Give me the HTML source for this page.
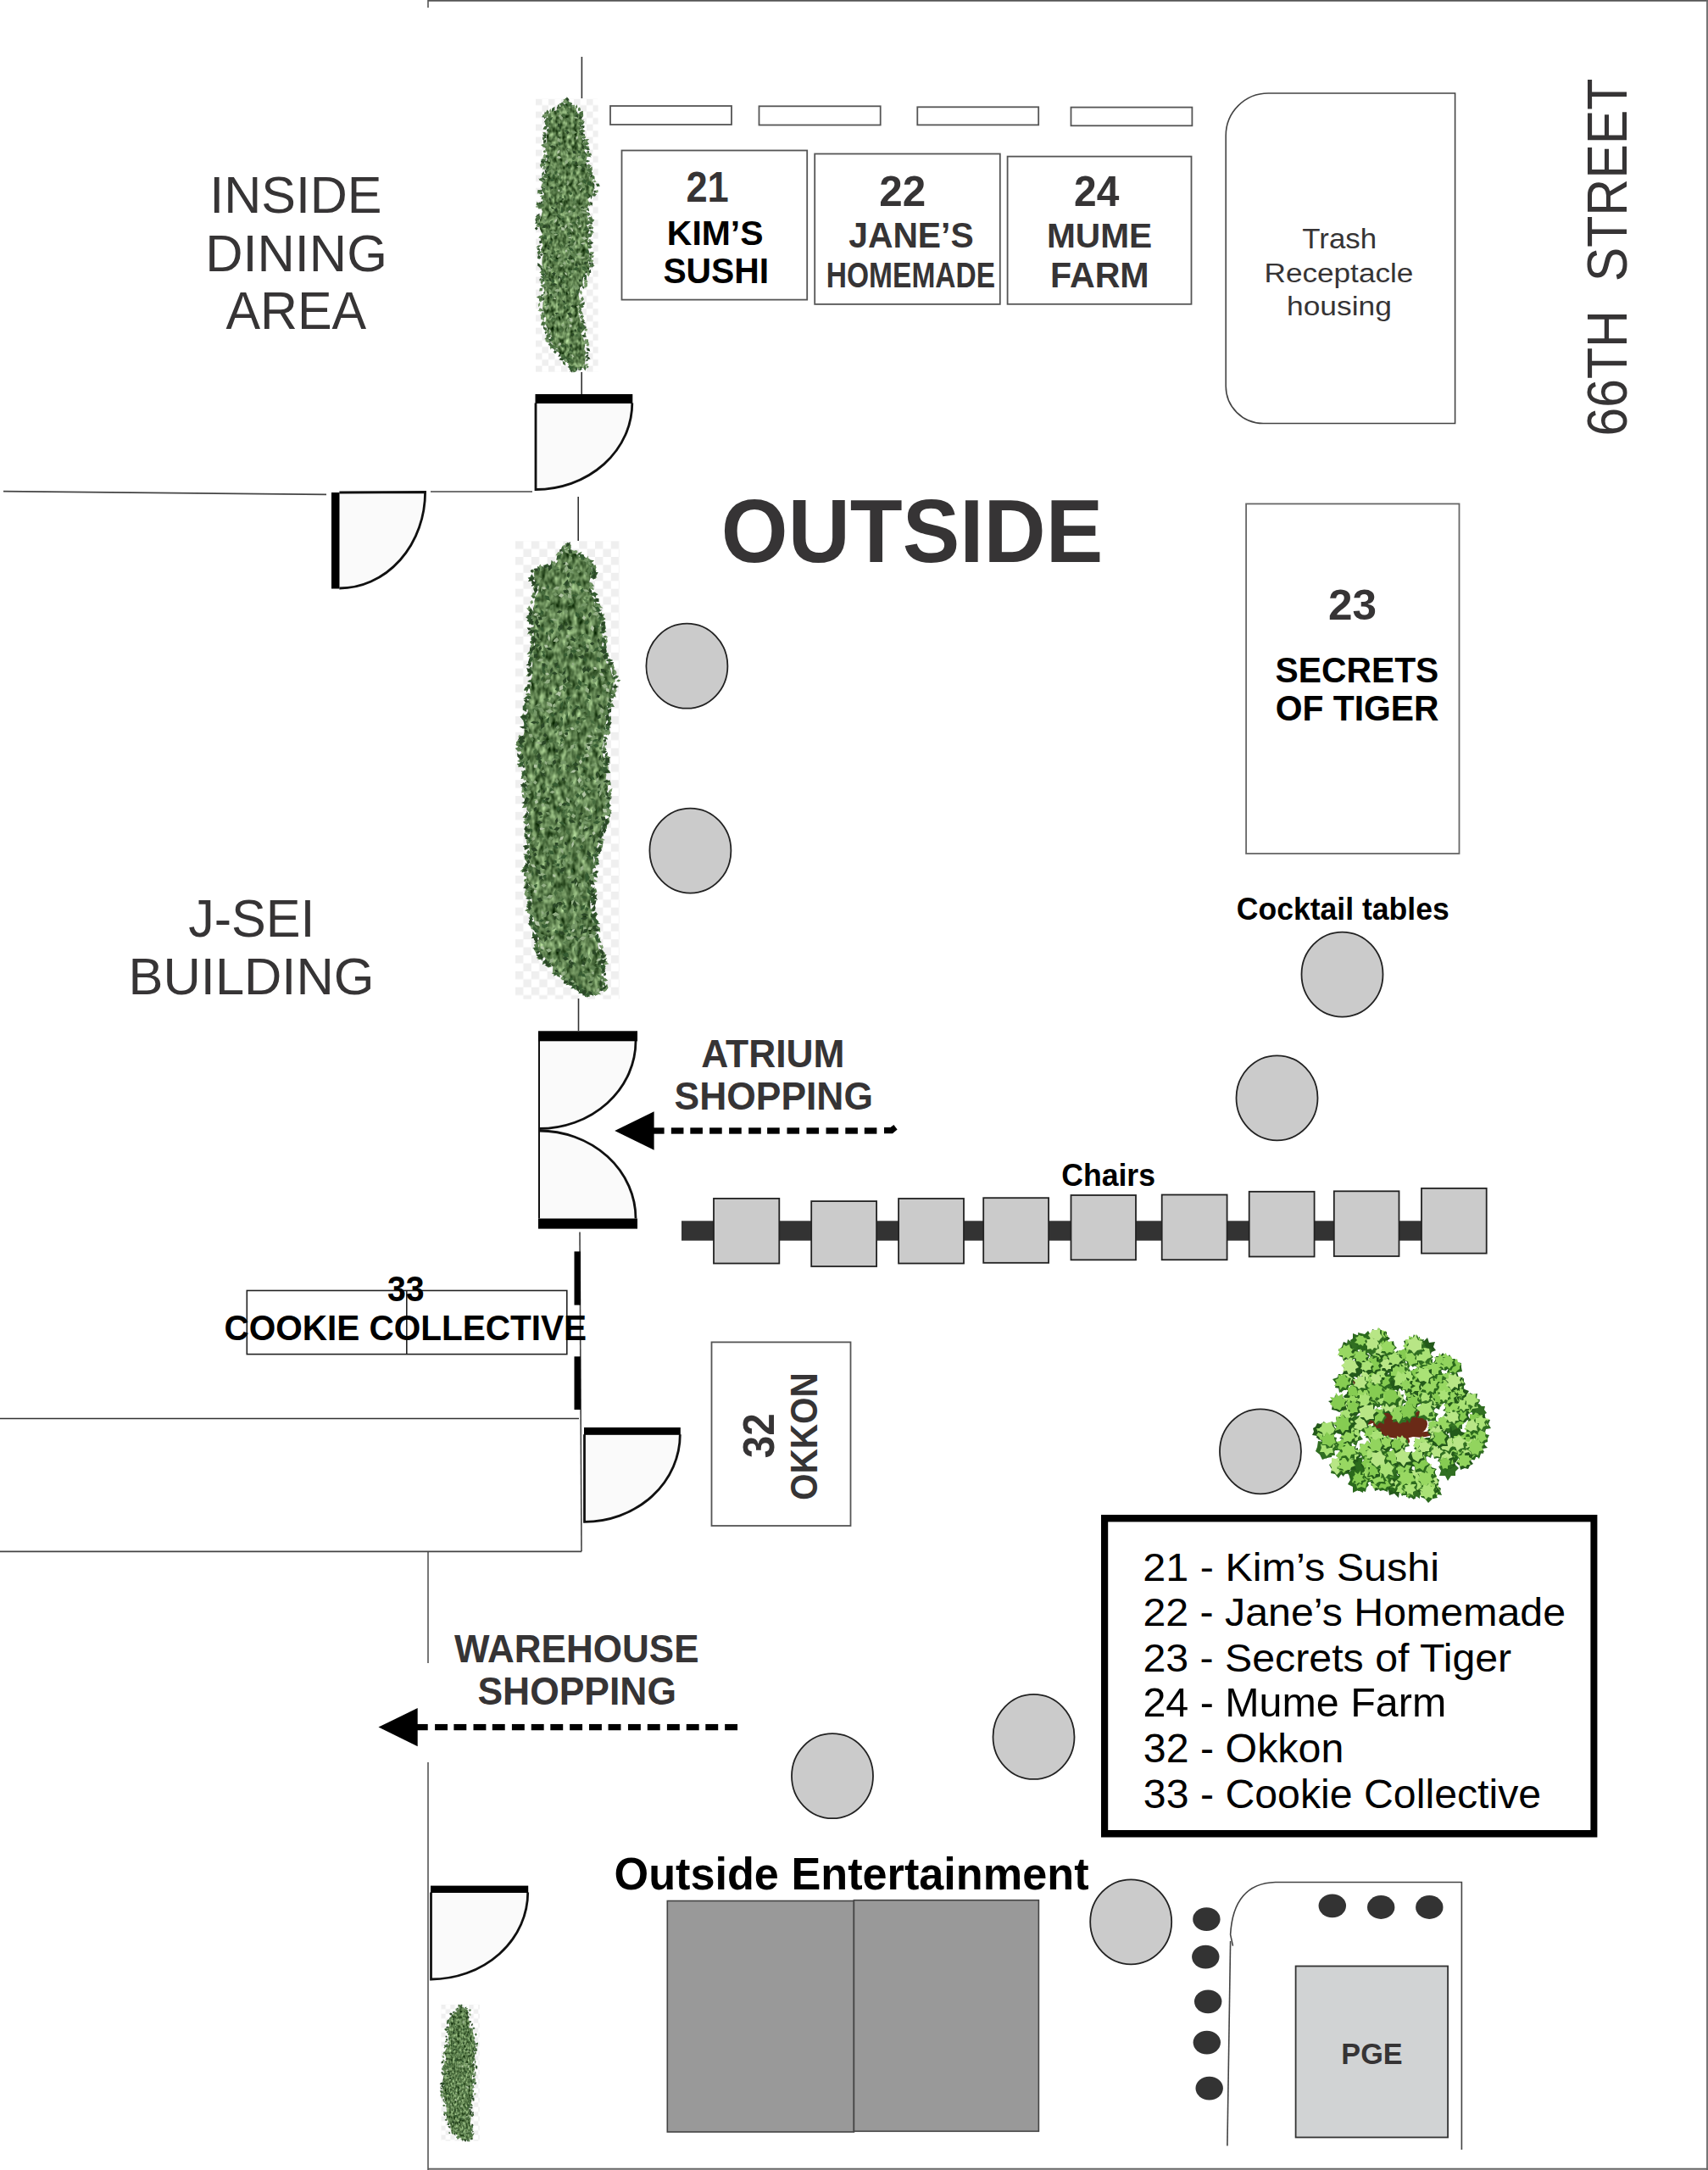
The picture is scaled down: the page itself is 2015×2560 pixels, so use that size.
<!DOCTYPE html>
<html><head><meta charset="utf-8"><title>Floor plan</title>
<style>html,body{margin:0;padding:0;background:#fff;width:2015px;height:2560px;overflow:hidden}svg{display:block;font-family:"Liberation Sans",sans-serif}</style>
</head><body>
<svg width="2015" height="2560" viewBox="0 0 2015 2560">
<rect width="2015" height="2560" fill="#fff"/>
<filter id="bl" x="-5%" y="-5%" width="110%" height="110%"><feGaussianBlur stdDeviation="0.45"/></filter>
<pattern id="cbb1" x="632" y="116.6" width="15.0" height="15.0" patternUnits="userSpaceOnUse"><rect width="15.0" height="15.0" fill="#fff"/><rect width="7.5" height="7.5" fill="#efefef"/><rect x="7.5" y="7.5" width="7.5" height="7.5" fill="#efefef"/></pattern>
<rect x="632" y="116.6" width="73.6" height="322.2" fill="url(#cbb1)"/>
<filter id="txb1" x="0" y="0" width="1" height="1" color-interpolation-filters="sRGB"><feTurbulence type="fractalNoise" baseFrequency="0.22 0.14" numOctaves="2" seed="11"/><feColorMatrix type="matrix" values="0.95 0 0 0 -0.11  1.0 0 0 0 0  0.85 0 0 0 -0.12  0 0 0 0 1"/><feComposite in2="SourceAlpha" operator="in"/></filter>
<path d="M670.6 119.5 L668.6 121.7 L663.3 124.6 L658.4 126.8 L656.2 130.4 L650.6 131.1 L646.8 135.4 L645.2 135.2 L647.4 142.5 L647.4 145.3 L646.8 147.3 L647.5 151.8 L645.6 156.8 L644.4 162.0 L645.2 167.7 L645.3 171.3 L645.0 175.6 L644.6 178.5 L646.4 185.4 L645.6 188.6 L643.5 191.2 L643.2 194.9 L644.8 200.4 L644.8 204.6 L644.8 210.4 L640.9 212.2 L643.8 217.3 L643.6 221.1 L639.9 226.1 L642.0 228.9 L639.1 233.3 L641.8 239.0 L638.3 241.2 L637.8 244.7 L639.9 249.3 L638.6 254.4 L636.8 259.5 L636.2 263.3 L636.4 266.8 L637.0 270.5 L640.1 276.8 L638.0 281.3 L637.9 283.9 L640.5 289.0 L638.1 294.6 L638.8 296.2 L641.1 300.8 L639.7 304.2 L639.3 310.4 L640.2 314.9 L641.0 318.7 L643.4 323.2 L642.4 329.0 L641.3 330.8 L644.3 337.5 L641.5 339.5 L642.9 346.4 L640.6 350.6 L642.7 353.6 L640.7 356.0 L640.0 363.6 L641.5 367.3 L642.2 372.2 L644.1 374.9 L643.3 381.0 L644.1 383.6 L647.0 390.2 L648.4 392.5 L650.7 396.6 L648.6 401.2 L651.3 404.8 L653.3 409.2 L657.8 411.6 L660.0 417.6 L665.2 420.0 L667.2 423.0 L668.2 424.3 L670.8 430.7 L671.7 434.4 L672.8 436.7 L674.4 437.0 L678.5 436.8 L682.3 434.0 L689.4 434.1 L689.8 429.1 L690.5 425.4 L689.3 420.2 L691.7 416.5 L689.3 411.9 L690.3 406.7 L688.8 401.7 L687.9 398.1 L685.5 393.8 L688.1 390.3 L686.5 384.2 L685.8 380.5 L684.5 376.9 L683.0 372.1 L682.6 367.0 L684.0 361.2 L684.5 357.6 L684.0 354.6 L682.4 346.8 L683.6 345.0 L684.3 339.0 L687.9 336.6 L687.3 333.2 L687.9 328.2 L690.1 323.0 L694.9 320.4 L695.3 314.2 L694.4 309.7 L692.9 306.1 L695.5 303.1 L695.2 299.2 L693.8 292.2 L694.5 288.3 L693.4 284.3 L694.6 280.1 L693.3 276.8 L695.4 270.9 L691.9 264.9 L694.5 260.4 L693.7 257.9 L692.6 254.4 L691.9 247.9 L693.8 243.3 L695.5 239.9 L693.4 235.0 L696.7 232.0 L698.2 228.4 L700.4 225.1 L701.5 217.9 L699.0 213.6 L695.6 210.5 L696.4 205.2 L693.0 201.6 L692.8 198.1 L692.2 194.8 L691.1 190.9 L692.7 184.3 L692.5 182.5 L689.3 177.4 L690.8 175.0 L688.1 169.8 L688.2 166.7 L686.6 161.6 L683.8 156.7 L684.4 154.4 L684.5 149.5 L683.3 145.6 L686.4 141.3 L685.1 136.0 L680.9 133.0 L679.3 127.5 L672.4 124.9 L670.0 123.2 L670.8 117.6 Z" fill="#577f4c" filter="url(#txb1)"/>
<g filter="url(#bl)">
<path fill="#2a4726" d="M654.8 369.1L656.5 372.1 659.9 371.7 658.2 368.8zM659.5 335.3L660.9 338.9 664.7 339.1 663.3 335.6zM649.9 244L651.3 246.4 654.1 247 652.6 244.5zM677.7 360.7L675.2 359.6 673.5 361.6 675.9 362.7zM682.6 385.5L685.1 388.4 689 388.1 686.4 385.2zM665.6 234.3L663.4 234 662 235.8 664.3 236.1zM647.1 327.1L647.5 330.8 650.8 332.4 650.4 328.7zM668.9 369.6L671.5 372.5 675.3 371.3 672.6 368.5zM687.6 170.7L685.9 173.9 688.3 176.6 690 173.4zM679.5 189.9L677.8 192.6 680 195 681.7 192.3zM681.4 310.5L683 312.8 685.8 312.8 684.2 310.4zM673.9 284.4L671.1 284.4 669.7 286.8 672.5 286.8zM678.7 310.3L678.4 313.3 681.2 314.6 681.5 311.5zM675.5 177.5L676.4 180.9 679.8 181.7 678.9 178.3zM661.3 265.2L659 263.3 657.1 265.5 659.4 267.4zM692.9 308.9L689.7 308.4 688.8 311.4 691.9 311.9zM647 264.2L646.8 267.4 649 269.7 649.2 266.5zM675.1 406.5L672.4 406.5 671.8 409 674.5 409.1zM656 322.4L653.3 320.9 650.7 322.7 653.4 324.2zM648 195.1L644.5 196.9 644.1 200.9 647.7 199.1zM663.1 354.1L664.9 357.4 668.4 359 666.6 355.6zM645.1 292L645.9 294.6 648.7 294.7 647.8 292.1zM658.8 239L655.8 238.1 654.2 240.8 657.2 241.7zM682.5 329.6L683.3 332.5 686.3 332.5 685.6 329.6zM660.7 231.6L659.7 233.9 661.9 235.3 662.8 232.9zM667.8 155.9L669.4 158.2 671.7 156.8 670.2 154.6zM693.7 214.1L694.9 217.5 698.4 217.2 697.2 213.8zM658.5 252.3L657 254.9 658.4 257.5 659.9 254.9zM654.1 320.4L652 323.5 653 327.1 655.1 324.1zM657.9 144.9L657.8 149 661.2 151.2 661.3 147.1zM656.7 245.2L653.9 246.9 654.6 250.1 657.5 248.4zM647.6 232.1L647.6 235.6 649.8 238.4 649.8 234.9zM645.8 265.6L641.6 265.3 639.1 268.8 643.3 269zM673.2 286.7L670.3 286.9 669.4 289.7 672.3 289.5zM640.1 298.5L642.4 300.6 645.5 300 643.2 297.9zM678.2 387.9L677.4 390.1 679.2 391.7 680 389.4zM657.5 335.3L653.9 334.1 650.5 335.7 654 336.9zM687.8 137.1L684.2 137.3 682.3 140.3 685.9 140.2zM690.4 199.1L687.5 197.8 685.4 200.1 688.3 201.5zM681.2 133.8L678.6 137.2 679.5 141.3 682.1 138zM666.8 424.7L669.4 427.9 673.5 427.2 670.9 423.9zM685.1 244.1L686.1 246.8 688.9 246.2 687.9 243.5zM648.4 221.1L650.6 223.2 653.4 221.9 651.2 219.9zM681.6 254.2L680.5 257.6 683 260 684.1 256.7zM657 342.5L656.5 346.1 658.7 349 659.2 345.4zM658.1 325.2L658.4 329.3 662.1 331.1 661.9 327zM648.2 172.2L651 175 654.8 174.1 652 171.3zM652.1 315.7L649.4 314.5 647.1 316.3 649.8 317.6zM651.1 346.4L648.4 346.9 648.9 349.6 651.6 349.2zM669.3 303.9L671.5 306.3 674.3 304.6 672.1 302.1zM674 393.9L675.2 396.2 677.5 395.1 676.3 392.7zM696.7 305.5L694.6 307.2 695.6 309.7 697.7 308zM640.9 300.4L638.6 299.3 636.6 300.8 638.8 301.9zM640.1 350.4L636.5 351.6 635.8 355.3 639.4 354.1zM686.1 434.1L683.1 433.2 681.7 436 684.7 436.9zM648.7 409.4L650.6 411.1 653 410.3 651.1 408.5zM668.4 422.6L665.1 421 662.1 423 665.3 424.6zM682.9 361L685.4 363 688.4 362.1 685.9 360.1zM685.7 384.9L687.1 386.9 689.5 386.8 688.1 384.9zM668.7 114.3L667.5 118.1 670.3 121 671.4 117.2zM691.8 175.9L693.6 177.4 695.4 175.9 693.6 174.5zM646.6 406.2L649.5 408.2 653 407.5 650.1 405.6zM640.3 320.5L639.6 324.3 642.1 327.4 642.8 323.5zM637.4 313.7L637.7 317.6 640.3 320.5 640 316.6zM633.2 257.9L631.4 259.7 632.3 262.1 634.2 260.3zM634.9 301.1L634.3 303.8 637 304.7 637.6 301.9zM686.8 432.8L683.8 432.4 683 435.3 686 435.7zM635.9 350.5L636.6 353.1 639.3 353.5 638.6 350.8zM683.1 154.8L684.9 157.8 688.5 158.1 686.6 155.1zM638.7 328L636.6 329.1 636.5 331.5 638.6 330.4zM698.4 204.9L696 208.2 697.2 212 699.6 208.7zM694.6 298.6L695.8 301.4 698.8 301.7 697.6 298.9zM642.9 131.4L642.3 134.5 643.9 137.1 644.5 134.1zM690.1 148.5L686.2 148.8 684 152 687.9 151.7zM641.6 189.6L639.6 192.4 639.9 195.8 641.9 193zM697.9 298.8L695.7 300.9 696.6 303.8 698.8 301.7zM666.8 422.6L662.6 421.3 659.3 424.2 663.5 425.4zM646 148L642.3 149.2 640.3 152.5 644 151.3zM644.3 164.2L641.1 165.9 641.2 169.5 644.4 167.9zM638.3 210.6L640.6 212.8 643.8 212.2 641.5 210zM662.2 417.6L659.4 418.3 658.4 420.9 661.1 420.2zM634.3 310.1L634.2 313.5 637 315.6 637.2 312.1zM640.8 223.8L637.1 224.6 634.8 227.6 638.5 226.8zM702.1 224.2L700.1 225.9 701.7 228 703.6 226.2zM695.4 262.2L696.6 264.6 699.2 263.9 698 261.5zM688.1 374.4L685.8 373 684.1 375 686.4 376.4zM636.9 253.7L633.7 253.8 631.5 256.1 634.7 256zM687 147.7L687.2 150 689.3 151 689.1 148.7zM651.2 400.1L647 400 645.1 403.7 649.2 403.7zM638.9 239.9L636.2 238.6 634.2 240.7 636.8 242zM630.8 269.5L632.7 271.5 634.7 269.7 632.8 267.6zM639.8 218.4L638.2 220.4 639.3 222.8 640.9 220.8zM697.8 309.8L695.5 309.5 694.3 311.5 696.6 311.9zM694.7 177.8L692.1 179 692.5 181.8 695.1 180.6zM641.6 188.8L638.7 189.7 639.6 192.5 642.4 191.6zM640.9 384.8L641.2 388 643.6 390.1 643.4 386.9zM640.4 188.7L637.9 189.9 638.7 192.6 641.1 191.4zM672.8 433.5L672.9 437.2 675.2 440.1 675.1 436.4zM698.3 308.4L697.4 312 699.3 315.3 700.1 311.7zM694.3 286.4L697.2 288.5 700.2 286.6 697.3 284.6zM644 156.3L641.4 159.2 642.3 162.9 644.9 160zM644 197L641.6 195.8 640.5 198.4 643 199.5zM639 283.5L636 284.5 636.7 287.5 639.7 286.6zM696.9 318.1L693.9 319.7 694.4 323 697.3 321.4zM676.5 434.4L673.5 435.7 672.2 438.7 675.2 437.4zM660.2 124.6L657.5 125.6 656.7 128.3 659.4 127.4zM698 305L694.2 303.6 690.8 305.7 694.5 307zM695.6 238.1L695.5 241.5 698.8 242.5 698.9 239zM636.5 251.8L632.9 254 632.6 258.2 636.2 256zM683.8 365.3L682.7 368 684.8 370 686 367.3zM641.3 336.9L641.3 339.2 643.5 340 643.5 337.6zM694.4 417.9L691.6 419 690.7 421.9 693.5 420.7zM696.9 200.6L695.1 203.9 696.8 207.4 698.6 204zM666.6 117.1L668.9 119.2 672 118.3 669.6 116.2zM685.3 379.6L687.9 381.5 691.2 381.3 688.5 379.3zM644.4 133.5L641.5 136.4 642.1 140.5 645 137.6zM648.2 392L646.3 390.6 644.5 392.2 646.4 393.6zM683.8 157.8L686.4 160.5 690 159.5 687.4 156.7zM640.6 368.2L638.7 369.6 639.4 371.9 641.4 370.5zM662.3 120.8L663.3 123.7 666.1 125 665 122.1zM639.1 236.9L637.5 238.8 638.7 240.9 640.3 239.1zM694.1 285.5L693.7 288.3 696.3 289.4 696.7 286.6zM642.8 199.2L642.8 203 645.1 205.9 645.2 202.2zM691.6 421.5L693.6 423.9 696.6 423.5 694.7 421.1zM695.7 195L693.5 196.9 693.5 199.8 695.8 197.9zM639.3 371.8L639.9 374.3 642.5 374.6 641.9 372.1zM691.6 410.3L692.8 413.7 696.3 414.4 695.1 411.1zM691.4 385.1L688.9 385.7 689.2 388.1 691.6 387.6zM654 407.5L652.7 410.6 654.3 413.6 655.7 410.4zM643.4 142.4L643.6 145.5 646 147.3 645.9 144.3zM641.2 350.9L640.4 353.1 641.9 354.8 642.7 352.7zM643.2 221.8L640.8 221.5 639.9 223.7 642.3 223.9zM698.2 267.7L695.3 267 694.1 269.6 696.9 270.4zM686.2 395.4L688.6 398.1 692.1 397.3 689.7 394.6zM687.3 376.1L685.6 379.2 688.1 381.6 689.8 378.5zM698.3 227.8L699.4 231.1 702.9 231.3 701.8 227.9z"/>
<path fill="#365b31" d="M651.6 283.6L648.3 284.9 647.5 288.3 650.8 287zM691.3 293.4L690.7 297.5 693.9 300 694.5 296zM640.3 279L641.8 282 645 282.4 643.6 279.4zM698.9 217.2L696.2 215.7 694.5 218.3 697.2 219.9zM647.4 349.5L650.3 352.1 654.1 351.6 651.2 349.1zM665.9 360.1L664.7 363.1 666.5 365.8 667.7 362.8zM682.3 385.4L681.2 388.9 683.2 391.9 684.2 388.4zM681.5 316.9L678.2 316 675.3 318 678.7 318.9zM651.5 347.3L653.8 348.5 656.1 347.5 653.9 346.2zM674.6 262.5L677.2 264.2 680.3 263.5 677.6 261.8zM680 432.2L677.4 435.2 679 438.8 681.5 435.8zM688.7 210.6L687.9 214.8 691 217.7 691.8 213.5zM659.6 167.5L658.1 170.3 660.8 172.2 662.3 169.3zM648.9 183.6L645.9 185.1 645.1 188.2 648 186.7zM648.8 204.8L645.8 205.3 645.2 208.2 648.1 207.7zM694.2 269.4L690.3 269.3 687.4 272 691.3 272zM678.5 434.7L676.4 436.6 678.1 438.9 680.2 437zM680.1 341.3L679.5 345.2 682.2 348 682.8 344.2zM660.9 407.5L663.8 410.1 667.4 408.6 664.5 406.1zM669.9 190.8L669.5 193.3 671.4 195.1 671.7 192.6zM647.5 211.7L650.7 214.3 654.6 213.1 651.5 210.5zM649.9 319.4L647.7 319 646.4 320.8 648.6 321.2zM681.1 177L682.1 180.6 685.7 181.3 684.7 177.7zM686.9 193L684.5 194.8 686.2 197.3 688.6 195.4zM651.2 271.1L649.4 273.5 649.8 276.5 651.6 274.1zM665.9 257.3L663.1 256.8 662.7 259.6 665.5 260.1zM677.8 283.6L675.3 285 676.7 287.5 679.1 286.1zM654.6 275.1L656.2 277.8 659.2 277.6 657.7 275zM643.3 330L645.3 332.2 648.1 331.5 646.2 329.3zM673.5 265.9L673.7 268.3 676.1 268.6 675.8 266.3zM652 328.6L650.2 331.9 652.6 334.7 654.4 331.5zM665.7 248.2L661.9 248.7 659.6 251.8 663.4 251.3zM642 276.2L642.5 280.1 645.2 283 644.7 279.1zM684.3 286.6L685.2 289.2 687.8 290 687 287.4zM665.1 154.4L667.9 155.8 671 154.7 668.1 153.3zM677.4 201.7L676.1 204.3 677.6 206.8 678.9 204.1zM683.2 316.4L679.3 315 676.2 317.8 680.1 319.2zM659.1 357.5L657.7 359.3 659 361.1 660.3 359.4zM673.7 422.7L670.7 421.8 669.1 424.5 672.1 425.4zM698.2 216.4L698.7 220.4 701.5 223.3 701 219.3zM652.7 302L649.7 301.1 648.3 303.9 651.2 304.8zM669.7 244.1L671.7 246.2 674.5 245.7 672.5 243.5zM676.4 303.4L674.5 306.3 676.4 309.1 678.3 306.2zM672.2 411.1L671.1 414.4 673.8 416.7 674.9 413.4zM644.7 303.2L644.4 305.8 646.7 307 647 304.4zM670.2 292.3L672.7 295.7 676.9 295.7 674.4 292.3zM688.8 183.2L687.3 186.1 688.2 189.3 689.7 186.4zM669.9 196.1L670.3 198.7 672.8 199.1 672.5 196.5zM653.2 204.2L651.8 207.8 653 211.4 654.3 207.8zM675.4 228.1L673.1 226.3 671.4 228.7 673.7 230.5zM648.3 399.8L649.7 402.2 652.5 401.9 651.1 399.4zM689.6 221.2L687 222.5 687.4 225.3 689.9 224zM650 397.6L650.9 400.3 653.6 400.9 652.8 398.2zM661.9 154.1L659.7 153.2 658.1 154.8 660.2 155.7zM656.5 130.4L657.4 132.9 660 132.6 659.1 130.1zM652.3 137.9L648.5 139.2 646.9 142.9 650.7 141.6zM692.4 213.2L690.2 212.1 688.8 214.2 691 215.3zM696.5 213.3L692.8 214.8 692.6 218.8 696.3 217.3zM657.5 201L654.2 202.9 654.6 206.7 657.9 204.8zM662.6 243.4L661.7 247.3 663.2 250.9 664.1 247.1zM669.9 305.6L667.8 304.3 665.9 305.8 668 307.1zM679.5 246.8L676.4 247.4 675.3 250.4 678.4 249.8zM666.5 325L662.9 325.3 662.1 328.8 665.7 328.5zM672.2 272.4L669.1 275.1 669.4 279.1 672.4 276.5zM652.4 305.9L655.1 308.6 659 308.3 656.2 305.6zM686.4 314.2L688.2 317.9 692.3 318.3 690.5 314.6zM667.9 115.5L665.8 117.2 666.4 119.8 668.5 118.1zM647.1 141.5L643.5 141.2 641.7 144.3 645.3 144.6zM642 136.4L643.3 138.9 645.6 137.4 644.4 135zM662.5 420L664.6 423.4 668.6 423.3 666.5 419.8zM643.5 212.5L640.8 215.2 640.7 219 643.4 216.3zM695 262.9L692.5 262.6 691.2 264.8 693.8 265.2zM648.7 392.6L647.4 394.4 648.6 396.4 649.9 394.5zM678.6 435.5L676.5 436 676.3 438.2 678.4 437.6zM640.4 328.1L638.6 330.7 640.9 332.9 642.7 330.3zM702.9 216.8L704.3 220 707.8 219.7 706.4 216.5zM692 250.1L693.4 253.1 696.6 254 695.2 251zM675.2 432.7L672.2 431.1 669.5 433 672.4 434.6zM694.7 200.2L696 202.5 698.4 201.3 697 199zM686.1 162.5L688.7 163.8 691.4 162.7 688.8 161.4zM688.8 322.6L688.5 326.8 691.9 329.2 692.2 325.1zM646.7 208.9L643.2 208.1 639.9 209.7 643.4 210.5zM684.4 145.1L684.1 148.9 686 152.2 686.4 148.4zM633 292.9L634.7 295.2 637.5 294.7 635.8 292.3zM641.2 161.4L642.3 163.5 644.6 162.7 643.5 160.5zM689.7 356L686.8 357.5 686.8 360.7 689.6 359.2zM632.7 261.8L634.2 265.8 638.4 266.7 636.9 262.6zM691.6 327.5L688.9 328 689.7 330.7 692.3 330.2zM672.6 122.4L672.7 125.1 674.8 126.8 674.8 124.1zM646.8 151.2L644.8 153.2 645.7 155.8 647.6 153.8zM639.7 187.8L641.1 191.2 644.7 192 643.3 188.6zM638.5 372.6L638.5 375.6 641.5 375.6 641.5 372.6zM696.2 312.3L698.6 314.2 701.7 314 699.3 312.1zM692.7 275.5L694.4 279 698.3 278.9 696.6 275.4zM685.4 132.9L684.6 136.2 687.1 138.3 687.9 135.1zM632.9 265L634.1 267.1 636.5 266.4 635.3 264.3zM699.4 311.6L697.6 313.5 698 316 699.8 314.1zM643 319.1L639.9 317.9 638.2 320.7 641.3 321.9zM671.3 120.4L668.5 120.3 668.2 123.1 671 123.2zM677.4 123.6L675.3 125.6 676.1 128.3 678.2 126.3zM644.3 135.6L640.9 135.5 639.1 138.3 642.5 138.4zM671.6 120.6L669.8 123.2 670.6 126.4 672.4 123.7zM641.7 321.1L639.8 323.1 641.4 325.4 643.3 323.4zM669.5 424.1L666.7 423.9 665.9 426.5 668.6 426.7zM701 297.6L698.1 297.4 696.4 299.8 699.3 299.9zM637 363.2L636.1 365.6 637.8 367.6 638.7 365.2zM696.3 302L694.4 304.8 695.9 307.8 697.8 305.1zM635.7 225.6L636.8 228.9 640.2 228.9 639.1 225.7zM687.4 131L685.1 134.2 685.7 138.1 688 134.9zM691.4 181.6L693.9 184.4 697.6 185.4 695 182.5zM639.8 158.8L641.2 161.1 643.8 161.4 642.5 159.1zM646.1 132.1L642.9 134.4 642.3 138.4 645.6 136.1zM641.5 210.1L638.5 210.4 636.8 213 639.9 212.7zM691.1 243.5L691.8 247.4 695.1 249.6 694.5 245.7zM634 302.6L635.4 304.9 638.1 304.9 636.7 302.7zM690.5 173.5L692.5 176.5 696 176.7 694.1 173.8zM648.6 142.5L645 144.5 644.3 148.6 647.9 146.6zM638.2 303.5L635.6 302.4 633.8 304.7 636.5 305.8zM689.8 157.8L687.8 160.2 688.1 163.3 690.1 160.9zM677 431.7L673.5 432.3 672 435.6 675.5 435zM699.5 227.1L699.1 230.1 701.2 232.4 701.6 229.3zM657 414.8L654.6 413 652.8 415.3 655.2 417.2zM635.5 260.9L632.5 261.2 631 263.8 634 263.5zM685.4 384L688 385.8 691.2 385.1 688.5 383.2zM684.7 384.6L686.7 387.8 690.5 388.2 688.4 385zM641.7 201.9L639.3 204.5 639.4 208.1 641.9 205.5zM675.1 434.9L673 433.3 671.2 435.2 673.3 436.8zM698.2 228L696.5 231.6 697.1 235.6 698.7 231.9zM639.9 207.3L639.3 210 641.2 212.1 641.8 209.3zM647.4 146.8L644.4 146.7 644.3 149.7 647.3 149.8zM673 120.6L671.8 122.9 674 124.3 675.2 122zM694 423.4L691.7 424 691.2 426.3 693.4 425.7zM696.4 190.1L692.9 188.8 689.4 190.2 692.9 191.5zM654.5 125.7L651.1 128.1 650.9 132.3 654.3 129.9zM686.1 165.8L689.6 167.9 693.3 166.3 689.8 164.1zM683.2 434.3L684.2 436.7 686.7 435.9 685.7 433.5zM687.1 336.7L687 339.3 688.9 341 689.1 338.4zM644 390.2L642.5 392.2 643.6 394.4 645 392.4zM684.7 128L682 127.8 681.9 130.5 684.6 130.7zM644.7 188.5L641 187.5 637.4 188.9 641.1 189.9zM639.5 320.7L638 323.5 640.3 325.8 641.8 322.9zM648.7 184.1L644.8 182.5 641.3 184.7 645.1 186.3zM690.7 416.2L692.7 417.8 694.9 416.6 692.9 414.9zM693.2 167.3L690.5 166.8 689.2 169.2 691.9 169.8zM649.6 390L646.5 390.1 644.5 392.5 647.5 392.3z"/>
<path fill="#b2c6a6" d="M648.8 387.8L647.3 390.7 648.4 393.7 649.9 390.9zM673.8 248.9L671.1 247.9 669.2 250 671.9 251zM679.7 361.8L682.6 363.8 685.8 362.2 682.9 360.1zM673.1 276.1L670.6 279.5 671.5 283.6 674 280.2zM661.9 268.1L662.5 271.6 666 272.1 665.4 268.6zM686.8 265.4L683.6 266.1 681.7 268.7 684.9 268.1zM691.3 286.8L687.9 285.9 684.8 287.8 688.3 288.6zM673.5 296.1L670.9 298.6 670.3 302.2 672.9 299.7zM668.4 263.8L666.1 266.8 666.5 270.6 668.8 267.6zM685.5 218.9L683.4 221.9 684.2 225.4 686.3 222.4zM644.2 343.1L642 346.2 643.8 349.6 646 346.4zM681.5 159.8L679.2 161.9 679.8 165 682.1 162.9zM656.6 185.2L659.2 187.5 662.2 185.9 659.7 183.7zM660 222.8L658 224.1 658.8 226.4 660.8 225.1zM657.5 257.2L654.5 259.5 653.7 263.2 656.7 260.9zM671.5 374.6L671.7 378.4 675.3 379.7 675.1 376zM671.8 382.2L671.3 385.4 674.3 386.6 674.8 383.4zM671.8 418.6L674.1 421.3 677.7 421.3 675.4 418.5zM651.7 351.2L653.6 353.1 656.3 353 654.4 351.1zM685.9 280.3L689.1 282.9 692.9 281.8 689.8 279.3zM660.8 176.3L657.7 178.2 657.1 181.8 660.2 179.9zM673 268.2L673.5 271.7 676.3 273.8 675.8 270.3zM668.3 293.9L666.5 295.7 667.5 298 669.3 296.2zM642.3 345.5L643 348.2 645.7 347.9 645 345.2zM665.8 320.9L666.7 323.8 669.3 325.1 668.5 322.3zM662.3 404.4L659.1 404.6 658.2 407.7 661.4 407.5z"/>
<path fill="#5b8050" d="M667.5 278L671.2 280 675.1 278.7 671.4 276.7zM661.8 371.5L660.8 374.7 662 377.9 663.1 374.7zM658.3 248.2L659.4 250.9 662.2 250.4 661.1 247.8zM670.4 359L668.2 360.2 668 362.6 670.2 361.4zM670.4 281.1L671.8 283.3 674.3 283.1 673 280.9zM644.1 168.8L647.6 170.9 651.3 169.2 647.8 167zM682.1 391.1L681.4 394.5 683.9 396.9 684.6 393.5zM678.6 296.2L678.2 300.4 681.2 303.4 681.6 299.2zM642.2 275.2L645.6 277.4 649.6 276.5 646.2 274.4zM650.2 252.2L652.6 254.2 655.7 254 653.3 252zM642.5 355.2L642.8 358.2 645.8 358.4 645.5 355.4zM689.8 237.8L687.6 240 689.6 242.5 691.9 240.2zM683.1 190.6L681.2 192.7 683.6 194.2 685.5 192.1zM688 180.4L688.3 183.5 691.1 184.5 690.9 181.4zM644.3 235.6L640.5 236.4 638.8 239.9 642.6 239.1zM669.4 294.3L670.2 298.4 674.3 299.7 673.4 295.5zM668.6 198.2L669.2 201.4 671.8 203.6 671.2 200.3zM665.3 255.1L662 254.4 659.8 256.8 663 257.5zM642.2 258.4L641.1 260.7 643.4 262 644.5 259.6zM659.9 230.6L661.4 232.9 663.5 231.2 662 228.9zM669.5 128.5L669.4 131.5 672.4 132.1 672.5 129zM677.5 345.9L675 345.6 673.5 347.6 676 347.9zM648.1 195.6L648.7 199 652.1 199.4 651.5 196zM652.9 251.4L655.2 254 658.8 254.1 656.4 251.5zM652.7 338L649 337.2 645.6 339 649.3 339.8zM656.6 239.7L652.8 241.2 651 244.8 654.8 243.4zM663.2 233.6L660.1 233.6 659 236.5 662.1 236.5zM675.8 236L676.9 239.5 680.6 239.8 679.4 236.3zM693.9 316.9L691.6 318.5 693.1 320.9 695.5 319.3zM681.3 259.7L680.7 262.5 682.6 264.7 683.3 261.9zM672.7 300.5L675.6 302.4 678.9 301.2 676 299.3zM663 389.7L660.4 388.2 659.2 390.8 661.8 392.3zM655.8 215.3L656.3 218.8 659.6 219.9 659.1 216.4zM665 262.9L662.2 261.5 660 263.8 662.8 265.2zM647.3 323.8L644.3 324.1 644.1 327.2 647.2 326.8zM660.5 272.5L656.4 272.2 653.5 275.1 657.5 275.3zM668.7 415.3L672.3 417.4 676.1 415.8 672.6 413.6zM650.9 350.4L650.9 353.2 653.6 353.2 653.7 350.5zM667.9 139L669.5 141.8 672.7 142.1 671.1 139.3zM676.4 333.9L674 337 673.8 340.9 676.2 337.8zM650.8 302.3L651 305.8 653.9 307.8 653.7 304.2zM662.4 206.4L659 207.1 658.6 210.5 661.9 209.8zM643.2 219.7L643.6 223.8 647.3 225.2 647 221.2zM652.6 299.3L651.2 301.5 653.1 303.3 654.4 301.1zM671.9 253L668.8 251.9 666.3 253.9 669.4 255zM653.3 385.7L653.2 388.3 655.4 389.6 655.5 387zM661.5 370.7L657.5 370 654.4 372.7 658.4 373.4zM673.5 418.1L672.1 420.8 673.7 423.3 675.1 420.7zM691.8 187.5L688.2 188.3 686.9 191.7 690.4 190.8zM657.2 204.1L655.3 206 657.3 207.8 659.3 205.9zM652.1 339.9L650.4 343.5 651.1 347.5 652.8 343.9zM638.1 223.5L634.8 225.2 633.9 228.7 637.2 227.1zM641.5 371L638 373 638.3 377.1 641.8 375zM641.7 378.2L640.4 382 641.8 385.8 643.1 382zM691.7 166.4L688.9 166.6 689.2 169.4 692 169.2zM645.2 380.2L642.1 379.7 640.5 382.3 643.5 382.9zM698.4 256.7L695.5 255.9 693.2 257.8 696.1 258.6zM687.3 349.7L684.9 352.5 686.6 355.8 689 353zM692.9 430.9L691.5 432.8 693.3 434.5 694.7 432.5zM657.4 409.4L653.8 408.2 651.1 410.8 654.7 412.1zM639.3 191.2L636.8 194.7 638.5 198.6 641 195.1zM646.6 335.1L642.5 334.3 639.3 336.9 643.4 337.7zM683.1 361.4L682.6 364.1 685.3 364.7 685.8 362zM677.7 123.7L675.9 125.7 676.2 128.4 678 126.4zM636.2 321.2L640 323.3 643.8 321.3 640.1 319.3zM682.3 367.1L684.1 370.6 688 370.7 686.2 367.2zM691.2 195.3L694.4 197.5 698 195.9 694.8 193.6zM642.9 172L642.7 174.6 645 175.8 645.2 173.1zM641.5 206.9L640.3 208.9 641.6 210.8 642.7 208.8zM689.3 141.5L686.2 141.6 684.1 143.8 687.2 143.7zM666.5 419.2L663.1 417.8 660.5 420.3 663.9 421.7zM638.4 213.5L640.5 215.6 643.4 215 641.3 212.9zM687.4 169.6L688.4 171.9 690.7 171 689.7 168.7zM689.3 167.9L691.5 170.8 695.1 170.1 692.9 167.1zM699.8 312.9L696.2 312.9 693.5 315.5 697.2 315.5zM699.7 203.7L696.6 202.7 694.4 205.2 697.6 206.2zM638 171L640.7 173.3 644 171.9 641.3 169.7zM689.2 373L686.9 371.9 685.1 373.8 687.4 374.9zM697 182.1L693.3 181.8 690.2 183.9 693.9 184.2zM649.8 143.8L646.3 143 643.9 145.7 647.4 146.5zM684.3 135.3L686 137.5 688.3 136 686.6 133.8zM639.5 243.8L636.3 243.6 634.4 246.2 637.7 246.4zM649.3 395.1L646.6 395.8 647.1 398.5 649.8 397.8zM641.9 132.9L642.1 136.9 644.9 139.8 644.7 135.8zM700.9 301.5L698.2 301.5 697 304 699.7 304zM695.7 252L692.7 251.1 691.7 254 694.7 254.9zM637.4 336.6L640.3 339.2 644 338.4 641.2 335.8zM639.4 279.1L636.8 278.4 635.3 280.6 637.9 281.4zM640.3 339.8L636.8 340.1 636.2 343.5 639.7 343.3zM644.2 174.5L643.2 176.8 644.5 178.9 645.5 176.6zM642.6 135L643.4 137.3 645.8 136.7 645 134.3zM695.2 163.9L691.6 164.1 689.2 166.6 692.7 166.5zM684.1 126.3L681.8 128 682.4 130.8 684.7 129.1zM639.1 329.1L637.5 332.8 639.2 336.3 640.8 332.7zM690.2 391.5L688.8 393.9 689.9 396.5 691.3 394.1zM696.5 181.1L693.5 181.8 692.9 184.9 696 184.2zM632.7 350.5L636.5 352.7 640.3 350.7 636.5 348.5zM649.3 408.2L651.2 411.1 654.5 409.9 652.6 407zM692.7 289.2L693.1 292.5 696.3 293.1 695.9 289.9zM688.1 379L685.6 381.6 686 385.3 688.5 382.6zM693.4 240.5L695.2 242.9 697.9 241.5 696 239.1zM631.9 255.4L634.4 258 637.7 256.6 635.2 254zM654.7 411.2L656.3 414.6 659.8 415.8 658.3 412.3zM650.4 405.8L648.8 409.1 649.6 412.6 651.1 409.4zM637 371L639.2 373.8 642.6 374.5 640.5 371.7zM645.1 219.4L642.1 218.3 639.9 220.6 642.9 221.7zM643.1 177L640.7 178 641.8 180.4 644.2 179.4zM644.1 192.5L640.3 192.6 638.6 196 642.4 195.9zM671.7 119.9L668 118.6 664.6 120.7 668.4 122zM646.2 145L643.3 146 644.2 148.9 647.1 147.9zM685.8 168.3L688.1 171.2 691.7 170.7 689.5 167.8zM647.3 388.6L644.5 389.3 644.7 392.2 647.5 391.5zM636.8 329.8L638.4 331.8 640.5 330.4 638.9 328.4zM680.6 123.3L678.7 125.8 679.5 128.9 681.4 126.3zM635.7 364.3L638 367.3 641.8 367.3 639.5 364.3zM683.5 141.5L685.9 144.2 689.5 144.3 687.1 141.6zM695 257.6L695.4 261.3 698.6 263.2 698.1 259.6zM700.4 268.7L698.3 267.1 696.4 269 698.6 270.6zM688.7 135.8L686.2 135.2 684.6 137.1 687 137.7zM695.2 287.9L695.3 290.8 697.7 292.3 697.6 289.5zM693.9 400L691.2 402.4 691.3 406 694 403.7zM640.4 156L641.6 158.4 644.3 158.5 643.1 156.1zM645.1 215.7L641.5 216.1 640.6 219.6 644.2 219.2zM648.3 398.9L644.9 397.7 642.2 400 645.5 401.2zM687.8 131L684 132.5 682.4 136.3 686.2 134.7zM641.7 277.1L637.8 277.9 635.2 280.8 639 280zM698.6 196.6L695.2 198.8 695.6 202.8 698.9 200.6zM645.8 171.8L642.6 171.2 640.3 173.6 643.5 174.2zM648.8 391.3L646 390.3 643.3 391.7 646.2 392.6z"/>
<path fill="#769868" d="M645.6 255L642.5 254.5 640.3 256.7 643.4 257.2zM646.3 187L646.1 190 649 191.2 649.1 188.2zM684.8 246.3L686.8 248.4 689.6 247.4 687.5 245.3zM673.3 319.1L674 322.1 677.1 321.7 676.4 318.6zM671.3 269.7L672.3 273.1 675.3 275.1 674.2 271.7zM648.1 294.5L646 297.7 647.2 301.4 649.4 298.2zM670.6 286.5L667.2 288.5 666.1 292.3 669.6 290.3zM669.8 342.7L669.3 345.6 671.1 347.8 671.7 345zM648.4 299.5L650.2 302.1 653.3 302.7 651.5 300.1zM681.5 213.2L678.5 213.9 678 217 681.1 216.3zM679.4 336.6L675.9 337 675.4 340.5 678.9 340.1zM683.2 306.4L683.9 309.5 686.6 311.3 685.8 308.2zM669.4 385.3L667.9 388.9 669 392.8 670.5 389.1zM672.1 289.9L672.6 292.3 675.1 292.7 674.6 290.3zM659.7 137L659.7 139.6 661.7 141.3 661.7 138.7zM645.2 300.9L643.5 303.9 644.1 307.2 645.7 304.2zM646.2 188.3L646.4 190.7 648.8 190.7 648.6 188.3zM658 344L654.2 346.1 653.8 350.3 657.5 348.2zM641.9 259.5L640 261.8 642.1 263.8 644 261.5zM650.7 276.6L650.5 280.2 652.8 282.8 653 279.3zM674.8 248.4L671.7 250.9 672.2 254.9 675.3 252.4zM641.2 236.1L642.1 238.3 644.5 239 643.6 236.7zM680.3 291.2L681.7 293.2 684.2 293.1 682.8 291.1zM667.1 247.9L666.1 250.2 668.3 251.5 669.3 249.1zM663.3 384.3L664.2 386.3 666.5 386.2 665.5 384.2zM672.5 375.7L669.3 376.3 668.9 379.5 672.1 378.9zM686 180.8L684.3 183.8 685.1 187.1 686.8 184.1zM647.4 246.4L648.4 249.2 651.4 248.9 650.4 246.1zM687.9 216.7L685.2 214.8 682.7 216.9 685.4 218.8zM646.5 155L645.5 157.1 646.9 159.1 647.9 156.9zM652.6 338.5L653.6 341.2 656.4 342.2 655.3 339.5zM666 224.7L662.6 224.6 660.6 227.4 664.1 227.6zM646.1 378.6L643.5 379.3 643.5 382 646.1 381.3zM667.6 188.3L666.2 190.2 667.8 191.9 669.2 190zM650.8 199.5L650.2 203.3 652.5 206.4 653.1 202.6zM657 378.9L654.4 379.8 655.3 382.3 657.9 381.4zM688.9 250.7L685.2 249.7 681.6 251.1 685.3 252.1zM687.3 255.6L686.9 258.7 689.3 260.6 689.8 257.5zM665.6 189.7L667.3 192.3 670.2 191.2 668.5 188.5zM652.8 391.3L653.5 393.7 655.9 394.7 655.1 392.2zM676.7 288.4L674.3 291.3 676.1 294.6 678.5 291.7zM668 176.8L667.6 179.8 669.5 182.2 669.9 179.2zM671.7 302.2L669.5 302.3 668.7 304.2 670.8 304.2zM684.8 331.7L682.6 333.4 684.3 335.6 686.4 333.9zM662.9 157.9L659.8 157.9 659.1 161 662.2 160.9zM671.9 295.5L670.4 299.1 671.3 302.9 672.8 299.3zM652 168.9L653.3 171.8 656.4 172.9 655 170zM691.5 190.1L688.4 189.8 687.7 192.8 690.8 193.1zM684.5 371.6L680.9 372.5 678.8 375.4 682.4 374.6zM673.8 155.5L677 158 680.8 156.8 677.7 154.2zM669.7 267L670.1 269.8 672.8 270.2 672.5 267.4zM664.7 334.3L662.1 337 663.6 340.4 666.2 337.7zM668.7 176.5L670.4 178.5 672.8 177.2 671 175.2zM651.2 345.5L651.6 349.3 654.9 351.2 654.6 347.4zM662.8 323.9L660.4 325.1 661.4 327.5 663.8 326.4zM688.6 210.9L685.2 209.6 682.4 211.9 685.8 213.2zM663.7 304.3L660.1 305.3 658.8 308.8 662.4 307.8zM690.6 220.3L688 219 685.9 221 688.5 222.3zM681.2 336.6L680.8 339.4 683 341 683.5 338.3zM649 273.5L652.3 275.8 655.9 274.1 652.7 271.8zM647.1 340L647.7 343.8 650.6 346.2 650 342.5zM647.8 201.8L645.1 202.9 645 205.8 647.7 204.7zM673 287.3L670.5 287 668.7 288.8 671.2 289zM681.2 336.7L679.9 339.6 681.9 341.9 683.2 339.1zM632.1 265.1L633.6 268 636.8 268.1 635.3 265.2zM674 124.1L675.8 126.1 678.5 125.7 676.7 123.7zM634.7 226.3L635.8 228.8 638.5 228.4 637.4 225.9zM684.2 374.4L685.5 376.3 687.7 375.5 686.4 373.6zM685.1 160L687.9 162.6 691.6 161.8 688.9 159.2zM639.8 135.1L642 138.2 645.7 139.1 643.5 136zM686 376L686.3 378.5 688.8 378.6 688.6 376.1zM696.1 301.2L696.5 303.9 699.2 303.9 698.9 301.2zM646.2 208.4L642.6 206.7 639.2 208.9 642.8 210.6zM691.6 330.5L688.9 333.4 690.1 337.2 692.8 334.3zM688.7 417.9L688.8 421.8 691.4 424.6 691.3 420.8zM695 403.9L692.5 404.3 691.9 406.9 694.4 406.4zM642.1 184.7L642.2 187.3 644.3 188.7 644.2 186.2zM649.3 128.1L648 130.7 649.4 133.3 650.7 130.7zM695.4 297.5L697.2 299.8 700.1 299.2 698.2 296.9zM640 215.7L638.4 219.2 640.6 222.3 642.2 218.8zM705.4 223.7L702.6 225 703 228 705.7 226.7zM693.1 333.9L689.4 335.8 689.2 340 692.9 338.1zM695.2 276.5L692.7 278 693.9 280.6 696.4 279.2zM692.6 178.6L691.6 181.4 694.1 183.1 695.1 180.2zM691.4 198L693.5 200.4 696.5 199.8 694.5 197.4zM688.4 330.5L690.3 333.4 693.7 332.7 691.8 329.7zM666.2 117L664.2 119.8 666.4 122.5 668.3 119.7zM644.2 390.7L645.3 393.4 648.1 394.4 647 391.6zM647.2 400.2L645.4 402.3 647.1 404.4 648.8 402.3zM651.9 407.1L649.9 408.3 650.4 410.6 652.3 409.3zM692 171.9L693.1 174.1 695.5 174.5 694.4 172.3zM638.4 373.7L639.2 376.9 642.2 378.4 641.4 375.1zM699.4 213.4L701.2 215.3 703.7 214.6 701.9 212.6zM701.5 208.9L698.9 208 696.8 209.9 699.5 210.7zM696.2 303.4L692.7 304.9 691.2 308.3 694.6 306.8zM693.8 302.9L694.1 306.7 696.8 309.3 696.6 305.6zM636.7 231.6L639.6 233.2 642.6 231.6 639.6 230.1zM692.3 400.9L689.1 402.8 689.6 406.5 692.8 404.5zM640.3 295.3L637.5 296.4 637.2 299.3 640 298.3zM700.2 306.9L697.2 306.1 696 308.9 699 309.8zM639.2 368.5L640 371.4 642.9 372 642.1 369zM643.4 400.5L643.8 403.2 646.5 403.5 646.1 400.9zM639.5 215.5L641.2 218.9 644.4 220.8 642.8 217.4zM640.4 370.1L637.8 371.5 638.6 374.4 641.3 373zM686.8 141.1L684.2 143 684.7 146.2 687.3 144.3zM694.5 428.9L690.8 429.5 688.4 432.4 692.1 431.8zM693.5 400.2L690.3 400.2 688.8 403 692.1 403.1zM684.7 341.8L683.9 345.3 686.1 348.1 686.9 344.6zM636.5 243.6L633.9 242.7 631.4 244.1 634.1 244.9zM636.9 356.8L634.8 359.1 635.1 362.3 637.2 360zM642.6 181.2L640.9 183.8 642.7 186.5 644.4 183.8zM685.7 149.2L685.5 151.7 687.5 153.2 687.7 150.7zM649.1 134.2L646.3 132.9 643.7 134.7 646.5 136zM695.3 405.9L692.6 405.6 691.5 408.1 694.2 408.4zM636.1 258.2L633.5 260.7 634.1 264.2 636.7 261.8zM697.9 254.4L695.5 257.7 696.3 261.6 698.7 258.4zM699.1 272.2L696.2 274.8 696.3 278.7 699.3 276.1zM640.1 378.3L638.6 381.8 641 384.7 642.5 381.2zM639.8 365.7L636.9 364.8 634.4 366.5 637.3 367.5zM695.2 306.9L696 309.6 698.8 308.7 697.9 305.9zM641.3 168.9L642.6 172.1 646.1 171.6 644.8 168.4zM673.8 121.1L671 119.8 668.6 121.6 671.3 122.8zM664.5 423.6L666.2 427.2 670.2 427.2 668.5 423.6zM645.5 196.3L641.8 196.6 639.7 199.7 643.4 199.4zM688.5 166.5L690.7 168.5 693.6 167.8 691.4 165.8zM678.3 434.3L675.7 436.5 676.8 439.7 679.4 437.5zM684.5 353.4L683.5 355.7 685.2 357.6 686.2 355.3zM699.1 264.4L695.2 265.2 693 268.5 696.9 267.8zM664.6 116.8L665.3 120.6 669 121.5 668.3 117.8zM644.9 133.4L642 134.1 641.5 137.1 644.4 136.3zM644.1 184.9L641.7 183.7 640.2 185.9 642.6 187.1zM693.2 388.2L690.4 387.6 689.4 390.2 692.2 390.8zM639.5 354.4L637.4 352.6 635.9 354.9 638 356.6zM684.2 432.7L682.2 434.3 682.3 436.8 684.3 435.2zM695.1 228.6L698.4 231 702.3 229.8 699 227.5zM701.4 210.3L697.4 208.9 694.3 211.7 698.3 213.1zM693.8 319.6L692.1 323.2 694.3 326.5 696 322.9zM698.1 200.1L694.1 199.4 691.6 202.5 695.6 203.3zM635.7 241L635.1 243.6 637.6 244.7 638.2 242.1zM693.9 283.4L695.6 285.1 697.5 283.5 695.7 281.8z"/>
<path fill="#95b087" d="M644.3 314.1L647 316.5 650.6 316.8 647.9 314.4zM679.6 283.6L677.2 286.4 677.2 290.2 679.7 287.4zM693.6 245.6L689.9 245 687.6 248 691.3 248.6zM686.9 299L683 298.2 679.7 300.4 683.6 301.2zM645.2 359.6L645.1 362.1 647.6 362.5 647.7 360zM685.5 249.5L688.5 251.7 692.2 251.4 689.2 249.2zM661.7 136.3L660.6 139.5 663 141.9 664.1 138.7zM645.5 361L643.5 363.3 644.8 366 646.7 363.8zM658.3 276.6L655.4 275.5 652.7 277 655.6 278.1zM687.4 215.5L684 215.7 681.5 218.1 685 218zM660.6 327.5L658.6 329.3 659.4 331.9 661.3 330.1zM657.8 162.2L657.5 166 660.6 168.3 660.9 164.5zM660.4 239L661.3 241.7 664.1 242.2 663.2 239.5zM661.6 299.9L658.1 300.6 657 304 660.5 303.3zM679.8 243.8L677.9 242.1 676 244 678 245.8zM680.1 196.4L682.9 197.9 686 196.8 683.1 195.3zM657.6 204.2L657.5 206.7 659.8 207.6 659.9 205.1zM672.8 306.6L674.3 309.8 677.7 309.2 676.3 306zM669.9 188L666.4 190.4 666.5 194.6 670 192.2zM653.1 372.4L649.6 372.8 648.7 376.3 652.3 375.9zM649.9 317.4L647.1 317.9 647.1 320.8 649.9 320.3zM679.9 259.6L679.4 263.3 682.2 265.9 682.7 262.1zM669.5 263L672.4 265.4 676.2 265.3 673.2 263zM665 313.3L662.2 312.5 659.7 313.9 662.5 314.7zM690.3 303.2L686.8 302.5 684.1 304.7 687.5 305.4zM676.9 137.9L679.3 140 682.5 139.8 680.1 137.7zM661.2 342.4L657.3 340.6 653.7 343 657.6 344.7zM688.5 428.7L687.8 431.5 689.9 433.5 690.6 430.7zM658.5 135.7L659.6 138.5 662.5 137.6 661.4 134.8zM665.8 308.5L663.9 310.9 666.3 312.8 668.1 310.4zM665.2 381.5L662.8 382.5 662.9 385.1 665.3 384.1zM685.2 184.6L682.5 184.1 681 186.4 683.7 186.8zM671.8 214.3L668.4 215.2 667.4 218.6 670.9 217.8zM670 212L668.7 215.7 669.6 219.6 671 215.9z"/>
<path fill="#466c3e" d="M668.7 306.5L669.4 310 672.6 311.4 672 307.9zM648.2 358.6L644.7 358.6 641.9 360.7 645.4 360.8zM662.8 329.4L663.7 332.7 666.9 333.8 666 330.6zM686.4 315.3L687.2 318.8 690.6 320.1 689.8 316.6zM672.2 317.5L670.9 319.8 672.5 321.9 673.8 319.6zM685.1 182L686.4 185.6 689.8 187 688.5 183.5zM655.4 159.9L652.9 161 652.1 163.8 654.7 162.6zM650.3 230.2L650 233.2 652.5 235 652.7 232zM668.5 359.6L668.7 363.8 672.2 366.2 671.9 362zM670.6 423.9L670.8 426.7 673.6 426.3 673.4 423.5zM667.7 345.2L665.3 346.1 665.4 348.6 667.8 347.7zM656 222.7L653.7 224.1 653.7 226.7 656 225.4zM658.3 222.7L660.8 224.6 663.5 222.9 661 221zM682.1 394.6L679.2 394.3 678.5 397.1 681.4 397.4zM689.1 228.3L691.1 232 695.3 232 693.3 228.3zM680.2 418.4L682 420.3 684.6 419.5 682.7 417.5zM668.9 357.7L665.9 357.1 663.4 359 666.4 359.6zM674.3 321.2L671.3 323.4 671.1 327.2 674.1 325zM678.9 189.5L675 190.3 673.7 193.9 677.6 193.2zM659.6 211.6L660.9 214.1 663.2 212.5 661.9 209.9zM681.2 131.6L677.8 133.5 677.2 137.4 680.6 135.5zM663.1 386.8L660.5 387.1 659.7 389.7 662.3 389.4zM650 199.7L646.5 199.1 643.6 201.2 647.1 201.8zM668.8 132.1L669.3 134.3 671.5 134.6 671 132.4zM677.4 142.9L676.6 145.2 678.6 146.5 679.4 144.2zM662.8 190.4L659.9 192.2 660.1 195.6 663 193.8zM645.7 314.1L643.9 316.4 644.7 319.2 646.6 316.9zM686.3 218.9L682.4 219.9 681.2 223.7 685.1 222.8zM669.8 269L670.1 273 673.7 274.7 673.4 270.7zM651.9 373.1L650.3 376.5 651.1 380.2 652.8 376.8zM663.5 134.3L663.6 137.7 667 138.5 666.9 135zM642.3 230.8L639.2 232.3 638.3 235.6 641.4 234.1zM665 229.9L665.2 233.5 668.4 235.3 668.1 231.7zM639.8 263.1L636.9 264.1 637.7 267.1 640.7 266.1zM685.8 195L687.8 197 690.3 195.8 688.3 193.9zM666.9 405.3L667.8 408.7 670.8 410.6 670 407.1zM658.5 252L658.2 255.1 660.8 256.9 661.1 253.8zM676.1 423.9L673.9 425.9 674.5 428.8 676.6 426.8zM665.7 122.8L665 126.5 668.1 128.7 668.8 125zM669.9 337.3L667.2 337.2 666.8 339.9 669.6 340.1zM676 280.4L673.7 283.4 674.3 287.2 676.6 284.1zM661.4 344.6L658.3 346.6 659.3 350.1 662.3 348.1zM652.8 259.3L649.1 261 647.9 264.9 651.6 263.1zM653.7 186L651.1 184.6 648.6 186.1 651.2 187.5zM650.7 371.6L648.3 373.5 648.1 376.5 650.5 374.7zM678 232.8L675.7 234.5 676.1 237.3 678.4 235.6zM661.2 287.1L661.9 291 664.9 293.5 664.2 289.6zM661 295.8L657.9 295.1 655.5 297.2 658.6 298zM680.5 262.4L682.4 265.3 685.7 264.2 683.8 261.3zM635.7 240.8L638.6 244 642.8 243.3 639.9 240.2zM671.6 247.5L668.8 246.5 667.2 249.2 670.1 250.2zM682.7 258L681.8 260.9 683.8 263.3 684.6 260.3zM678.9 187L676.6 185 674.5 187.1 676.7 189.1zM651.5 375L653.5 377.7 656.9 377.6 654.9 374.9zM675 422.6L672.7 423 672.2 425.3 674.6 425zM669.5 215.4L666 215.6 664.5 218.7 668 218.5zM653.2 295.1L652.9 297.7 655.2 299.2 655.5 296.6zM681.2 274.8L680.7 278 683.1 280.1 683.6 276.9zM648.9 138.5L644.8 139.1 642.9 142.7 647 142.2zM699 204.2L696.4 202.9 693.9 204.5 696.6 205.8zM634.5 223.8L634.2 226.9 637.3 227.5 637.6 224.4zM690.7 154.6L687.2 152.8 683.7 154.6 687.2 156.4zM697.6 307.1L694.9 306.1 692.5 307.8 695.2 308.8zM645.7 387.8L643.5 386.4 641.9 388.5 644.1 389.9zM646.1 207.4L643.2 206.4 641.1 208.7 644.1 209.8zM669.5 123.6L672.1 125.8 675.4 125 672.8 122.8zM640.6 220.3L639 224.1 641.3 227.5 642.9 223.7zM687.3 130.7L683.7 132.7 683.6 136.8 687.3 134.9zM701.3 311.5L697.7 311.2 694.7 313.3 698.3 313.6zM643.1 380L639.3 380.3 637.9 383.8 641.7 383.5zM640.2 325.5L640.8 328.6 643.4 330.1 642.9 327.1zM636.7 294.6L633.8 297.6 635 301.6 637.9 298.6zM697.3 283.9L694.8 284.9 695.1 287.5 697.6 286.5zM636.7 254L634.4 256.3 634.3 259.6 636.6 257.2zM659.8 122.4L661.5 125 664.4 123.7 662.7 121.2zM704.3 229.2L701 228.3 697.9 229.8 701.2 230.7zM636.5 351.8L636.8 354.6 639.6 354.4 639.3 351.6zM647.4 392.8L644.3 395.7 645.1 399.9 648.3 397zM640.3 161L639.9 164.2 642.1 166.6 642.5 163.3zM697.9 261.9L693.9 260.5 690.7 263.3 694.7 264.6zM637.3 326.3L640.7 328.9 644.8 327.7 641.4 325.2zM689.5 384.6L686.4 387.4 686.6 391.6 689.6 388.7zM698.2 205.8L698.4 209.8 701.6 212 701.4 208.1zM698.4 199.9L694.8 198.4 691.7 200.9 695.4 202.3zM683.8 360.9L686.1 363.3 689.1 361.9 686.8 359.4zM645.6 129.6L644 132.5 646.3 134.9 647.9 131.9zM694.6 169.1L691.7 168.2 689.8 170.6 692.7 171.5zM669.4 119.8L669.8 122 672 122.8 671.5 120.6zM638.7 289.2L635 289.6 632.2 292.1 635.9 291.7zM666.9 418.3L662.9 419.3 661.7 423.3 665.8 422.3zM636.7 312.2L636.5 315.5 639.4 317.2 639.6 313.9zM689.8 430.6L688.3 434.2 690.4 437.5 691.8 433.9zM689.9 170.3L688.6 174.1 691.3 177.1 692.7 173.2zM640.3 210.5L637.3 210.3 636.3 213.1 639.3 213.3zM697.2 180.5L694.4 181 695.2 183.7 698 183.3zM637.7 254.3L634.1 256.5 633.6 260.7 637.2 258.5zM683.7 362.9L683.2 365.5 685.5 366.8 685.9 364.2zM645.1 204.2L641.8 205 641.8 208.4 645.2 207.6zM673.9 435L674.8 438.3 678.1 439 677.3 435.7zM694.9 198.4L693.7 201.5 696 203.9 697.2 200.8zM686 357.1L684.4 359.4 685.7 361.9 687.4 359.6zM699.2 291.1L695.8 290.9 693.1 293.1 696.5 293.2zM664.4 119.5L662.1 122.7 662.4 126.6 664.7 123.4zM642.5 342.9L641 345.2 641.7 347.8 643.2 345.6zM634.8 258.2L632.7 256.8 631.1 258.7 633.2 260zM638.4 349.5L637.9 353 640.8 355 641.2 351.5zM650.5 404.1L647.7 404.5 647.4 407.2 650.2 406.9zM688 371.5L685.1 372 683.9 374.6 686.8 374.1zM694.8 198.8L695.1 202.9 697.8 205.9 697.5 201.8zM682.5 143.7L684.3 147.2 688.2 147.3 686.4 143.9zM644 325.4L641.3 324.9 639.2 326.7 641.9 327.3zM649.5 406L650.5 409.8 653.8 412 652.8 408.2zM633.2 238.3L632.6 241.8 635.6 243.6 636.2 240.1zM686.2 380.6L685.6 384.4 687.9 387.4 688.6 383.6zM642 347L639 347.2 637.3 349.8 640.4 349.5zM659.4 122.4L657.7 124.6 658.4 127.4 660.2 125.2zM639.1 187.3L640.4 189.9 643.3 190 642 187.5zM663.7 425.7L664.1 429.4 667.3 431.3 666.8 427.6zM701.3 259.2L698.1 258.1 696.3 261 699.5 262.1zM638.7 241.1L635.3 241.5 635 244.9 638.4 244.5zM644.1 386L641.8 387.9 643.5 390.3 645.7 388.4zM640.3 316.6L638.2 319.3 640.4 322 642.4 319.3zM688.7 153.5L685.1 154.9 682.9 158.2 686.6 156.7zM689.7 143.1L686.6 144.8 685.2 148 688.3 146.4zM687.5 153L684.8 152.6 684.2 155.2 686.9 155.6zM698.3 276.5L694.7 276.1 693.3 279.5 696.9 279.8zM694.7 271.4L697.3 274.2 701.1 274.6 698.5 271.8zM650.2 407.9L651.7 410.1 654.1 409 652.6 406.9zM644.5 141.7L642.8 145.5 644.9 149.1 646.6 145.3zM635.3 210.4L637 213.2 640.2 214.1 638.5 211.3zM646 150.2L642.6 149.7 640.7 152.6 644.1 153.1zM639.7 371.7L640.6 374.3 643.3 373.8 642.4 371.2zM682.2 358.4L684.1 361.9 688 362.6 686.1 359.1zM694.7 256.7L696.1 259.6 699.3 259.2 697.9 256.3zM681.9 146.2L684.7 148.6 687.8 146.7 685.1 144.3z"/>
</g>
<pattern id="cbb2" x="608" y="638.2" width="18.8" height="18.8" patternUnits="userSpaceOnUse"><rect width="18.8" height="18.8" fill="#fff"/><rect width="9.4" height="9.4" fill="#efefef"/><rect x="9.4" y="9.4" width="9.4" height="9.4" fill="#efefef"/></pattern>
<rect x="608" y="638.2" width="123.0" height="540.5" fill="url(#cbb2)"/>
<filter id="txb2" x="0" y="0" width="1" height="1" color-interpolation-filters="sRGB"><feTurbulence type="fractalNoise" baseFrequency="0.16 0.1" numOctaves="2" seed="22"/><feColorMatrix type="matrix" values="0.95 0 0 0 -0.11  1.0 0 0 0 0  0.85 0 0 0 -0.12  0 0 0 0 1"/><feComposite in2="SourceAlpha" operator="in"/></filter>
<path d="M667.3 642.8 L666.3 649.3 L664.2 649.6 L663.2 653.8 L661.4 656.8 L659.0 660.6 L655.0 666.2 L652.7 669.6 L648.7 667.4 L645.3 670.2 L639.3 669.7 L637.2 672.0 L633.5 673.6 L629.6 673.7 L630.2 678.2 L630.3 683.7 L632.1 687.3 L636.0 691.1 L634.7 696.0 L635.3 698.1 L631.7 703.8 L630.3 709.7 L630.6 712.7 L628.9 717.7 L629.4 720.9 L627.8 725.9 L627.8 730.0 L629.1 733.4 L629.9 737.8 L628.1 743.4 L629.4 745.4 L629.9 751.2 L632.2 753.7 L629.8 756.4 L631.2 760.7 L629.5 765.5 L628.4 769.6 L627.5 772.6 L628.3 779.4 L628.3 781.4 L628.0 784.9 L626.6 791.9 L628.0 794.6 L627.4 798.9 L625.8 803.3 L627.1 808.0 L624.9 811.9 L625.3 814.6 L625.5 820.3 L624.6 824.7 L622.2 827.2 L624.2 830.6 L622.2 835.9 L622.9 838.3 L621.2 844.9 L622.1 845.8 L620.6 850.7 L621.9 854.8 L618.8 858.8 L618.5 863.5 L617.0 869.8 L618.1 874.5 L613.9 877.2 L615.9 880.3 L614.2 886.0 L615.5 890.9 L617.4 893.9 L616.3 897.0 L617.1 900.4 L619.2 904.8 L620.6 910.5 L618.3 914.0 L620.5 916.4 L620.4 920.3 L621.7 924.2 L621.5 931.8 L622.5 933.1 L621.6 936.8 L621.2 943.4 L623.2 944.3 L621.9 950.6 L621.4 955.2 L624.3 958.4 L622.6 963.6 L623.4 965.4 L622.8 969.4 L625.0 974.8 L624.8 980.1 L626.0 981.9 L624.2 988.5 L625.8 990.9 L625.6 994.4 L624.1 998.0 L624.6 1002.8 L624.8 1009.6 L623.2 1012.3 L625.4 1016.6 L623.9 1021.3 L621.8 1026.1 L623.9 1029.8 L624.1 1031.4 L621.0 1035.8 L623.2 1042.7 L625.3 1045.0 L624.8 1050.3 L624.4 1055.3 L627.1 1058.6 L627.6 1063.0 L627.3 1065.4 L626.5 1069.3 L626.3 1075.9 L628.0 1076.8 L628.9 1081.2 L630.2 1086.1 L630.0 1090.8 L631.7 1094.5 L634.0 1098.4 L633.8 1104.6 L636.1 1106.9 L633.7 1113.1 L636.2 1114.5 L635.6 1118.7 L637.1 1122.5 L637.0 1129.7 L643.0 1129.4 L645.0 1134.9 L648.2 1135.2 L650.9 1139.2 L656.1 1142.9 L657.7 1146.0 L659.4 1149.2 L665.4 1152.0 L667.0 1153.6 L668.9 1155.8 L667.9 1159.4 L673.6 1160.9 L675.9 1164.6 L679.9 1164.7 L684.4 1169.0 L685.6 1170.1 L690.5 1174.9 L689.2 1172.9 L694.3 1171.1 L698.0 1172.7 L702.8 1171.3 L706.1 1170.4 L712.2 1167.0 L711.0 1164.6 L710.9 1160.3 L709.5 1156.2 L709.6 1153.0 L709.4 1149.7 L709.9 1143.0 L709.0 1138.6 L709.9 1134.3 L709.1 1131.2 L709.5 1126.6 L708.3 1124.6 L705.9 1118.3 L705.6 1116.1 L704.3 1109.7 L704.2 1108.4 L702.3 1104.8 L702.8 1097.9 L700.5 1094.5 L701.0 1089.7 L698.8 1086.8 L698.6 1082.4 L698.4 1079.2 L698.1 1073.4 L696.6 1071.6 L696.2 1064.8 L696.3 1063.3 L697.9 1059.5 L698.3 1053.3 L697.5 1050.6 L696.8 1046.7 L697.5 1039.9 L697.2 1037.6 L696.5 1034.8 L699.3 1029.3 L699.3 1025.8 L697.9 1019.8 L700.7 1018.4 L700.1 1012.4 L700.0 1009.1 L704.0 1004.1 L703.2 1000.8 L706.2 995.1 L705.6 992.7 L706.0 989.2 L708.2 985.2 L709.9 978.6 L709.6 974.3 L711.7 972.5 L714.9 968.0 L713.4 964.1 L715.3 959.0 L713.3 955.4 L714.1 950.3 L715.1 945.9 L717.3 942.6 L717.6 940.3 L714.7 936.8 L717.2 931.5 L717.0 927.3 L713.5 922.1 L714.1 920.7 L715.5 914.0 L713.3 910.0 L712.4 906.8 L712.7 902.1 L713.1 898.4 L713.5 895.2 L711.4 892.3 L710.6 886.4 L710.2 882.4 L711.1 879.9 L711.9 875.7 L712.0 869.3 L712.5 866.3 L715.1 861.5 L713.0 857.3 L713.6 856.0 L716.4 849.3 L713.7 846.1 L716.0 840.6 L715.8 838.9 L714.7 834.6 L718.5 830.6 L719.1 825.3 L720.6 819.9 L721.9 816.1 L722.6 811.2 L723.3 807.0 L726.0 803.5 L724.5 800.6 L721.7 795.3 L721.3 793.5 L720.1 789.0 L718.0 783.4 L715.4 782.3 L714.0 776.0 L712.5 774.8 L709.8 768.3 L710.9 766.9 L710.2 760.5 L711.3 755.8 L709.3 753.4 L711.0 750.2 L708.8 743.9 L708.6 739.2 L708.0 737.4 L710.2 731.5 L705.5 729.0 L707.2 725.0 L703.7 720.7 L703.5 716.5 L701.0 713.3 L700.6 706.3 L697.8 701.7 L696.1 700.1 L695.1 694.9 L696.5 689.1 L695.3 686.3 L696.2 682.9 L698.2 679.1 L697.2 674.5 L697.6 671.4 L698.1 665.7 L693.0 662.4 L689.8 659.6 L685.9 658.2 L682.3 655.5 L677.2 651.6 L671.4 650.0 L670.3 647.6 L666.6 642.4 Z" fill="#577f4c" filter="url(#txb2)"/>
<g filter="url(#bl)">
<path fill="#466c3e" d="M694.4 789.2L690.6 788.7 688.4 791.8 692.2 792.3zM653.7 873.5L649.7 871.2 646 873.9 649.9 876.2zM713.6 824.9L711 827.2 712 830.6 714.6 828.3zM624.8 1022.9L624.4 1026.5 628 1026.8 628.4 1023.2zM651.7 833.9L654.7 836.9 658.9 836.7 655.9 833.8zM647.3 1105.2L643.9 1105.6 644.3 1108.9 647.7 1108.5zM633.6 868.3L633.4 871.8 636.6 873.2 636.8 869.8zM632.1 908L630.5 912.3 632.4 916.4 634 912.2zM685.7 947.9L681.5 950.1 679.7 954.5 684 952.3zM683.8 721.4L683.4 726.4 687.7 729.2 688.1 724.1zM678.7 701.1L680.3 703.9 683.4 703.2 681.8 700.5zM668.5 1135.6L667.8 1139.2 670.5 1141.7 671.1 1138.1zM653 743.9L649.2 742.3 646.8 745.6 650.6 747.2zM668.4 977.6L667.9 982.5 671.4 986.1 671.9 981.1zM634.7 801.8L632.4 804.6 633.4 808.1 635.7 805.3zM637.8 1021.5L633.3 1021.1 631.4 1025.1 635.8 1025.5zM669 831.1L666.2 831.6 665.9 834.4 668.7 834zM690.1 825.7L692.6 827.5 695.6 826.4 693 824.5zM661.2 875L660.6 879.4 663.4 882.9 663.9 878.5zM660.7 819.7L657.6 818.8 656.6 821.8 659.7 822.7zM632.8 883.3L629.1 885.7 629.7 890.1 633.4 887.7zM706.6 881.7L707.7 884.8 710.8 883.6 709.7 880.4zM671.6 668L672.6 671.4 676.2 671.1 675.1 667.7zM671.8 959.1L674.7 962 678.4 960.4 675.5 957.5zM690 747.5L685.2 748.5 681.8 752.1 686.6 751zM687.4 807.4L690.5 809.4 694.1 808.6 691 806.7zM645.1 751L647.4 753.7 650.5 751.9 648.2 749.3zM690.3 913.3L687.2 911.2 684.7 914 687.8 916.1zM643.3 998.5L643.4 1001.7 646.6 1002.1 646.5 998.9zM670.5 1004.7L670.4 1008.1 673.6 1009 673.8 1005.6zM693 917.5L689.7 919.4 691.4 922.8 694.7 920.9zM697.7 842.4L693.1 841.9 689.4 844.7 694 845.2zM671.2 903.4L669.3 907.4 671.4 911.4 673.3 907.4zM673.7 764.1L676.6 766 680 764.8 677 762.9zM652.1 898.5L650.9 901.6 652.9 904.2 654.1 901.1zM657.4 997.1L661.3 1000.2 666.3 1000.3 662.4 997.2zM715.1 814.3L712 813.3 710 815.9 713.1 817zM673 686.6L668.8 685.5 665.3 688.2 669.5 689.3zM642.8 943.5L639.2 943.5 639.7 947.1 643.3 947zM669.2 1104.8L668.2 1108.8 671.9 1110.5 672.9 1106.6zM690.5 826.5L689 829.8 692.4 831.1 693.9 827.8zM662.8 807.2L662 810.8 664.1 813.8 664.9 810.2zM666.4 1059.6L661.9 1059.4 658.6 1062.5 663.1 1062.7zM672.9 831.8L671.6 834.9 674 837.1 675.4 834.1zM642.5 844L640.4 846.2 642 848.8 644.2 846.6zM667.8 926.1L668.6 929.8 671.8 931.8 671 928.1zM646.2 750.9L644.7 753.6 646.6 756.1 648.1 753.3zM664.7 1049.2L660.6 1047.3 657.3 1050.4 661.4 1052.4zM683.5 981.9L683.8 986.1 686.8 989.1 686.6 984.8zM664.2 962.5L667.6 965.3 671.9 964.1 668.4 961.3zM679.2 950.9L678.7 955.3 682 958.1 682.5 953.7zM667.4 956.9L663.5 959 661.7 963.2 665.7 961zM699.3 666.5L696.4 664.7 694.8 667.7 697.7 669.5zM629.3 768.8L630 772.4 633.6 772.3 632.9 768.7zM644.1 1128.6L646.5 1131.4 649.5 1129.2 647.1 1126.4zM676.2 1134.6L676.1 1138.5 679.4 1140.4 679.5 1136.6zM642 876.2L639.1 877.9 640.9 880.7 643.7 879zM704.5 776.3L707.2 778.9 710.5 777 707.7 774.4zM640.5 962.7L637.5 962.6 636 965.2 639 965.3zM668.1 807.9L671.4 810.1 675.3 808.8 671.9 806.6zM700.7 877.2L696.1 879.2 695.8 884.3 700.4 882.2zM664.7 1073.6L666 1077.2 669.7 1076.3 668.5 1072.7zM677.4 1055.6L673.5 1057.2 672.7 1061.2 676.6 1059.7zM677 1062.3L679 1064.6 681.8 1063.6 679.8 1061.3zM632.7 751.6L634.6 753.6 637.1 752.5 635.2 750.5zM677.5 710.6L672.7 711.8 669.4 715.3 674.1 714.2zM634.8 985.1L637.5 988.8 642 988 639.3 984.3zM636.4 859L636.1 861.8 638.6 863.1 638.9 860.2zM666.6 907.1L668.9 909.5 672.2 909.1 669.9 906.7zM695.5 848.8L697.9 853 702.5 854.5 700.1 850.3zM709.1 1136.5L705.4 1138.1 704.7 1142.1 708.5 1140.5zM667.4 1141.6L663.9 1143.4 663.1 1147.2 666.5 1145.4zM657.4 1131.1L654.9 1135.6 656.4 1140.5 659 1136zM662.5 1043.9L661.8 1048.3 664 1052.2 664.7 1047.8zM704.3 872.7L706.3 875.7 709.9 875.7 707.9 872.7zM681.4 1072.2L677.9 1071 676.6 1074.5 680.1 1075.7zM639.4 694.7L638.3 699.5 641.8 703 642.9 698.2zM709.2 732.3L705.1 733.1 704.3 737.3 708.4 736.4zM692.6 847.8L688.1 846.5 683.9 848.6 688.4 850zM716.5 925.9L712.7 927.3 711.5 931.2 715.3 929.8zM642.6 924.3L639.8 926.6 639.6 930.2 642.3 927.8zM663.4 970.1L664.8 974 668.3 976 666.9 972.2zM664.8 807.3L668.5 810.6 673 808.8 669.4 805.5zM689.7 890.8L686.8 888.9 685 891.9 687.9 893.7zM670.6 1043.7L671.5 1046.9 674.9 1046.8 674 1043.6zM673.6 1078.9L670.8 1082.1 671.1 1086.3 673.9 1083.1zM650.9 790.1L648 794.2 649.3 799.1 652.1 794.9zM686 934.5L683.1 938.7 684.3 943.6 687.2 939.5zM665.3 808.5L663.1 812.7 666 816.4 668.2 812.2zM668 701L671.7 704.2 676.5 704.8 672.9 701.6zM700.3 872.8L695.3 873.2 692.9 877.7 697.9 877.2zM672 940.4L672.9 944.5 677 945.3 676.1 941.3zM664 1063.3L663.8 1066.7 666.4 1068.8 666.6 1065.5zM674.1 853.7L669.8 855.4 667.5 859.4 671.8 857.6zM656.2 910.8L659.5 913.8 663.5 911.9 660.2 908.8zM637 1119.6L638.4 1122.1 641.1 1121.5 639.8 1119.1zM669.8 953.9L665.3 955.2 662.2 958.8 666.8 957.5zM679.3 752.9L676.1 754.1 677.6 757.2 680.8 756zM667.3 787.1L664 788.8 665 792.3 668.2 790.6zM619.7 857.5L620 862.2 624.1 864.6 623.7 859.9zM694.9 1129.5L693 1133.2 695.6 1136.5 697.5 1132.8zM638.2 738.1L637.6 742.3 640.3 745.7 640.9 741.4zM658.9 1022.9L656.7 1025.7 659 1028.4 661.1 1025.6zM695 1146.3L691.1 1143.9 687.3 1146.3 691.2 1148.7zM640.8 824.9L644.3 826.8 648 825.7 644.6 823.8zM657.6 861.2L654.5 862.3 653.6 865.4 656.7 864.4zM677.1 765.4L674.6 768.7 676.9 772.2 679.4 768.9zM660.6 671.2L657.7 670.3 655.5 672.4 658.4 673.3zM644.4 928.8L641.7 931.1 642.1 934.6 644.7 932.3zM666.1 1119.3L669.5 1122 673.7 1121.3 670.4 1118.6zM641.9 702.6L640.7 705.6 643.3 707.5 644.4 704.4zM675.6 954.7L671.1 954.9 669 958.8 673.5 958.7zM673.9 880.6L677.1 883.3 680.6 880.9 677.3 878.1zM705 1157.8L706.7 1159.9 709.4 1159.1 707.7 1156.9zM657.7 818.6L656.2 822.1 659.3 824.3 660.8 820.8zM655.4 1049.5L653.2 1053.7 655.2 1058.1 657.3 1053.8zM668.6 823.9L667.5 827.8 669.2 831.4 670.4 827.6zM631.3 933.4L630.4 937.8 633.6 941 634.5 936.6zM635.4 938.2L630.8 938.5 629.1 942.8 633.7 942.5zM638.6 768.3L640.2 771.5 643.7 770.6 642 767.4zM690.2 756.2L686.6 758.5 687.7 762.6 691.3 760.3zM627.4 837.6L630 840.2 632.8 837.8 630.2 835.2zM722.9 804.7L720.1 807.5 720.9 811.5 723.7 808.6zM655.4 1081L657 1084.8 660.9 1086.2 659.3 1082.4zM649.3 1038.5L650.1 1041.9 653.6 1041.5 652.8 1038.1zM661.4 1121L659.4 1124.1 660.5 1127.5 662.5 1124.5zM642.6 782.7L641.9 786.8 645.6 788.7 646.3 784.5zM675.6 1059.7L673.7 1063.2 676.2 1066.2 678.1 1062.8zM701.6 943.2L698.6 945.7 700 949.4 703 946.8zM695.8 941.9L698.7 944.4 702.6 944.2 699.6 941.7zM711.6 894.1L708.3 894.3 706.3 896.9 709.7 896.8zM704.1 932.1L699.2 931.3 694.8 933.9 699.8 934.7zM659.6 890.4L654.8 890.1 652.7 894.4 657.5 894.8zM703.9 1149.8L706.4 1153 710.5 1153.7 708 1150.5zM692.7 836.8L693.1 841.2 696.8 843.6 696.4 839.2zM655.8 667.8L652 668.7 652.6 672.5 656.4 671.6zM714.1 791.8L716.3 793.8 719.1 792.8 716.9 790.7zM663.6 850.5L660 853.5 660.7 858.2 664.4 855.2zM644 989.9L641.1 990.4 640.3 993.2 643.2 992.8zM672.8 1090.2L669.4 1089.7 668.8 1093.1 672.2 1093.5zM713.3 908.3L715.8 912.3 720.4 911.9 718 907.9zM699.5 1028.8L700.9 1031.3 703.8 1031.5 702.4 1028.9zM623.3 996L619.5 998.6 619.1 1003.2 622.9 1000.7zM711.6 951.6L713 955.3 717 955.6 715.6 951.9zM621.6 989.6L624.3 992.1 627.9 991.9 625.2 989.4zM716.3 860.4L713.9 863.8 716.8 866.8 719.2 863.4zM711.4 894.1L714 896.6 717.7 896.6 715 894.1zM621.7 844.3L617.2 842.7 613.8 846.1 618.3 847.6zM713.3 1124.6L710 1122.2 707.1 1125 710.3 1127.5zM701.5 1006.1L704.8 1008.7 708.6 1006.8 705.3 1004.3zM620.6 1044.9L621 1050.2 625.4 1053 625 1047.8zM704.1 1061.9L699.2 1062.1 695.6 1065.4 700.5 1065.1zM674.8 1157.8L670.1 1158.3 667.4 1162.2 672.1 1161.7zM726.2 819.4L722.1 820.6 719.9 824.3 724 823.1zM705.6 1126.3L710.2 1128.6 715 1126.7 710.4 1124.4zM642.1 668.8L638.2 667.9 635.8 671.1 639.7 672zM717.5 829.3L720 833.7 725 834.1 722.5 829.8zM719.5 839.2L715.7 838.2 713.5 841.6 717.4 842.6zM620.1 1056L622.7 1059.1 626.8 1058.4 624.2 1055.3zM670.9 645.4L671.2 650.2 674.3 653.9 674 649.1zM698.2 1167.9L697.5 1172 699.9 1175.4 700.6 1171.3zM714.9 894.5L715.2 899.1 719.5 900.7 719.1 896.1zM621.3 1053.2L622.6 1056.4 625.9 1057.3 624.6 1054.1zM716.3 921.3L716.6 925.5 720.7 926.6 720.4 922.4zM620.8 908.2L617.5 909 618.8 912.2 622.1 911.4zM702.7 712.7L704.7 716.6 709 715.9 707 712zM701.2 678.1L698.8 680.4 699.6 683.7 702 681.4zM622.6 827.5L618.6 829.8 618.6 834.4 622.6 832.1zM719.8 955.1L716.4 957.5 718.1 961.2 721.4 958.9zM710.3 734.2L711.2 739.1 715 742.2 714.1 737.3zM623.9 1020.2L618.7 1020.9 616.6 1025.7 621.7 1025zM622.4 1028.6L618.4 1029.5 617.8 1033.5 621.7 1032.6zM710 1000.5L706.4 1000 703.8 1002.4 707.3 1003zM623.2 966.6L620.5 969.7 620.8 973.8 623.6 970.7zM650.6 660.8L649.8 665.9 653.3 669.6 654.1 664.5zM636 1098.5L633 1096.4 630.6 1099.2 633.6 1101.2zM700.7 1010.6L702.1 1015.3 706.8 1016.8 705.4 1012.1zM653.9 1144.4L655.6 1148.3 659.9 1148.5 658.2 1144.5zM701.4 1014.8L701.8 1018.3 705.2 1019 704.8 1015.6zM624.5 1023.7L620.4 1022 616.2 1023.8 620.4 1025.5zM687.5 655.4L688 658.6 690.8 660.3 690.3 657.1zM722.3 815.9L723.3 820.2 726.8 823 725.8 818.7zM707.8 1139.7L709.2 1142.9 712.7 1143.7 711.2 1140.5zM664.1 1149.8L662.9 1154.6 666.3 1158.1 667.6 1153.3zM643.2 1138.7L646.9 1141.5 651.4 1140.2 647.6 1137.5zM669.2 639.8L669 645 673.3 648 673.5 642.8zM619 1052.2L622.6 1056 627.8 1055.5 624.2 1051.7zM725.4 816.1L721.5 815.3 719.9 818.8 723.7 819.6zM698.6 707.1L701.8 709.9 706 709.2 702.7 706.5zM646.5 1133.6L643 1132.5 640.3 1135.1 643.8 1136.1zM664.3 643.1L662.1 647 663.5 651.3 665.8 647.4zM697.1 1018.5L698.6 1023.2 703.2 1024.6 701.7 1020zM713.7 959.1L717.5 962 721.6 959.6 717.8 956.7zM720 892.9L715.1 893.2 713.1 897.8 718.1 897.4zM626.6 732.8L626.2 736.4 629.7 737.4 630.1 733.8zM715.2 895.3L715.4 898.5 718.3 899.8 718.1 896.7zM629.1 1103L630.1 1106.5 633.5 1105.5 632.6 1102.1zM702.9 1073.7L699 1072.4 695.4 1074.2 699.2 1075.4zM620.1 921.8L617.5 925 619.8 928.5 622.4 925.2zM689.4 654.3L685.3 655 682.5 658 686.6 657.4zM615.8 888.3L613.1 890 612.6 893.2 615.4 891.5zM627.3 677.3L625.5 681.1 627.9 684.6 629.7 680.8zM700.1 1088.1L703.8 1090.6 708.3 1090 704.6 1087.4zM627.2 750.1L626.3 754.8 629.4 758.5 630.4 753.8zM697.4 1015.7L697.5 1020.2 700.7 1023.4 700.6 1018.9zM623.8 732.8L624.2 736.5 628 736.1 627.5 732.4zM659.5 652.1L658.4 655.8 662.1 657.1 663.1 653.3zM656.9 1141.5L653.8 1144.7 655.4 1148.9 658.5 1145.7zM712.3 972.4L711.7 976.5 715.6 977.9 716.2 973.8zM618.5 826.4L621 830.9 626.1 831 623.6 826.6zM702.5 667.6L698.7 670.3 698.6 675 702.5 672.3zM710.6 736.4L710.4 739.8 713.3 741.6 713.5 738.2zM697.5 1171.7L701.4 1174.1 705.8 1173.1 701.9 1170.7zM627.1 1088.1L624.2 1088.8 624.1 1091.8 627 1091.1zM706.8 726.7L707.1 730.4 710.8 730.1 710.5 726.4zM625.5 1065.5L622.6 1065.3 621.2 1067.9 624.1 1068zM622 923.8L617.1 923.8 614.2 927.8 619.1 927.8zM716 886.3L712.3 884.1 709 886.9 712.7 889.1zM610.3 873.1L614.3 875.2 618.9 874.7 614.8 872.6zM713.3 773.2L713.6 776.4 716.8 776.4 716.4 773.2zM710.7 882.8L712.3 885.9 715.6 885 714.1 881.8zM709.8 1157.3L710.1 1161.7 714.1 1163.6 713.8 1159.2zM623.1 828.9L619.9 831.4 619.4 835.4 622.7 833zM621.8 1075.4L625.1 1078.6 629.3 1076.7 626 1073.5zM627 760.2L625.3 764.9 628.4 768.7 630.1 764zM709.9 742.3L709.3 746 712.8 747.2 713.4 743.6zM624.9 810.3L620.4 810.2 617.7 813.7 622.2 813.8zM622.4 809.8L620.3 813.2 621.2 817.2 623.3 813.7zM617.7 896.7L614.6 896.3 612.5 898.6 615.6 898.9zM611.9 880.8L610.7 884.3 613.1 887.1 614.3 883.6zM619.4 914L615.4 915.2 614.5 919.3 618.5 918.1zM720.8 844.6L716.8 846.9 717.1 851.5 721.1 849.2zM617.1 1007.6L620.7 1010.5 625.3 1010.3 621.7 1007.5zM713.8 853.6L716.2 857.6 720.7 858.8 718.4 854.7zM719.6 848.5L716.8 852.8 718.4 857.7 721.2 853.4zM707.9 1123.1L708 1126.9 711.5 1128.4 711.4 1124.6zM624.9 779.2L627.4 781.4 630.1 779.6 627.7 777.4zM638.5 669.9L635 669.6 632.8 672.5 636.3 672.7zM711.4 868.8L713.5 872.1 717.4 872.5 715.3 869.2zM714.8 832L714.6 836.4 717.2 839.9 717.4 835.6zM629.3 767.7L624.5 768.3 621.3 772 626.1 771.3zM699.8 664.6L696.2 665.4 697.4 668.8 700.9 668zM656.4 1146.9L656.7 1151.3 660.7 1153.2 660.4 1148.7zM714.4 734.1L710.2 733.5 708.7 737.4 712.9 738zM617.1 899.9L613.2 899.6 611.2 903 615.1 903.3zM714.6 729.9L711.1 727.5 707.8 730.2 711.3 732.7zM703.4 1088.7L700.6 1089.3 700.3 1092.1 703 1091.5zM707.7 990L706.9 994.7 711 997 711.8 992.4zM686.7 650.8L682.2 652.4 679.8 656.6 684.3 655zM730.1 797.8L726.8 796.4 724.4 799 727.7 800.4zM623.3 842.4L619.6 844.8 618.9 849.1 622.6 846.7zM626.1 702.8L628.9 706 633.1 705.5 630.3 702.4zM705.4 1105.2L703 1102.7 700.9 1105.4 703.3 1107.9zM713.5 900.8L713.3 905.9 717.3 909.1 717.5 904zM713.9 758.9L712.3 761.7 713.8 764.7 715.4 761.8zM720 829.2L716.9 831.5 717 835.3 720 833zM668.9 640L667.7 643.3 670.5 645.5 671.7 642.1zM624.6 1091.4L628.5 1093.5 632.8 1092.7 628.9 1090.6zM699.3 1090.6L701.9 1093.4 705.8 1093.1 703.2 1090.2zM629.1 1103.5L631 1107 634.9 1107.4 633 1103.9zM627 785.9L624.3 787.9 624.8 791.2 627.5 789.2zM624.8 774.2L625.2 778.1 629.1 778.6 628.8 774.7zM725.8 806.3L723.4 810.5 725.6 814.8 728 810.6zM609.7 900.9L612.8 904.9 617.8 903.9 614.6 900zM696.2 1022.4L698.8 1025.5 702.1 1023.2 699.5 1020.1zM676 1157.9L673.3 1160.3 674.8 1163.6 677.6 1161.2zM708 1130.2L709.1 1134.4 713 1136.4 711.8 1132.2zM677.5 1161.1L675.9 1165.1 679 1168.2 680.6 1164.2zM627.3 754.5L624.9 757.5 627.4 760.4 629.9 757.4zM630.3 1086.6L627.2 1089.2 628.1 1093.1 631.3 1090.6zM613.7 870L613.7 873.8 617.5 874.1 617.5 870.3zM612.4 866.7L612.6 871.2 616.2 873.8 616 869.3zM701.1 661.3L696.5 660.6 692.9 663.5 697.5 664.2zM725.2 789.7L722.7 793.4 723.3 797.9 725.8 794.1zM713.3 968.5L710.1 972.4 710.5 977.5 713.7 973.6zM651.5 1133.3L646.5 1133.9 644.2 1138.3 649.2 1137.8zM717.3 819.1L719.2 823.5 724 824.1 722.1 819.7zM710.6 988.6L707.5 991 706.9 994.7 710 992.4zM699.6 1086.2L701.4 1090.2 705.8 1090.1 704 1086.1zM703.7 701.1L699 699.5 694.3 701.1 699 702.7zM718.4 770.3L714.4 771 712 774.3 716 773.6zM624.4 996.6L621.1 998.2 621.1 1001.9 624.4 1000.3zM630 688L632.6 691 636.7 691.4 634 688.3zM663.9 646.9L662.7 650.4 666.1 651.8 667.3 648.3zM698.7 666.5L698.9 671 701.8 674.4 701.7 669.9zM710.3 974L710.3 977.9 713 980.6 713 976.8zM626.2 781.3L623.2 783.4 623.9 787 626.9 784.9zM703 1109.2L705.7 1112.3 709.8 1111.9 707.1 1108.7zM715.7 957.4L715.6 962.1 720 964 720.1 959.2zM658.9 1144.9L654.5 1147 653 1151.7 657.4 1149.6zM722.3 791L722.2 795 725.8 796.5 725.9 792.6zM686.1 1164.6L681.7 1162.9 677.3 1164.8 681.8 1166.6zM623.3 1002.2L621.2 1005.5 623.4 1008.7 625.6 1005.4zM657.4 656.9L658.5 660.1 661.9 660.1 660.8 656.9zM613.8 873.2L610.9 875.8 613.3 878.9 616.2 876.3zM667 1157.2L668.6 1160 671.5 1158.7 669.9 1156zM705.7 1171.3L703.1 1168.8 700.7 1171.5 703.3 1174z"/>
<path fill="#5b8050" d="M633.9 755.5L636.1 757.3 638.8 756.2 636.6 754.4zM662.9 1068.9L662.5 1072.3 665.4 1074 665.8 1070.7zM669.5 1039.8L672.2 1042.9 676.1 1041.8 673.4 1038.7zM625.3 918.2L623.3 920.7 624.2 923.8 626.2 921.2zM682.4 874.9L679 875 677 877.9 680.5 877.8zM636.3 993.2L631.5 993.9 630.1 998.5 634.9 997.8zM659.1 730.2L660.3 734.2 664.4 734.7 663.3 730.7zM647.1 875.7L644.1 879.7 646.2 884.3 649.2 880.2zM668.1 794.6L663.2 794.1 659.6 797.5 664.5 797.9zM656 984.1L654.1 986.5 655.5 989.1 657.5 986.8zM684.2 715.3L681.4 719.4 683.3 724 686 719.9zM657.8 802.5L659.1 806.1 662.8 806.6 661.5 803.1zM654.6 1125.6L652.3 1128.8 653.9 1132.4 656.2 1129.2zM689.8 716.5L685.2 716.3 683.2 720.5 687.9 720.7zM684.3 833.4L679.4 833.8 675.3 836.6 680.3 836.3zM669.6 922.1L667.2 924 667.4 927 669.8 925.1zM680.7 958.7L677.8 962.5 679.7 966.7 682.6 963zM652.2 765.1L649.7 762.8 647.5 765.4 650 767.7zM631.6 728L630.2 733.1 633.5 737.2 634.9 732.1zM627.4 869.5L626 872.8 628.5 875.4 629.9 872.1zM663.2 947.5L663.3 952.2 667.5 954.2 667.5 949.5zM704.4 1100.2L700.1 1099.1 697.3 1102.6 701.6 1103.7zM645.5 694.5L648.5 697.3 652.6 697.1 649.6 694.4zM644.3 964.6L646.3 967.4 649.4 966 647.4 963.2zM623.3 835.7L624.3 839.2 627.6 840.5 626.6 837zM653.1 875.4L655 880.2 659.5 882.5 657.7 877.8zM639 1030.6L635.1 1034.2 635.9 1039.5 639.9 1035.9zM691.5 1150.4L692.4 1154.9 696.7 1156.2 695.9 1151.8zM682.6 954.8L680.2 956.7 680.7 959.7 683.1 957.8zM689.8 805.4L686.2 804.8 684.7 808.1 688.3 808.8zM681.9 1082.7L686 1085.2 690.7 1084.4 686.6 1082zM693.1 858.9L695.5 863.2 700.5 863.6 698.1 859.3zM697.8 839L696.4 843.2 699.7 846.1 701.1 841.9zM683.7 921.4L681.8 923.9 682.9 926.8 684.9 924.3zM648.5 1095.1L644.7 1095 644 1098.8 647.9 1098.8zM653.3 905.8L649.1 905.3 647.7 909.3 651.9 909.7zM633.2 1101.4L635.4 1104.7 639.1 1103 636.8 1099.7zM671.5 704.1L672.5 708.8 676.7 711.2 675.7 706.5zM632.1 1020.7L634.9 1024 639.2 1023.4 636.3 1020.2zM655 891.7L657.2 894.5 660.8 894.8 658.5 892zM710.4 1127L705.7 1128.2 704.6 1133 709.3 1131.8zM636.3 898.2L634.1 901.9 634.6 906.1 636.8 902.4zM693 749.9L693.3 753.7 697 754.7 696.7 750.9zM676.4 922.1L672.5 923.3 671.2 927.2 675.1 926zM683.7 837L687.1 840.5 691.9 839.3 688.4 835.8zM624.6 929L621.8 930.3 621.7 933.4 624.6 932.2zM642.9 1102.9L637.9 1101.7 634.4 1105.4 639.4 1106.7zM659.8 880.1L659.2 883.7 662.7 885 663.2 881.4zM654.9 1113.7L654.4 1117.6 657.8 1119.4 658.3 1115.5zM650.9 822.8L649.2 826.4 652.4 828.8 654.1 825.2zM632 1057.1L631.8 1061.4 635.7 1063.2 635.9 1058.9zM659.9 669.3L655.2 668.9 651.2 671.6 656 672.1zM672.6 1093.2L668.8 1094.8 667.9 1098.8 671.7 1097.2zM697.2 806.9L699.4 811.1 704.2 810.8 702 806.5zM679.7 1032.9L682.9 1036.4 687.6 1036.4 684.4 1032.9zM695.2 662.6L694.1 666.4 697.6 668.2 698.7 664.4zM649.8 823.2L650 827 653.1 829.3 652.8 825.5zM679.1 1080L679.4 1085.4 684 1088.2 683.6 1082.9zM684.3 762.9L684.8 766.2 688 767.2 687.6 763.9zM676.5 1062.5L678.9 1065.9 683 1064.9 680.5 1061.5zM708.1 965.5L703.9 966.3 701.3 969.6 705.5 968.9zM645.2 807.7L642.2 808.2 642 811.2 645 810.8zM695.6 668.7L692.5 673.1 694.6 678 697.7 673.6zM687.4 757.1L682.5 756.7 678.7 759.7 683.5 760.1zM663.5 1058.4L659.8 1060 658.5 1063.6 662.1 1062.1zM657.1 744.8L655.1 748.6 657.7 752.1 659.6 748.2zM678.2 1121.7L678.6 1125.3 681.6 1127.2 681.2 1123.7zM641.4 901.9L636.8 902.1 635 906.3 639.6 906.1zM683.3 700.1L681 704.5 682.2 709.3 684.5 704.9zM632 831.8L630.8 835.3 632.5 838.5 633.7 835zM695.2 876.8L697 880.2 700.8 879.4 699 875.9zM628.3 945.1L631.8 947.4 635.8 946 632.3 943.8zM709.9 907.5L706.5 910.9 708.2 915.3 711.6 912zM678.7 896.9L675.2 898.9 674.4 902.8 677.9 900.8zM646.1 1006.4L643.7 1008.5 645.9 1010.9 648.3 1008.7zM638.8 1018.8L637.3 1021.6 639 1024.2 640.5 1021.4zM689.3 745.9L688.7 750.8 692.5 753.9 693.1 749zM675 820L670.5 822.8 669.7 828 674.2 825.2zM632.1 1056.7L630.3 1060.8 633.4 1064.1 635.1 1060zM663.4 759L661.1 761 662.4 763.8 664.7 761.7zM690.9 1149.2L689.4 1152.2 691.3 1154.9 692.8 1151.9zM704.2 1141.1L699.1 1139.3 694.8 1142.7 700 1144.5zM655.3 875.3L656.8 878.2 660 878.3 658.5 875.4zM650.8 1020.3L653.7 1022.1 656.9 1020.8 654 1019.1zM628.3 1000L624.9 1003.2 626 1007.6 629.4 1004.5zM649.6 1041.9L650.7 1045.3 654 1044.3 653 1040.9zM686.7 705.7L689.7 709.5 694.5 710.5 691.5 706.7zM624.2 843.7L620.9 844.1 619.6 847 622.9 846.7zM634.3 887.6L632.6 890.7 634.7 893.6 636.4 890.5zM652.1 779.3L654.7 782.4 658.5 781.4 655.9 778.3zM638.4 832.2L633.9 832.6 632.3 836.8 636.8 836.4zM641.1 734.7L642.5 738.3 646.3 737.5 644.9 734zM633.7 1023.2L634.3 1028.2 638.6 1030.7 638 1025.7zM670.4 1076.2L668.8 1079.7 672 1081.8 673.6 1078.3zM689.6 1041.3L690.5 1045.9 694.8 1047.9 693.9 1043.2zM695.4 1099L691.8 1101.7 691.1 1106.2 694.7 1103.5zM638.5 1098.6L634.6 1096.6 631.3 1099.5 635.2 1101.6zM672.3 940.1L670.6 942.5 672.1 945 673.8 942.6zM678.3 1112.7L675.1 1112.7 673.5 1115.4 676.6 1115.4zM628.5 1075.4L628.1 1079.7 632.1 1081.6 632.5 1077.2zM690 661.7L691.8 665.8 696.1 666.7 694.3 662.6zM710.3 896.7L711.3 900.8 715.3 901.7 714.4 897.7zM626 835.8L625.3 840.3 628.6 843.4 629.2 838.9zM677.4 1117.4L677 1122.1 681.1 1124.4 681.6 1119.7zM690.1 705.1L692.2 707.5 694.7 705.6 692.6 703.2zM661.9 1134.7L658.3 1135.2 658.3 1138.8 661.9 1138.3zM682.9 750.9L680.1 751.9 680.6 754.8 683.4 753.8zM671.1 1112L667.2 1109.9 663.4 1112.1 667.3 1114.2zM657.1 786.3L656.6 789.8 659.4 791.9 659.9 788.4zM618.6 894.3L618.5 898.3 622.4 898.7 622.5 894.8zM666 1009.2L660.9 1010 658.1 1014.4 663.2 1013.6zM668.8 838.6L666.2 841.3 667.8 844.7 670.4 842zM709.5 816.3L711.6 820.6 716.2 821.7 714.1 817.5zM696.7 963.8L698.4 968 702.8 968.4 701.2 964.3zM625.6 953.1L622.4 955.2 624.4 958.5 627.6 956.4zM632.8 803.5L630 802.6 628.5 805.2 631.3 806.1zM653.3 712.7L649.1 714.4 648.5 719 652.8 717.3zM617 969.8L619.8 972.5 623.2 970.7 620.4 968zM635.3 1116.4L632.8 1120.1 635.1 1123.9 637.6 1120.2zM614.8 873.6L610.3 874.9 608.2 879.1 612.7 877.8zM714.8 763.7L710.8 767.2 711.8 772.3 715.8 768.9zM620.5 974L619.7 978.2 623.5 980.3 624.3 976.1zM624.1 714.2L622.4 718.4 625.1 722.1 626.7 717.9zM616 890.7L613.8 892.8 614.3 895.8 616.5 893.7zM615.9 878.5L612 876.4 608.6 879.2 612.5 881.3zM701.5 666.5L700.6 669.6 702.7 671.9 703.6 668.9zM624.1 831.1L619.9 833.2 619.7 837.9 623.9 835.8zM704.7 1018.1L701.7 1016.2 700 1019.2 702.9 1021.1zM704.3 1088.2L699.6 1089 698.6 1093.6 703.2 1092.8zM723 831L718 831.8 715.4 836.1 720.4 835.3zM721.5 812.7L721.2 817 724.1 820.1 724.5 815.9zM609.6 878.3L613.5 880.7 618 879.6 614.1 877.1zM713.4 978.2L709.3 980.3 707.3 984.4 711.4 982.3zM700.3 698.7L700.1 702.1 703.1 703.8 703.2 700.4zM618.8 985.1L619.5 988.2 622.7 988.4 622 985.3zM624.8 980.9L621.4 979.5 618.6 981.8 622 983.2zM615.1 888.8L613 893.8 616 898.2 618.2 893.3zM609.2 874.8L611.6 878.2 615.7 877.6 613.3 874.2zM622.3 1036.7L618.9 1036.8 617.8 1040.1 621.2 1040zM705.1 999L704 1003.8 707.5 1007.2 708.6 1002.4zM711.8 921.5L715 923.7 718.4 921.7 715.2 919.4zM621.2 963L618.3 962.1 616.5 964.4 619.3 965.3zM694.8 1047.6L697.2 1050.6 700.4 1048.4 698 1045.4zM714.7 860.4L713.7 864.2 715.7 867.7 716.8 863.8zM721.4 787L722.6 791.6 726.2 794.7 725.1 790zM630 1113.9L631.4 1118.1 635.9 1118.3 634.5 1114.1zM622.9 827.9L620 829.6 621.4 832.7 624.3 831zM718.7 932.5L716.7 936.8 719.5 940.6 721.5 936.3zM713.2 723.7L709.5 725.4 708.2 729.2 711.9 727.5zM627.6 1066.6L623.1 1066.2 620.6 1070.1 625.2 1070.5zM622.8 1052.9L620.5 1056.4 623.4 1059.5 625.8 1055.9zM709.7 1165.5L713.2 1167.5 717.1 1166.5 713.6 1164.4zM718.3 965.1L715.9 969.1 716.7 973.6 719.2 969.7zM627 725L624 727 625.2 730.4 628.3 728.4zM624.4 929.9L619.7 931.2 618 935.9 622.7 934.6zM710.4 1155.1L713.3 1158 717.2 1156.8 714.3 1153.9zM624.9 773.4L624.7 776.9 628.2 776.7 628.4 773.2zM713.1 948.7L716.9 951.4 721.5 950.6 717.7 947.8zM716.2 1160.7L712.8 1164.6 714.2 1169.6 717.5 1165.6zM717 756.7L714.2 755.9 712.2 758 715 758.8zM703 1047.7L699.5 1050.5 700.7 1054.9 704.3 1052.1zM631.1 1116.4L632.2 1120.1 636.1 1120.8 635 1117zM718.9 963.8L714.9 966.6 713.9 971.4 717.9 968.6zM697.7 1052.7L698.3 1057 702.2 1058.7 701.6 1054.4zM622.1 929.6L618.4 928 615 930.1 618.7 931.7zM706.3 1168.3L702.4 1170.5 702 1174.9 705.9 1172.7zM657.5 654.3L659 657.2 662.2 656.5 660.7 653.6zM610.5 875.9L610.9 879.7 614.7 879.6 614.3 875.8zM708.9 738.1L708 741.9 711.1 744.5 712 740.6zM643 1132.4L642.3 1136.3 645.5 1138.6 646.2 1134.7zM717 860.7L713.8 862 715.1 865.2 718.3 863.9zM658.2 1143.3L654.2 1143 653.4 1146.9 657.4 1147.2zM722.3 783.3L718.9 784.7 718.6 788.3 722 787zM609.9 883L610.7 886.7 614.3 885.8 613.5 882.1zM715.9 875.6L712.5 876.5 712.4 880 715.8 879.1zM632.8 698.6L628.7 699.3 627.2 703.3 631.4 702.6zM709.7 728.3L706.3 727.9 705.1 731.1 708.5 731.5zM620.4 978.3L621 981.6 624.4 982.1 623.8 978.7zM703.2 666.5L699.3 667 698.4 670.7 702.2 670.3zM714.6 937.5L717.8 940.6 722.3 940.5 719.1 937.3zM623.3 1043.7L621.9 1046.7 624.4 1048.8 625.9 1045.9zM693.1 688.1L696.1 692.2 701.2 691.7 698.2 687.6zM706.2 1151.5L709.1 1155.6 714.1 1155.4 711.2 1151.3zM610.5 879.7L612 884.4 615.9 887.3 614.5 882.6zM705.8 712.4L702.2 712.3 700.3 715.3 703.8 715.4zM625.1 763.3L625 767.7 628.6 770.5 628.7 766zM627.4 776.9L625.2 778.5 625.6 781.1 627.8 779.6zM708.2 712.1L704.3 713.4 702.6 717.3 706.6 715.9zM673.9 643.3L669.9 642.2 666.5 644.7 670.5 645.8zM612.9 892.7L612.3 897.2 616.4 899.3 616.9 894.8zM626.1 1075.1L624.5 1078.1 627.1 1080.3 628.8 1077.3zM631.1 1103.7L629.7 1106.4 631.8 1108.6 633.1 1105.9zM624.7 732.1L627.5 735.2 631.6 735.9 628.9 732.7zM692.8 658.1L689.4 658 687.1 660.4 690.5 660.6zM609.9 873.9L613.3 877.1 617.8 875.8 614.4 872.6zM621.4 808.2L622.7 812.5 627.2 813 625.9 808.8zM710.8 1144.5L708.3 1146.5 710 1149.1 712.4 1147.2zM698.1 1171.5L702.1 1173.8 706.5 1172.5 702.5 1170.3zM619.7 819L622.9 821.2 626.5 819.6 623.3 817.4zM619.2 827.8L621.7 829.9 624.8 828.8 622.3 826.7zM609.2 874.9L612.2 878.9 617.1 878.1 614.2 874.1zM618.3 870.2L614.2 871.8 614.2 876.2 618.3 874.6zM624.8 975.1L620.7 975.2 618.6 978.6 622.6 978.5zM706.4 1000.7L705.3 1003.9 708.5 1005.1 709.6 1001.9zM719.8 920.3L715.8 920.9 715.5 925 719.5 924.4zM631.7 1111.6L632.4 1114.9 635.7 1115.5 635 1112.2zM624.7 1069.8L622.9 1072.9 626 1074.5 627.8 1071.5zM711.1 750.4L713.9 752.6 717.4 751.9 714.6 749.8zM626.2 1073.3L622.3 1071.9 619 1074.3 622.8 1075.6zM714.5 860.5L714.8 863.7 717.6 865.4 717.2 862.1zM715.5 837.5L713.5 842.3 716.8 846.4 718.8 841.5zM626.9 718.3L624.1 720.3 626.3 722.9 629.1 720.9zM627 791.1L624.1 793.2 626 796.2 628.9 794.1zM666.8 641L667.6 643.8 670.5 644.2 669.7 641.4zM714.2 751.4L709.2 751.8 706.2 755.8 711.1 755.4zM718.9 845.5L716.5 847.1 717.2 849.9 719.5 848.3zM623.8 948.1L618.5 948.6 615.7 953.2 621 952.6zM716.5 919.5L714.2 921.4 715.3 924.2 717.6 922.3zM711.3 997.2L707.1 996.7 705.8 1000.7 710 1001.2zM724.9 813.3L722.2 816.2 722.8 820.2 725.5 817.2zM629.4 1117.5L630.2 1121.3 634.1 1121.8 633.2 1118zM640.3 667L644.3 668.9 648.6 667.9 644.6 666zM696.9 670.4L696.9 674.7 700 677.7 700 673.3zM701.2 669.7L698.9 673.4 701.4 676.9 703.7 673.2zM619.3 1049L623.4 1050.8 627.6 1049.4 623.6 1047.6zM630.7 1087.6L627.4 1087 625.6 1089.9 629 1090.6zM718.6 781L716.3 783.8 718.9 786.3 721.2 783.5zM712.8 878.4L710.9 882.9 711.9 887.6 713.8 883.1zM633.1 1117.2L631 1122.1 633.8 1126.7 635.9 1121.8zM633.2 1093.6L629 1092.1 626.4 1095.8 630.6 1097.2zM629.2 742.9L624.6 744.4 621.8 748.4 626.4 746.9zM626.8 1031.5L622.1 1030.3 618.7 1033.7 623.3 1035zM708 1119.9L706.7 1125 709.8 1129.2 711 1124.1zM612.6 873.2L608.9 875.3 609.5 879.6 613.2 877.4zM732.4 802.6L729.5 801.6 727 803.5 730 804.5zM621.2 990.8L623.2 995.1 627.9 996 625.8 991.7zM703.5 1092L703.7 1097.2 708.1 1099.8 707.9 1094.6zM634.9 1115.3L632.3 1113.1 630 1115.7 632.7 1117.8zM717.6 896.2L714.5 898.2 714.4 901.8 717.5 899.9zM662.4 655.6L658.7 656.8 657.2 660.3 660.9 659.2zM616 897.6L612.9 896.4 610 897.9 613.1 899.1zM711.7 1154.4L710.4 1156.7 711.8 1159 713.1 1156.7zM625.1 740.9L627.4 743.7 630.8 742.3 628.4 739.6zM714.2 943.3L715 947.5 719.1 948.8 718.3 944.6zM667.6 1154.9L665.1 1157.5 666.4 1161 669 1158.3zM680.4 649L676.2 649.9 674.4 653.7 678.5 652.9zM718.7 772.7L713.8 773 711.1 777.1 716 776.8zM621.2 1010.4L618.8 1013.6 621.4 1016.6 623.8 1013.4zM615.7 936.5L616.3 940.6 619.8 942.7 619.2 938.7zM653.1 663.9L650.4 668.3 651.9 673.2 654.6 668.8zM705.6 712.1L703 710.8 700.4 712.3 703 713.6zM674 645.4L670.5 644.9 667.8 647.2 671.3 647.8zM696.9 660.6L693.3 658.1 689.9 660.9 693.5 663.4zM623.2 844.4L619.2 843.4 616.3 846.3 620.3 847.3zM614.8 909.3L616.2 911.9 619.1 912.3 617.8 909.7zM703.6 1012.7L701.9 1017.1 703.9 1021.4 705.7 1017zM654.4 1139.3L652 1143.7 652.6 1148.7 655.1 1144.3zM622.3 988.9L621.1 993.2 622.6 997.5 623.8 993.2zM717.2 780.9L719.8 784.4 724.3 784.6 721.6 781zM719.7 950.4L714.6 950 710.7 953.4 715.8 953.8zM723.3 783.4L721.4 787.6 723 792 724.9 787.7zM607.7 882.7L610.2 885.5 613.7 884 611.2 881.2zM622.8 727.9L623.7 730.7 626.6 730.4 625.7 727.6zM710 744.2L712.5 746.4 715.6 745.2 713.1 743zM630.2 686.2L630.7 689.5 634.1 689.9 633.6 686.5z"/>
<path fill="#769868" d="M697.2 1158.4L694.7 1160.9 697 1163.6 699.5 1161.1zM666.5 699.6L666.1 704.4 669.4 708 669.9 703.1zM680.8 861.4L682.4 864.4 685.5 863 683.8 860zM689.8 985.2L684.4 984.2 680.8 988.3 686.1 989.3zM663.3 896.7L661 899.7 663.4 902.5 665.7 899.5zM652.8 988.2L649.5 986.4 647.1 989.3 650.4 991zM628 921L625 921.6 625.3 924.6 628.3 924zM652.4 701L655.3 703.5 658.4 701.4 655.6 699zM683.6 915.5L684.1 920.3 687.3 924 686.9 919.1zM646.6 718.2L643.3 717.9 643.2 721.2 646.5 721.5zM704.1 929.5L704.9 933.3 708.8 933.8 707.9 930zM714.6 917.3L711.6 919.9 711.3 923.8 714.4 921.3zM688.5 965.1L692.5 968.4 697.6 967.1 693.5 963.8zM648.2 1075.4L643.2 1075.6 640.4 1079.8 645.5 1079.6zM680.6 1089.4L675.8 1090.1 673.1 1094.3 678 1093.6zM697.6 1147.9L692.7 1147.7 689 1150.9 693.9 1151.1zM692.9 1011.2L688.9 1010.3 687.3 1014.1 691.4 1015zM691 1122.9L691.2 1127.7 694.3 1131.3 694.1 1126.5zM698.1 859.8L698 863.7 700.5 866.7 700.6 862.8zM705.5 758L704.5 761.7 706.4 765 707.4 761.3zM703.4 1104.5L698.7 1103.3 694.2 1105.2 698.9 1106.4zM668.7 1144.4L666.2 1147 666.3 1150.6 668.9 1148.1zM668.5 801L665.6 803.6 668 806.6 670.9 804zM686.5 702.2L681.6 702.4 679.1 706.6 684 706.4zM704.7 801.8L700.9 800.6 698.6 803.8 702.4 804.9zM639.5 761.6L636.2 760.9 635.8 764.2 639 764.9zM697.8 954.1L699.4 957.5 703 956.1 701.3 952.6zM682.6 929.7L679.2 927.7 676.3 930.6 679.8 932.6zM679 1115.5L678 1118.9 680 1121.8 681 1118.4zM640.4 942.7L641.1 946 644.4 945.1 643.7 941.7zM644.9 778.5L643.7 782.7 646.9 785.6 648.1 781.4zM658.2 1078.7L656.4 1082.3 659.4 1085 661.2 1081.4zM678.4 1084.6L677.8 1089.3 680.1 1093.4 680.7 1088.7zM641.4 689.7L638.2 693.4 637.9 698.4 641.1 694.6zM685.3 1045.6L684.5 1048.5 686.6 1050.8 687.4 1047.8zM685 1004.7L681.9 1002.7 679 1005 682.1 1007zM707.2 976L705.1 978.5 705.6 981.6 707.7 979.2zM713.7 929.2L709.5 930.5 708 934.5 712.1 933.2zM656.8 917.7L655 921.8 657.2 925.7 659.1 921.6zM640.2 1056.3L641 1060.7 645.4 1061.6 644.6 1057.1zM629.8 901.1L632.5 903.5 635.4 901.1 632.6 898.7zM700 866.4L698.3 870 701.2 872.7 702.9 869.1zM702.4 860.1L705.2 864.4 710.4 863.9 707.5 859.6zM705.5 768L704.9 773 708.3 776.8 708.8 771.8zM688.4 920.5L684.3 923.8 684.2 929 688.3 925.7zM685.8 785.4L686.7 788.5 690 788.2 689.1 785.1zM671.5 655.5L671.2 659.6 674.9 661.4 675.1 657.3zM701.2 1152.8L697.5 1153 696.1 1156.4 699.8 1156.2zM710.8 1133.9L705.8 1133.4 702 1136.8 707 1137.2zM679.2 876.2L677.7 880.9 679 885.6 680.6 881zM696.5 1121.9L695.2 1126.9 697.8 1131.4 699.1 1126.4zM692.4 1032.3L696.8 1034.8 701.7 1033.2 697.2 1030.7zM664.5 918L665.6 920.7 668.5 921.2 667.4 918.5zM692.8 1097L689.7 1095.6 687.4 1098.1 690.5 1099.5zM675.6 882.2L671 882.7 668.6 886.7 673.2 886.2zM644.5 1104L645.9 1108.4 649.8 1110.8 648.4 1106.4zM656.9 1092.3L652.9 1093.8 650.8 1097.5 654.7 1096zM674.1 1091.6L673.8 1096.1 677.5 1098.5 677.9 1094zM705.5 760.8L704.5 764.9 707.6 767.8 708.6 763.7zM693.8 955.3L694.5 958.5 697.6 959.6 696.9 956.4zM697.1 881.3L693.8 884.4 695.6 888.6 698.9 885.5zM696.6 918.9L693.2 917.5 692 920.9 695.3 922.3zM638.8 830.4L634.6 830 631.4 832.7 635.6 833.1zM696.4 764.9L696.6 768.7 700 770.6 699.7 766.8zM683.7 857L679.1 856.8 675.2 859.3 679.8 859.5zM699.3 677.1L695.7 678.4 696.4 682.2 700 680.9zM676.5 1016.8L672.6 1015.6 669.1 1018 673.1 1019.2zM619.3 855.8L619.9 861.1 624.4 863.7 623.8 858.5zM672.9 765.4L669.1 768.2 669.9 772.8 673.8 770zM636.8 1108.7L638.5 1112.8 642.5 1114.7 640.9 1110.5zM709.9 921.1L706.5 924.2 707.8 928.5 711.3 925.5zM713.9 808.4L713.4 812.6 716.7 815.1 717.3 810.9zM705.2 901.9L700.3 901.1 695.7 903.1 700.6 903.9zM625.5 932.1L622 933.7 623.3 937.2 626.8 935.7zM679.1 1033.2L674.3 1032.1 669.9 1034 674.6 1035.1zM696.6 958.4L695.9 961.7 698.4 963.9 699.2 960.6zM671.4 738.9L674.8 741.7 679.3 741.3 675.9 738.5zM634.6 835L637.3 839.5 642.5 839.7 639.8 835.3zM643.9 927L647.8 930.1 652.8 930.4 648.9 927.2zM694.7 969.9L690.7 968.4 687.3 971 691.3 972.6zM671 757.5L667.5 756.8 666.3 760.1 669.8 760.8zM658.4 855.5L655.3 857.6 657.2 860.7 660.2 858.7zM695.5 660.4L691 659.2 687.3 661.9 691.7 663.1zM683 852L683.2 855 685.8 856.7 685.6 853.6zM711.9 843.7L708.4 842.3 705 844 708.5 845.3zM655.4 734.9L653.9 737.7 655.5 740.5 657 737.7zM713.7 855.1L712 859.5 713.2 864.1 714.9 859.7zM659.5 793.9L661.5 797.6 665.5 798.8 663.5 795zM651.5 893.3L650.5 896.3 652.8 898.5 653.9 895.5zM693.8 712.7L688.9 711.3 684.7 714.2 689.6 715.6zM685.2 965.8L683.2 968.1 685.2 970.4 687.1 968.1zM645.8 998.8L643.8 1002.8 645.2 1007.2 647.3 1003.1zM686.5 1041.8L682.4 1042.3 681.7 1046.3 685.8 1045.9zM691.6 946.3L688.5 948.8 688.4 952.8 691.5 950.3zM693 1064L690.3 1064.9 689.9 1067.7 692.6 1066.8zM707.9 896.5L706.6 901.5 710.1 905.3 711.4 900.3zM643.6 958.1L645.7 961 649.3 961 647.2 958.1zM636.5 867.7L632.4 867.5 629.2 870.1 633.3 870.3zM649.7 804.4L645 802.9 640.8 805.7 645.6 807.2zM637.3 938.7L633.6 939.4 633.5 943.1 637.1 942.4zM648.8 850.9L647.5 854.9 649.1 858.9 650.3 854.8zM642.7 1104.5L643.5 1107.2 646.3 1107.4 645.5 1104.7zM646.5 1078L641.3 1077.8 638.2 1081.9 643.3 1082.1zM685.1 674.3L682.6 672.6 680.4 674.6 682.8 676.3zM689.5 674.2L689.5 677.5 692.5 678.9 692.5 675.6zM666.7 718.9L665.4 722.6 668.8 724.4 670.1 720.7zM660.9 871.9L662.7 875 665.4 872.8 663.6 869.7zM689 1039.5L687.7 1043.8 691.4 1046.2 692.8 1041.9zM624.8 896L621.2 898.7 621.8 903.2 625.4 900.5zM664.4 1013.9L663 1018.7 665.9 1022.7 667.3 1018zM630 836.5L629.9 841.3 633.6 844.4 633.8 839.6zM692.2 828L691.8 832.2 694.6 835.3 695 831.1zM645.3 1000.8L641.5 1002.3 640.1 1006.1 643.9 1004.6zM692.2 1125.5L689 1127 690.1 1130.3 693.3 1128.8zM694.5 661.7L694 665 696.3 667.4 696.8 664.1zM664.7 897.7L663.7 901.1 667.2 901.8 668.1 898.4zM640.8 872.8L640.2 877.9 643.2 882 643.8 876.9zM710.3 922.6L705.9 920.5 702 923.5 706.4 925.6zM665.3 879.7L662.1 880.3 661.6 883.6 664.9 882.9zM697.3 933L693.8 931.9 691.8 935 695.3 936zM679.5 943.7L677.6 948.3 680.8 952.1 682.7 947.5zM644.6 898.2L647 902.2 651.6 901.5 649.2 897.5zM666.5 692.9L664.3 697.6 666.5 702.4 668.7 697.7zM685.6 1109.2L682.3 1107.3 679.4 1109.8 682.7 1111.6zM639.1 682.1L636.2 680.9 634.7 683.7 637.6 684.8zM656.3 965.8L657.6 969.6 661.6 969.8 660.3 966.1zM688.3 1089.8L685.6 1091.4 686.1 1094.6 688.9 1092.9zM637.3 1031.6L638.1 1035.9 641.9 1038.1 641.1 1033.8zM642.4 948L644.4 952.7 649.4 954 647.4 949.3zM630.7 838.1L630.3 842.7 632.6 846.8 633 842.1zM669.8 672.4L672.7 676 677.4 676.4 674.5 672.7zM656.9 980.7L659.7 983.3 662.6 980.7 659.7 978zM688.4 1051.4L684.4 1052.7 682.9 1056.7 686.9 1055.3zM660.2 1007.2L660 1011.5 662.4 1015 662.6 1010.7zM667.5 671.9L664.1 672.5 663.4 675.8 666.8 675.3zM681.3 668.3L678.3 668.8 677.7 671.8 680.7 671.3zM676.4 923.9L674.5 925.8 675.4 928.3 677.2 926.4zM712.6 896.8L710.1 899.7 711.3 903.3 713.7 900.4zM641.1 1027.4L637.3 1026.1 634.9 1029.3 638.7 1030.6zM714.1 800.2L710.5 799 708.9 802.5 712.6 803.7zM645.6 727.5L640.7 727.6 637 730.7 641.8 730.6zM675.5 1072.2L672.7 1073.9 673.7 1077 676.5 1075.3zM623.4 1030.6L620.7 1033 622.1 1036.4 624.8 1033.9zM638.5 909.9L640.1 913 643 910.9 641.3 907.8zM646.7 939.9L644.7 943.6 647.6 946.7 649.7 943zM631 746.2L630.8 751.3 634.9 754.1 635.1 749.1zM672 953.9L672.9 957 676.1 956.8 675.2 953.7zM615.3 911.7L615.8 914.8 618.8 915.6 618.3 912.5zM620.1 997L619 1000.5 622.1 1002.6 623.2 999zM663.2 1151.8L661.3 1154.3 663.5 1156.4 665.3 1154zM621 717.2L624 721.3 629 721.9 626 717.8zM690.6 1167.3L687.1 1166.2 685.2 1169.4 688.8 1170.5zM616.8 915.9L618.6 920 622.9 921.3 621.1 917.1zM722.5 929.8L719.1 931.9 718.3 935.7 721.6 933.7zM714.9 1142.2L710.7 1140 706.8 1142.5 710.9 1144.7zM670.4 1153.1L665.9 1155.1 665 1159.9 669.5 1157.9zM669.3 1155.7L669.8 1160.1 673 1163.1 672.5 1158.8zM718.1 863.4L713.7 863.3 711 866.7 715.3 866.8zM621.2 932.1L617.9 934.1 619.5 937.6 622.8 935.6zM714.4 956.4L718.2 959 721.9 956.4 718.2 953.7zM623.1 745.1L625.1 749.6 629.4 751.8 627.4 747.3zM696.9 691.8L697.5 695.3 700.8 696.3 700.2 692.9zM631.5 772.6L626.5 771.5 622.3 774.4 627.3 775.6zM706.5 1114.6L707.9 1117.7 711.2 1118.7 709.8 1115.6zM622.4 854.5L618.4 854.5 617.3 858.3 621.3 858.4zM686.2 653.4L684.1 656.2 686.7 658.5 688.8 655.7zM626.6 1077.2L625 1080.4 627.8 1082.6 629.3 1079.4zM619.1 913.7L617.1 917.4 618.2 921.5 620.1 917.8zM626.4 990L623.5 990.1 621.9 992.5 624.8 992.5zM624.9 1039.5L621.1 1039.3 618.4 1042 622.2 1042.2zM639.4 1127.8L636.3 1128.3 635.8 1131.4 638.9 1131zM710.9 769.3L710.4 772.8 713.3 774.9 713.8 771.4zM623.8 1040.7L619.5 1042.5 617.9 1046.8 622.1 1045zM654 661.8L651 664.4 653.2 667.7 656.3 665.1zM677.4 1158.8L676.8 1163.7 679.9 1167.5 680.4 1162.6zM712.8 1122.5L710.6 1125.1 712 1128.1 714.1 1125.6zM712.8 901.4L713.7 905.9 717.9 907.8 716.9 903.3zM680.3 1159.7L678.7 1164.5 680.3 1169.3 681.9 1164.5zM695.9 686.5L695.6 689.9 698.4 691.9 698.7 688.5zM697.8 678.7L700.4 681.9 704.5 681.4 701.9 678.2zM633.6 692.2L629.9 691.4 628.5 694.9 632.2 695.7zM618 965.5L619.4 968.9 623 969.4 621.6 966zM658.7 1145.8L653.8 1144.8 650.8 1148.8 655.7 1149.7zM700 1069.3L698.3 1072.4 700.5 1075.3 702.2 1072.1zM702.6 670.9L699.9 669.3 698.3 672 701 673.5zM716.7 920.6L714.8 924.2 717.5 927.1 719.4 923.6zM618.6 843.3L618.9 847.4 623 847.6 622.6 843.6zM698.1 679.2L699.5 682.6 703.1 683.1 701.7 679.7zM696.8 1038.1L700.6 1040.7 705.1 1039.9 701.3 1037.2zM698.2 1169.6L695 1170.6 695.7 1173.9 698.9 1172.9zM611 868.8L613.1 871.7 616.6 870.9 614.5 867.9zM620.4 936L618.2 939.1 620.9 941.8 623.1 938.7zM711.4 958.8L715 962.3 719.9 961.3 716.3 957.8zM630.2 1075.3L625.4 1073.7 621.4 1076.8 626.2 1078.4zM681.3 649.4L678.4 650 678.3 653.1 681.3 652.4zM622.2 930.4L617.4 930.9 615.3 935.3 620.1 934.7zM660.7 659.6L658 658.9 656.3 661.1 659 661.8zM674.9 1160.1L676.8 1163.7 680.7 1162.6 678.8 1159.1zM712.5 854.8L714.6 858 718.4 858.3 716.3 855.2zM641.7 1129.1L636.8 1126.9 632.6 1130.1 637.4 1132.2zM626.6 806.1L622.2 807.8 622.1 812.5 626.4 810.8zM627.9 707.7L625.3 709.9 626.6 713.1 629.2 710.9zM620.1 934.3L617.6 936.4 619 939.3 621.5 937.2zM688.4 1171.6L690.9 1176.1 696 1176 693.5 1171.5zM702.3 1059.6L698.3 1058.7 696.9 1062.5 700.8 1063.4zM631.7 673.5L628.4 671.6 625.3 673.8 628.6 675.7zM641.8 1134.2L644.2 1137.5 647.9 1135.8 645.5 1132.5zM617.2 841L615.4 845.6 617.6 850.2 619.5 845.5zM700.5 1169.3L704.1 1172.9 709.2 1173.2 705.6 1169.5zM621.8 1063.2L624.4 1065.3 627.5 1063.9 624.8 1061.7zM697.4 1058.5L696.5 1061.8 699.9 1062.5 700.7 1059.2zM646.3 1132.9L642.8 1133.3 642.4 1136.8 645.9 1136.4zM704.5 989.8L709 992.2 713.9 990.9 709.4 988.5zM708.2 1004.8L705.2 1003.7 703.8 1006.5 706.8 1007.7zM666.6 642.4L663.9 644.6 666.6 646.9 669.2 644.6zM629.3 778.2L625.9 778 624.7 781.2 628.1 781.4zM718.5 892.6L715.5 890.9 712.7 893.1 715.8 894.8zM723.4 826.1L718.9 826.4 715.9 829.7 720.4 829.4zM629.6 1067.3L625 1066.7 622 1070.3 626.6 1070.8zM620.1 1050L618.3 1054.9 621.7 1058.9 623.5 1054zM710.8 1114.5L708.4 1117.1 709.5 1120.4 711.9 1117.9zM714.6 761.5L711.2 762.6 712.8 765.8 716.1 764.7zM699.2 1070.4L696.8 1073.1 699.7 1075.2 702.1 1072.5zM622.5 1025.5L617.4 1024.3 613.6 1027.9 618.7 1029.1zM726.2 810.4L723.3 814.1 724.7 818.7 727.6 814.9zM624.3 972.6L620.9 975.2 621.3 979.5 624.7 976.9zM703.1 1077L700.6 1081.2 700.9 1086.1 703.4 1081.9zM619.9 982.1L623.1 984.8 626.8 982.9 623.6 980.2zM702.8 1083.1L699.5 1085.6 699.2 1089.7 702.5 1087.2zM713.8 1124.8L708.9 1124.8 706.6 1129.2 711.6 1129.2zM696.9 689.4L694.7 693.6 695.4 698.4 697.6 694.1zM620.4 1028.5L620.5 1032.5 624.4 1033.6 624.3 1029.6zM719 860.9L715.7 863.7 717.1 867.7 720.4 865zM714.5 938.3L717.7 940.5 721.5 940.1 718.4 937.8zM640.9 1126.8L636.4 1128.3 634.1 1132.4 638.6 1130.9zM714.6 1162.4L713.2 1164.9 714.7 1167.4 716.1 1164.9zM713.3 959.1L717.2 961.1 721.3 959.3 717.3 957.3zM714.3 954.1L716.2 956.6 719.3 956.1 717.4 953.6zM623.3 1010.8L620.3 1009.3 618.5 1012 621.4 1013.6zM703.1 714L706.8 717.2 711.6 717.5 707.9 714.3zM694 655.6L691.3 659.2 691.5 663.6 694.2 660.1zM700.4 669.2L698.5 673.2 701.1 676.8 703 672.8zM652.2 1139.8L652.1 1144.2 656.3 1145.5 656.4 1141.1zM708.6 732.1L708.7 735.6 712.2 736 712.1 732.5zM628.2 688.8L630.8 692.8 635.4 693.5 632.9 689.6zM629.6 751.1L628 755.2 629.3 759.5 631 755.4zM720.9 942.8L715.8 943 713 947.4 718.1 947.1zM714.7 1126.3L711.7 1126.9 711.7 1130 714.7 1129.4zM709.6 725.2L706.4 723.8 705.2 727.1 708.4 728.5zM713.6 1164.6L710.5 1167 712.6 1170.4 715.6 1167.9zM637.6 665.5L634.7 669.5 636.4 674.2 639.4 670.2zM618.5 1031.4L622.7 1033.6 627.5 1032.8 623.2 1030.5zM697 1031.6L695.8 1036.6 699.8 1039.9 701 1034.9zM672.9 648L674.9 652.1 679.1 653.7 677.2 649.7zM705.8 1029L702.2 1028.7 699.6 1031.4 703.3 1031.7zM714.2 1126.2L709.9 1127.1 709.3 1131.4 713.6 1130.5zM619.9 929L615.9 931 615.1 935.3 619.1 933.4zM704.7 1008.8L702 1009.5 701.4 1012.2 704.1 1011.6zM626.3 794.8L622.5 795 620.3 798 624 797.8zM714.2 1138.2L710.2 1140 710 1144.4 714 1142.6zM627.4 989.9L623.3 988.3 620.6 991.7 624.7 993.3zM716.8 1133.4L712.7 1134.9 710.7 1138.8 714.8 1137.3zM663.3 651.2L658.3 651.3 655.4 655.3 660.4 655.3zM716 752L713.7 756.1 714.4 760.8 716.7 756.7zM617.6 899.8L613 901.1 610.8 905.3 615.4 904.1zM627.2 1089.1L625.2 1092.6 627.4 1095.9 629.4 1092.4zM706.6 721.8L706.3 726.3 709.6 729.2 709.9 724.7zM701.8 1094L704 1098.1 708.5 1099.5 706.3 1095.3zM624.3 828.5L620.8 828.5 621.1 832 624.6 832zM622.5 1049.7L619.4 1050.6 619.4 1053.9 622.6 1053zM726.8 790.7L724.1 793.3 725 796.9 727.6 794.3zM702.6 989.3L706 992.5 710.6 992.9 707.3 989.7zM629.6 758.6L626.2 761.5 626.8 765.9 630.2 763zM709.6 1134.6L713.2 1138.2 718.3 1137.3 714.6 1133.7zM661.4 658.6L658.3 658.2 656 660.3 659.1 660.8zM708.2 1105.3L705.2 1109 705 1113.7 708 1110zM705.4 741.6L709.9 743.3 714.5 742.2 710.1 740.5z"/>
<path fill="#365b31" d="M674.1 1101.7L670.2 1100.6 668.5 1104.3 672.4 1105.5zM675.9 1025L673.6 1027.5 674.5 1030.8 676.7 1028.3zM656 784.2L656.8 787.9 660.5 788.1 659.7 784.5zM699.6 879.3L702.9 882 706.6 880 703.4 877.3zM694.9 1032.3L690.8 1035.6 690.9 1040.9 695 1037.6zM631.6 852.5L634 854.2 636.4 852.6 634 850.9zM668.3 770.1L665 771.6 666.2 775 669.5 773.5zM681.3 1161.6L676.2 1162.3 673.1 1166.4 678.3 1165.7zM685.6 1057.9L689 1060.1 693 1059.3 689.6 1057zM700.5 998L700.5 1001.5 703.5 1003.1 703.5 999.7zM651.1 740.9L649 744.6 651.5 748 653.6 744.4zM653.7 1014.4L653.7 1017.5 656.7 1018.3 656.7 1015.2zM706.4 932.5L704.5 935.1 707.1 937.2 708.9 934.5zM669.6 841.7L667.5 845.5 668 849.9 670.2 846.1zM642.9 783.5L639.5 786.8 639.7 791.6 643.1 788.3zM686.2 904.5L689.3 907.8 693.8 908.1 690.7 904.9zM650.7 925L655.1 927.8 660.2 926.2 655.7 923.3zM638.1 718.9L637.6 723.4 641.1 726.3 641.6 721.8zM680.5 1010.7L678 1012 677.9 1014.8 680.5 1013.5zM680.2 988.7L677.5 986.4 675.1 988.9 677.8 991.2zM698.2 1076.9L696.2 1079.4 698 1082 700.1 1079.6zM639.2 1089.8L639.3 1094.1 643.3 1095.7 643.2 1091.4zM644.6 849L644.3 852.1 647.2 853.2 647.5 850.1zM707.4 738.3L703.9 737.6 701.4 740.2 704.9 740.9zM687.3 1145.4L683.3 1147.6 681.6 1151.9 685.6 1149.7zM695.9 915.5L697.8 919.2 701.8 920.1 700 916.5zM706.3 798.4L704.9 800.8 706.6 803.1 708 800.6zM648.2 729.1L649.1 733.5 653.2 735.5 652.3 731zM666.2 1123.3L667.6 1126.6 671.1 1127.1 669.7 1123.8zM667.8 946.5L668.4 950.5 672.4 951.1 671.8 947zM647.9 1015.9L644.8 1014.6 641.8 1016.3 645 1017.7zM642.4 1085.8L638.6 1084.3 635.3 1086.7 639.1 1088.1zM673.6 702.3L677 703.9 680.7 702.8 677.2 701.1zM657.9 738.6L660.2 741.8 664.1 742.4 661.8 739.2zM669.3 1009L664.1 1008.2 660.9 1012.4 666.1 1013.1zM628.6 1027.5L627 1030.7 628.2 1033.9 629.8 1030.8zM706.7 951L704 954.9 704.1 959.6 706.9 955.7zM692.2 1010.4L695.2 1014.1 699.7 1012.7 696.7 1009zM638.6 900.6L635.5 902.2 635.7 905.7 638.8 904.1zM676.7 766.6L673.8 766.8 672.7 769.5 675.6 769.3zM690.5 1030.7L689.8 1034.7 693 1037.3 693.6 1033.3zM664.2 1097L666.7 1100.3 670.8 1099.7 668.3 1096.4zM663.8 826.9L661.1 830.9 661.8 835.6 664.6 831.6zM705.9 872L701.8 871.9 698.8 874.7 702.9 874.8zM641.4 770.2L639.6 773.4 642 776.1 643.7 773zM617.8 856.1L618.2 859.4 621.4 860.3 621.1 857zM661.8 844.7L661 848.5 663.3 851.6 664.1 847.8zM659.6 737.6L657.8 741.8 659.8 745.9 661.6 741.7zM688.4 1124.8L685.1 1127.7 684.4 1132.1 687.7 1129.2zM621.5 897.3L619.9 899.9 621.5 902.5 623.1 899.9zM625.5 789.8L626.2 793.3 629.3 795 628.6 791.5zM626.6 961.5L621.7 963.5 620.9 968.7 625.8 966.8zM645.1 744.9L643.6 747.3 645.3 749.5 646.8 747.1zM668.2 1068.6L665.3 1067.6 664 1070.3 666.9 1071.3zM680.6 890L679.7 894.3 683.7 896.2 684.6 891.9zM690.3 774.5L687.9 778 690.3 781.4 692.7 778zM708 906.2L708.3 909 710.9 909.8 710.6 907.1zM640.1 788.3L639.3 793.1 642.9 796.2 643.7 791.4zM686.1 996.4L683.7 999.1 686.3 1001.7 688.6 998.9zM633.8 1042.8L630 1044.1 629.4 1048.1 633.3 1046.8zM671.5 1096.6L675.5 1100 680.6 1099 676.6 1095.7zM637.4 930.8L634.5 933.5 634.1 937.5 637 934.7zM634.9 713.5L631.8 714.6 631.1 717.9 634.3 716.8zM649.7 928.5L649.2 932.8 651.6 936.3 652.1 932zM657.9 950.4L656.1 954.6 659.2 958 661.1 953.8zM635.3 900.1L634.7 904.8 637.4 908.6 638 904zM692.7 818.9L692.5 823.6 696.8 825.6 696.9 820.9zM699.9 873.9L697.2 875 696.8 877.9 699.6 876.8zM698.1 722.5L695.4 723.2 694.9 726 697.7 725.3zM631.8 705.7L633.6 708.6 636.9 707.6 635 704.7zM637.2 760.9L633.4 759.5 630.2 761.9 634 763.3zM662.5 904.1L659.3 905.7 658.5 909.3 661.8 907.6zM680.4 767.9L677.5 766 675.4 768.7 678.3 770.6zM673.6 822.3L669.5 821.2 666.9 824.7 671.1 825.8zM703.9 775.1L703.8 779.7 708.1 781.5 708.2 776.8zM691.2 761.1L687.9 763.2 689.8 766.6 693.1 764.5zM648.3 845.2L644.9 848.4 644.4 853 647.8 849.8zM639.1 1123.8L637.1 1126.8 638 1130.3 640 1127.3zM641.3 1031.4L640.2 1034.9 643.7 1036.2 644.8 1032.6zM682.5 800.9L681.9 806.1 685.6 809.9 686.2 804.7zM637.4 738.1L637.9 742.5 641.3 745.3 640.8 740.9zM712.7 856.7L711.6 859.3 713.4 861.6 714.4 859zM706.8 763.2L702.2 764.7 699.8 769 704.5 767.5zM682.7 808.1L679.1 809.8 678.6 813.7 682.2 812.1zM623.9 977.3L624.5 981.1 628.3 981.8 627.7 978zM680.2 1104.9L678.5 1108.3 681.4 1110.7 683.1 1107.3zM697.2 787.1L694.8 788.7 695.3 791.6 697.7 790zM694.7 1071.4L691.4 1070 690.1 1073.4 693.4 1074.7zM659.4 812.5L656.5 810.9 654.8 813.6 657.6 815.2zM641.7 797.5L638.7 799.8 638 803.6 641 801.3zM702.6 798.7L700 796.3 697.8 799 700.3 801.4zM655.2 1097L654.2 1100.4 657.5 1101.6 658.4 1098.3zM663 1125.5L666.4 1129.5 671.5 1128.6 668.2 1124.6zM678.4 851.8L681.2 854.4 684.2 852.1 681.4 849.4zM658.4 1024.8L659.6 1029.8 664.6 1031.1 663.4 1026zM689 1090.7L684.4 1091.9 683 1096.4 687.7 1095.3zM687 1114.8L684.4 1115.9 684.1 1118.7 686.7 1117.6zM627.6 744.3L631.9 746.7 636.4 744.7 632.1 742.3zM720 937.5L715.2 937.1 711.6 940.3 716.4 940.7zM679.9 687.7L682 691.2 686 690.7 683.9 687.3zM689.7 931.9L690.9 935.1 694.1 936.3 692.9 933.1zM670.2 676.5L668.5 679.6 670.9 682 672.5 679zM708.5 969.6L703.9 968.1 699.8 970.7 704.4 972.2zM681.2 807.7L679.7 811.8 683.3 814.3 684.8 810.2zM678.8 721.7L679.1 726.8 683.5 729.3 683.2 724.2zM695.1 880.9L691.4 881.3 690.2 884.9 694 884.5zM690 891.2L686.4 894.4 687.4 899.2 691 896zM681.8 935.4L679 938.2 681.2 941.4 684.1 938.7zM659.3 970.1L662.5 972.7 666.6 971.9 663.4 969.3zM646.3 688.8L644.5 692.5 646.4 696.1 648.2 692.4zM688.3 926.4L690.5 929 693.9 928.8 691.7 926.2zM693.1 1047.6L692.5 1052.7 696.3 1056.1 697 1051zM664.8 838.5L661.2 838.3 659.4 841.3 662.9 841.6zM660.1 1090.2L661 1093.4 664.2 1092.4 663.3 1089.2zM639.4 894.7L635.2 892.6 631.7 895.8 636 897.9zM634.5 722.5L636.1 725.5 639.4 726.2 637.7 723.3zM678.5 831.9L680.2 836.3 684.8 837.1 683.1 832.7zM685.2 1148.5L686.9 1152.2 691 1152.2 689.3 1148.5zM675.7 1153.1L671 1155.1 669.9 1160.2 674.6 1158.1zM691.6 1028.7L691.2 1032.2 693.8 1034.4 694.2 1030.9zM664.1 689.2L668.8 692 673.6 689.5 668.9 686.7zM672.6 964.1L671.2 968.3 673.3 972.2 674.7 968zM652 997.5L654.1 1001.2 658.4 1001 656.3 997.2zM652.6 841.1L649.2 842.5 650.8 845.8 654.3 844.4zM638.1 942.8L641 946 645.2 946.6 642.3 943.4zM647.3 974.5L648.7 978 652.5 978.7 651 975.2zM679 684.9L675.4 684.5 674.1 687.9 677.8 688.4zM642.6 702.2L644 707.3 649.1 708.7 647.7 703.6zM685.5 929.5L686.3 932.8 689.8 932.4 688.9 929zM695.3 733.5L691.5 732.1 689.1 735.5 693 736.9zM672.6 861.4L668.7 860.4 665.4 862.7 669.3 863.6zM687.5 693.6L684.5 696.2 686.2 699.7 689.2 697.1zM645.3 1088.9L642.7 1091.5 643.8 1095 646.3 1092.4zM642.7 786.1L640.1 786.6 639.5 789.2 642.2 788.8zM690.7 1067L685.9 1069.1 684.5 1074.2 689.3 1072zM647.2 1003.3L648.9 1007.8 653.7 1008.1 652 1003.6zM687.5 720.4L689.7 722.2 692 720.5 689.8 718.7zM717.5 803.4L715.7 806.8 718.9 809 720.7 805.6zM706.1 854.6L704.4 858.1 707.4 860.6 709.1 857.1zM660.5 1018.8L656.7 1018.5 656 1022.2 659.8 1022.5zM698.5 960.8L694.2 962.7 693.3 967.3 697.6 965.4zM663.7 824.5L660.3 824.2 657.8 826.5 661.2 826.8zM663.4 870.6L660.8 872.6 662 875.7 664.6 873.6zM704.5 909.8L703 913.3 704.9 916.6 706.4 913.1zM674.9 1158.6L671.7 1157.6 669.2 1160 672.5 1161zM616.8 926.6L618.6 930.8 622.4 933.2 620.7 929zM621.5 956.2L621.1 960.3 623.3 963.7 623.7 959.7zM698.6 668.7L698.9 672.7 702.2 674.7 701.9 670.8zM717 887.2L714 889.6 713.7 893.5 716.6 891zM690.2 656.9L686.4 656.1 685 659.7 688.7 660.5zM619.9 1023.3L616.6 1025.8 615.7 1029.8 619 1027.4zM617.9 852.2L618.7 856.4 622.5 858.3 621.7 854.1zM617.6 871.4L613.8 871.8 612.6 875.3 616.3 875zM630.8 1089.2L626.4 1087.3 622.5 1090.1 627 1092zM723.4 778.9L718.8 777.1 714.4 779.2 719 781zM634 1104.3L631.1 1103.8 629.8 1106.4 632.7 1106.9zM702 1082.1L699.6 1084.5 701.3 1087.4 703.7 1085zM633.5 1102.3L629.1 1103.5 626.7 1107.3 631.1 1106.1zM719 826.9L716 831 717.7 835.8 720.7 831.7zM619.1 908.1L616 911.8 615.9 916.6 619 912.9zM712.6 768.4L714.4 772.7 718.6 774.8 716.8 770.5zM709.4 722L707.8 726.2 709.8 730.3 711.4 726.1zM709.9 904.3L712.8 908.5 717.7 909.5 714.8 905.4zM618.7 897.9L613.6 899.6 611.8 904.5 616.8 902.9zM709.3 1145.8L711.1 1148.8 714 1146.8 712.2 1143.8zM619.1 909.4L616.3 912.2 617.5 916 620.3 913.2zM723.9 782.5L720.6 781.5 717.7 783.4 721 784.4zM708.9 1139.3L711.3 1142.4 714.6 1140.4 712.3 1137.3zM628.7 1098.6L627.9 1103.5 630.4 1107.9 631.2 1102.9zM622.6 681.8L626.2 685.2 630.9 683.3 627.2 679.9zM616.6 847L617.7 851.9 621.7 855 620.7 850zM706.9 762.6L710.3 766.4 715.4 766.4 712 762.6zM705.5 1078.1L701.8 1076.7 699.2 1079.6 702.9 1081zM629.2 1096.1L631.4 1100.1 635.9 1099.8 633.8 1095.8zM628 1118.4L631.9 1120.7 636.5 1120.4 632.6 1118.1zM611.4 879.5L614.7 882.4 618.7 880.7 615.4 877.8zM644.5 1131.6L640.7 1133.9 639.8 1138.3 643.6 1136zM628.4 1059.3L624 1057.8 619.9 1060.1 624.3 1061.6zM689.1 1167.5L687.5 1170.3 689.8 1172.6 691.4 1169.8zM639.8 1129.5L636.8 1127.2 634.1 1129.8 637.1 1132.1zM633.1 1100.2L630.8 1104.7 632.3 1109.5 634.6 1105zM616.7 832.6L616.7 837.6 621.2 840.1 621.1 835zM626.8 1078.6L624.7 1081.4 626.9 1084.2 629.1 1081.3zM617.5 930.6L618.5 933.3 621.4 933.7 620.4 930.9zM701.9 706.2L700 709.2 702.8 711.3 704.7 708.3zM625.4 941.9L620.4 941.9 617.8 946.2 622.8 946.2zM713.6 976L710.1 975.9 710.6 979.4 714.1 979.4zM688.9 1166.7L684 1167.6 682.4 1172.2 687.2 1171.3zM716.2 762.6L713.1 762.2 711.1 764.5 714.2 764.9zM714.7 744.6L710.3 744.1 707 747 711.3 747.5zM707 726.9L706.2 729.8 708.8 731.4 709.6 728.5zM698 678.2L696.9 681.2 699.4 683 700.5 680.1zM620 728L623.5 730.7 627.6 729.3 624.2 726.5zM704.6 1101L702.3 1104.4 703.3 1108.4 705.7 1105zM703.4 1083.9L701.2 1087.7 704.1 1091 706.3 1087.2zM619.7 1017.5L620.3 1022 623.9 1024.9 623.4 1020.3zM701.3 716.4L704.1 719.8 708.4 719.2 705.7 715.8zM621.4 821.2L622.9 825 626.9 824.2 625.4 820.4zM651.9 1148.2L655.1 1150.2 658.6 1148.9 655.4 1146.9zM718.3 844.3L716.4 847.5 717.6 851.1 719.5 847.9zM633.5 1116.8L631.7 1119 633.2 1121.4 634.9 1119.2zM712 982.8L708.3 982.7 708 986.4 711.7 986.5zM623.5 1082.5L625.7 1085.5 629.4 1085.2 627.2 1082.1zM708.6 998.8L706 1000.2 705.7 1003.2 708.4 1001.8zM713 736.8L710.6 741.1 711.7 746 714.2 741.6zM705.8 674.9L700.6 675.1 698.2 679.8 703.4 679.6zM620.6 822.6L619.3 825.9 620.7 829.1 622 825.8zM709 1137.4L708.7 1141.6 711.2 1145.1 711.5 1140.9zM713 752.5L710.5 755.6 712.7 758.9 715.2 755.8zM699 1048L697 1051.2 698.8 1054.6 700.8 1051.3zM709.3 1000.2L705.4 1002 703.6 1006 707.5 1004.1zM629.8 729.8L624.7 729.5 621.1 733.1 626.2 733.3zM629.9 721.3L626.1 721.2 623.9 724.3 627.7 724.5zM696.6 700.2L698.4 702.7 701.3 701.7 699.5 699.1zM621.5 1008.7L618.3 1010.1 619.4 1013.3 622.5 1011.9zM702.4 1107.1L703.9 1111.5 708.6 1111.6 707.1 1107.2zM698 1008.6L702.1 1011.4 706.8 1009.6 702.7 1006.8zM628.2 726.2L624.6 724.8 621.2 726.7 624.8 728.1zM704.6 1054.9L699.8 1056.8 697.9 1061.6 702.7 1059.7zM625.3 989L622.9 991.1 624.7 993.8 627.1 991.7zM684.9 653.8L685.3 658.1 689.4 659.6 689 655.3zM701.5 1046.2L698.4 1049.4 698.1 1053.7 701.1 1050.6zM621.3 980.2L623 982.6 625.7 981.4 624 979.1zM636.5 688.6L632.5 688.9 630 692.1 634.1 691.8zM678.3 1159.2L673.9 1159.1 671.2 1162.6 675.6 1162.7zM715.9 904.6L711.3 906.6 711.2 911.5 715.8 909.6zM634.1 667.7L634.2 671.5 637.1 674 636.9 670.2zM621.5 841.3L619.5 845.5 621.1 850 623.1 845.7zM701.4 1071.1L698.2 1071.9 698.1 1075.2 701.3 1074.4zM702.7 1049.8L697.6 1049.5 694.2 1053.3 699.3 1053.6zM701.1 1056.2L696.8 1059.3 697.3 1064.6 701.6 1061.4zM613.5 845.2L616.7 849.5 622.1 848.9 618.8 844.6zM624.7 809.1L620.1 810.7 618.1 815.2 622.8 813.6zM715 856L714.9 860.2 718.8 862.1 718.9 857.9zM648.4 1131.7L646 1135.8 647.8 1140.2 650.2 1136.1zM700.7 700.1L700.3 703.3 702.7 705.4 703.1 702.2zM628.3 803.2L625 801.9 622.1 804 625.5 805.3zM706 1101.5L702.2 1104.4 702.7 1109.1 706.5 1106.2zM662 654.1L657.2 655.4 656.4 660.3 661.2 659zM694.8 1169.9L691.1 1172.5 692.3 1176.8 696 1174.3zM628.9 1092.8L629 1096.9 632.7 1098.8 632.6 1094.7zM727.7 798.8L724.3 798 722.2 801 725.7 801.8zM685.9 1160.9L681.8 1163.6 682.1 1168.5 686.3 1165.8zM621.5 989.2L624 990.8 626.6 989.3 624.1 987.7zM717.9 946.1L715.1 950.3 717.4 954.7 720.3 950.6zM621.9 1064.3L624.3 1067.2 627.8 1065.8 625.4 1062.9zM717 895.3L714.1 896.4 713.9 899.4 716.7 898.4zM710.8 750.9L710 755.4 712.2 759.4 713 754.9zM627.1 677.7L624.9 682.3 627.7 686.5 629.9 682zM627.1 774.3L623.9 777.6 624.3 782.1 627.5 778.9zM711 900.8L714.7 903.8 719.1 902.1 715.4 899.1zM622.1 944.4L618.3 945.4 618.7 949.3 622.6 948.3zM712.9 774.4L713.7 778.1 717.4 777.4 716.6 773.7zM625.6 821.2L620.8 821.5 617.3 824.9 622.1 824.6zM719.5 895.2L715.6 897.8 714.1 902.2 718 899.6zM618.6 982.5L618.5 986.9 622.4 989.1 622.5 984.6zM627.5 766.6L625 769.3 625.7 772.9 628.2 770.2zM714.2 1140.5L710.7 1142.1 709.6 1145.8 713.1 1144.2zM698.7 1029.6L700.4 1034.3 705.2 1035.6 703.5 1031zM630.3 749.5L626.6 752.2 627.2 756.7 630.9 754zM701.7 1059.4L698.3 1060.4 697.8 1063.9 701.2 1062.8zM624.9 1010.7L621.2 1009.1 618.6 1012.1 622.2 1013.7zM624.3 777.5L625.9 780.7 628.9 778.7 627.3 775.5zM626.4 1067L622.9 1068.2 621.2 1071.5 624.7 1070.3zM620.3 830.1L617.4 832.5 617.1 836.4 620.1 833.9zM719.1 846.5L715.8 847.1 714.4 850.1 717.7 849.5zM688.7 1168.8L685.3 1167.6 683.8 1170.9 687.3 1172.2zM700.3 1078.4L697.5 1082 699.7 1086.1 702.5 1082.4zM705.6 1016.3L702.4 1017.5 703.9 1020.5 707.1 1019.4zM703.1 1075.4L699.9 1077.8 701.6 1081.4 704.8 1079.1zM710.6 719.4L705.8 719 701.6 721.5 706.4 721.9zM698 673.9L697.4 677.6 701 678.3 701.7 674.6zM716.2 1130L712.2 1131.8 710.1 1135.6 714 1133.8zM621.8 730.7L623.6 733.9 627.2 734.1 625.5 730.9zM712.6 908.1L714.2 910.8 716.9 909.3 715.4 906.5zM619.9 1020.6L619.1 1024 622.1 1025.9 622.9 1022.4zM630.4 1102.1L628.9 1105.6 631.5 1108.4 633 1104.9zM683.5 653.8L684.8 658.1 689.3 658.2 688 653.9zM688.8 1169.3L688.6 1173.5 691.1 1176.8 691.3 1172.6zM696.6 700.8L701 703.7 705.7 701.2 701.3 698.3zM642.3 667.2L645.2 670 648.5 667.8 645.7 665zM714.1 756.9L712.1 760.2 713.2 763.9 715.2 760.6z"/>
<path fill="#b2c6a6" d="M700 1102.9L696.6 1102.7 695.4 1105.9 698.8 1106.1zM664.5 663.7L666.9 666.9 670.8 665.9 668.3 662.8zM693.4 877.5L691.8 882 694.8 885.6 696.5 881.1zM625.8 1019.5L628.2 1023.1 632.4 1023.4 630.1 1019.8zM665 986.3L661.2 987.8 660.1 991.8 663.9 990.3zM715 811.7L715.1 815.6 718.9 816.7 718.7 812.8zM688.7 726L686.8 729.1 689.3 731.7 691.2 728.6zM658.7 815.3L657.1 819.2 660.4 821.9 661.9 818zM665.4 702L661.7 700 658.8 703 662.5 705zM691.9 867.9L695.3 870.1 699.4 869.3 695.9 867.1zM633.5 902.3L630.1 902.1 629.7 905.5 633.1 905.7zM689.5 933.3L686.6 936.8 688.6 940.9 691.5 937.4zM647.7 828.3L648.3 832.1 651.4 834.3 650.8 830.6zM701 980.5L698.5 982.5 700.1 985.4 702.6 983.3zM648.3 1086.9L644.8 1086.5 642.8 1089.4 646.3 1089.7zM699.9 786.8L700.9 789.9 704.3 790.1 703.2 786.9zM689 951.8L691.9 955.7 696.6 957.2 693.7 953.3zM709.3 1130.6L705.7 1130.8 703.4 1133.7 707.1 1133.4zM707 793.9L708.9 797.2 712.7 797.5 710.8 794.2zM683.6 916.9L681.2 920.6 683.3 924.4 685.7 920.8zM637.8 1116.1L638.7 1119.5 642.2 1120.2 641.3 1116.7zM710.8 954.1L711.8 958.3 716 958.5 715.1 954.3zM685.1 895.7L682.8 898.6 684.8 901.7 687.1 898.8zM698 737.4L696.6 741.7 699.8 745 701.2 740.6zM676.6 991.8L674.3 995.8 674.6 1000.5 676.9 996.5zM680.4 908.2L675.9 908.4 672.8 911.6 677.2 911.4zM657.1 754L654.1 754.4 652.6 757.1 655.6 756.7zM652.1 1031.2L652.4 1034.2 655.3 1035.1 655.1 1032.1zM633.5 1050.5L630.3 1049.5 629.4 1052.7 632.6 1053.7zM633.9 943.2L630.7 944.9 631.7 948.4 635 946.7zM642.9 977.6L638.9 976.2 634.9 977.9 639 979.3zM647.1 748.2L646.2 752.7 648.1 756.9 649.1 752.4zM689.5 890.2L691.7 893.5 695.6 892.3 693.3 888.9zM635 724.1L631.6 723.1 629.1 725.7 632.5 726.7zM678.3 1095.8L675.1 1096.6 673.9 1099.7 677.1 1098.9zM639 693.4L641.5 695.5 644.5 694.2 642 692.1zM662.6 816.3L658.1 816.4 655.1 819.7 659.6 819.6zM642.1 760.7L643.2 764 646.8 764.1 645.6 760.7zM643.2 794.8L645.5 796.7 648.2 795.4 645.9 793.6zM663.8 807.7L659.7 810.2 660.2 815 664.3 812.5zM672.3 858.6L674.4 861.2 677.7 860.7 675.6 858.1zM630.4 1086.1L631.9 1091.2 637.1 1092.8 635.6 1087.6z"/>
<path fill="#95b087" d="M685.8 974.3L682.9 975.6 683.2 978.8 686.2 977.5zM667.6 1104.7L669.4 1108.5 673.6 1108.4 671.9 1104.5zM671.7 748.7L668.3 749 667.8 752.4 671.2 752zM694 888.3L689.8 890.4 687.8 894.6 692.1 892.5zM707.5 723.1L702.6 721.8 698.8 725.1 703.7 726.4zM678 1063L680.1 1066.7 684.2 1068.3 682 1064.5zM691 1093.3L688 1093.8 688.1 1096.8 691.1 1096.3zM668.2 763.4L671.7 766.3 675.6 764.1 672.1 761.2zM694.5 1102.3L696.8 1105.9 701.1 1105.4 698.8 1101.7zM663.1 862.2L659.2 863.6 659.4 867.8 663.4 866.3zM691.1 1138.1L687.9 1136.8 685.3 1139 688.5 1140.3zM630.2 986.7L627.4 988.7 628.5 992.1 631.4 990zM688.5 1020.8L684.7 1023.3 684.9 1027.8 688.7 1025.4zM653 1130.3L648.6 1131.7 648 1136.2 652.4 1134.9zM658.6 948.4L660.5 951.6 663.7 949.6 661.8 946.4zM643.9 1120.6L647 1123.7 650.9 1121.8 647.9 1118.7zM669 666.6L665.8 670.6 667.3 675.6 670.5 671.5zM718.5 936.7L714.6 937.4 713.2 941.1 717.1 940.5zM631 875.9L635.5 878 640.3 876.9 635.8 874.8zM638 935.3L634 935.3 633.1 939.2 637.1 939.3zM691.2 809.9L690.4 815 694.3 818.3 695.1 813.2zM638.4 1044.6L641.6 1046.9 644.7 1044.6 641.6 1042.3zM655 934.3L651.6 932.6 648.4 934.7 651.8 936.3zM648.8 730.5L653.3 732.5 658.2 731.8 653.7 729.7zM706.5 916.8L703.6 918.9 703.1 922.5 706 920.4zM677.8 877.7L673.5 879.5 672.6 884 676.8 882.2zM643.6 838.8L648.1 841.7 652.8 839.4 648.4 836.6zM693.2 876.2L694.3 879.4 697.6 879.9 696.6 876.7zM709.7 808.5L712.8 812 717.1 810.2 714 806.8zM652.8 1056.2L647.9 1055.6 644.6 1059.3 649.5 1059.9zM660.6 692.2L656 691.7 652.9 695.1 657.5 695.7zM689.4 987L686 989.8 686.8 994 690.1 991.3zM698.3 714.8L699.6 719.2 703.6 721.4 702.2 717zM670.9 696.3L670.9 699.7 674 700.8 674 697.5zM690.5 973.8L688.5 977.4 691.7 979.9 693.7 976.4zM649.8 801.6L645 801.8 642.5 806 647.4 805.7zM645.1 827.7L645.7 832.1 649.9 833.7 649.3 829.3zM677.4 1060.7L673.9 1063.3 674 1067.7 677.4 1065zM654.1 1103.3L650 1104.9 648.9 1109.3 653 1107.6zM698.4 1093.6L694.7 1093.4 693.4 1096.8 697 1097zM665.3 648.2L667.2 651.8 671.1 653.1 669.2 649.5zM679.3 767.1L682.1 768.9 685 767.5 682.3 765.7zM665.2 876.9L662 877.9 660.7 880.9 663.9 879.9zM680.9 1039.7L678.6 1042.4 679.2 1045.8 681.5 1043.1zM654.9 829.6L651.7 831.6 652.6 835.1 655.7 833.2zM657.2 751.8L654 754.4 656.1 757.9 659.3 755.3zM709.5 931.2L706.9 935.3 707 940.2 709.6 936.1zM636.8 725.9L633.2 727 634.1 730.6 637.7 729.5zM672.8 1157.3L675.2 1159.5 678.2 1158.3 675.8 1156zM638.7 1074.8L638.9 1077.7 641.7 1078.8 641.4 1075.9zM705.3 1120.8L701.3 1122.8 699.2 1126.7 703.2 1124.7zM669.9 700.5L670 705 674.3 706.3 674.3 701.8zM626.2 1042.3L627.7 1046.8 631.7 1049.3 630.2 1044.9zM666.4 1145.8L662.3 1147.3 662.5 1151.7 666.5 1150.1zM665.3 865.7L666 868.7 668.9 869.6 668.2 866.6zM675.8 959.6L673.9 963.2 677.2 965.6 679.1 962zM687.2 695.6L691 698.3 695.7 697.9 691.8 695.2zM661.3 999.9L661.4 1004.4 664.5 1007.5 664.5 1003zM643 897.4L642.6 900.6 645.1 902.7 645.6 899.4zM626.5 1030.1L622.8 1032 623 1036.2 626.7 1034.3zM715.5 822.2L716.3 827.2 720.6 829.9 719.8 824.9zM623.8 866.2L625 869.7 628.7 869.2 627.4 865.7zM672.1 686.6L671.6 690.2 674.1 692.8 674.7 689.2zM675.4 1034.8L671.7 1033.4 668.3 1035.2 671.9 1036.6zM707.1 1166.1L703.5 1166.4 703.5 1170 707.1 1169.7zM691.6 1105.7L686.7 1104.4 683.2 1108.1 688.1 1109.4zM668.9 695L672.1 697.3 675.5 695.3 672.3 693zM674.9 781.6L674.7 784.3 676.9 785.8 677.2 783.1zM633.9 922.8L631.1 920.6 628.9 923.3 631.7 925.5zM626 925L622 923.2 618 925 622 926.8zM677.4 1106L674.4 1103.9 671.9 1106.6 674.9 1108.8zM672.8 1130.1L671.6 1134.7 675.2 1137.9 676.3 1133.3zM695.8 878.9L692.4 876.5 689 879 692.4 881.4zM691.6 759.5L691.3 763.3 694.6 765.3 694.9 761.4zM638.3 948.7L639.3 951.7 642.4 951.2 641.5 948.1zM643.7 1031.6L639 1029.8 634.4 1031.7 639.1 1033.5zM698.4 1145.6L698 1148.4 700.5 1149.8 700.9 1147zM641.3 777.4L636.8 777 633.6 780.1 638 780.5zM699.1 873.1L695.7 875.1 695.7 879 699 877zM667.8 940L668.1 945.1 672.3 948 672 942.9zM709.1 834.8L707.5 839 711.1 841.9 712.7 837.6zM651.2 1078.5L655.4 1081.2 659.9 1078.7 655.6 1076z"/>
<path fill="#2a4726" d="M656.7 850.8L653.8 854.5 654.9 859.1 657.8 855.4zM642.1 852.2L637.9 855.1 638.3 860.2 642.4 857.2zM708.6 924.2L705.5 926.4 704.9 930.2 708.1 928zM635.2 842.9L636.1 847.4 639.7 850.3 638.8 845.8zM696.4 721.6L693.9 725 695 729 697.5 725.7zM709.2 867.4L706 870.2 705.7 874.5 708.9 871.7zM708.6 842.8L704.6 844.3 704.6 848.5 708.6 847zM666.8 1023L661.9 1024.3 660.4 1029.2 665.3 1027.8zM698.9 985.5L696.1 985.1 694.2 987.3 697 987.7zM667.3 663.3L664.7 663.7 663.9 666.3 666.5 665.9zM687.6 1133.5L686.3 1137.2 689.6 1139.1 690.8 1135.5zM633.5 744.7L632.8 749.6 635.4 753.8 636 748.9zM667.8 902.3L669.1 905 672.1 904.9 670.8 902.2zM625.9 1000.7L629.3 1004.5 634.4 1003.4 630.9 999.6zM634 958.3L636.3 961.9 640.6 961.1 638.2 957.5zM677.4 1061.9L675.6 1066.8 678.5 1071.1 680.3 1066.2zM708.5 1156.3L706.8 1160.8 708.7 1165.3 710.4 1160.7zM675.9 740L671.3 738.8 668 742.3 672.6 743.4zM671.6 797.3L668.8 799.1 669.6 802.4 672.3 800.5zM684.6 774.1L686.7 776.9 689.7 775.1 687.6 772.3zM695.7 976L691 976.9 688.1 980.7 692.7 979.7zM656.9 1065.2L660.3 1068.2 664.5 1066.4 661.1 1063.4zM664.2 696.6L665.8 700 669.4 699.5 667.9 696.1zM708.7 788.9L709.5 792.9 713.6 793.3 712.7 789.3zM634.6 727.7L635.8 731.5 639.7 731.2 638.5 727.5zM668.6 694.8L668.1 698 670.3 700.3 670.8 697.2zM637.9 761.4L635.3 764.4 636.6 768.1 639.2 765.2zM693.8 1095.4L689 1096.6 687.5 1101.2 692.2 1100zM656.2 1080.2L653.3 1082.1 653.6 1085.6 656.5 1083.7zM699.7 1157.5L696.2 1157.4 693.8 1159.8 697.3 1159.9zM642 930.8L639.9 933.4 641.1 936.6 643.2 933.9zM633.3 729.8L630.7 734.3 633.4 738.7 635.9 734.2zM681.7 774L685.2 776.7 689.7 776.8 686.2 774zM693.6 1082.8L688.9 1081.6 684.6 1084.1 689.4 1085.3zM666.2 992.4L666 996 669.1 997.7 669.4 994.1zM645.3 1103.1L642.3 1106.8 642.4 1111.5 645.5 1107.8zM708.7 963.3L710.4 967.9 715.3 968.2 713.6 963.7zM669.2 667.3L670.8 670.8 674.6 671.7 673 668.1zM669.8 683.4L666.5 687.1 667.5 692 670.7 688.3zM676.6 1104L678 1106.9 681.1 1106.5 679.8 1103.7zM706.2 752.5L704.6 755.6 706 758.8 707.7 755.7zM693.3 786.5L691.4 790.4 694.4 793.6 696.3 789.6zM632 1005.5L629 1007.5 630.5 1010.8 633.5 1008.8zM632.6 951.7L629.5 953.7 630.5 957.3 633.7 955.3zM667.8 790.6L664.3 792.7 663.1 796.6 666.7 794.5zM645.6 1015.6L644.6 1019.5 647.5 1022.3 648.5 1018.4zM662.9 917.5L663.1 920.9 666.5 921.3 666.4 917.9zM651.4 787.1L649.1 790.4 649.6 794.4 651.9 791.1zM649.3 1098.4L646.5 1097 644.3 1099.2 647 1100.6zM659.1 1098.4L661.7 1102.6 666.6 1102.9 664 1098.7zM654.7 993.9L654.7 997.7 658.5 997.7 658.5 993.9zM701.3 759.2L698.6 757.2 695.9 759.3 698.6 761.4zM657.6 781.1L654.5 783.5 654.5 787.5 657.7 785.1zM670.3 649.1L671.4 652.8 675.2 652.6 674.2 648.8zM686.2 971.2L683.4 969.2 681.5 972.1 684.3 974zM657.4 1064.4L655.1 1068 656.5 1071.9 658.7 1068.4zM685 1078.9L689.5 1081.2 694.3 1079.5 689.8 1077.2zM699.6 973.7L695.9 974.9 696.2 978.8 699.8 977.5zM671.6 1136.5L674.7 1138.9 677.7 1136.6 674.7 1134.2zM705.2 829.6L707.4 833.9 711.8 835.7 709.6 831.4zM636.3 974.7L634.2 979.1 635 983.8 637.1 979.5zM671 967.5L674.3 970.8 679.1 970.6 675.7 967.2zM655.2 1065.1L651.7 1067.6 652.9 1071.7 656.4 1069.2zM655.2 883.5L654.3 886.9 657.7 887.8 658.5 884.4zM707.9 820L704.3 819.8 703.2 823.1 706.7 823.3zM672.8 1137.3L671.3 1140.5 674.3 1142.4 675.8 1139.2zM682.6 833.2L678.6 835.3 676.6 839.3 680.7 837.3zM693.1 1003L692.4 1008 696.2 1011.5 696.9 1006.4zM698.7 1120.4L699.1 1125.2 703.5 1127.2 703.1 1122.4zM671.8 674.7L668.9 677.1 668.9 680.8 671.8 678.5zM642.9 864.8L640.7 867.6 643.3 870.1 645.5 867.3zM657.4 964.3L655 968.1 655.9 972.4 658.3 968.6zM639.4 782.2L639.5 786.2 643.4 786.6 643.3 782.6zM685.3 1118.3L682.2 1121.9 681.6 1126.7 684.7 1123.1zM644.8 764L647.1 767.2 651 767.1 648.7 763.9zM624.3 1008.5L622.5 1011.7 625.4 1014 627.2 1010.8zM648.2 816L648 819.2 651.2 819.7 651.4 816.4zM674 1131.9L671.3 1133.4 670.8 1136.5 673.5 1135zM663.5 1130.1L666.7 1133.4 670.9 1131.7 667.7 1128.4zM634.3 852.2L630 850.4 625.7 852.2 630 854.1zM669.2 947.7L665.2 946.5 662.5 949.8 666.5 951zM679.2 753.9L675.6 752.8 672.3 754.7 675.9 755.9zM710.8 1131.6L706.1 1134 704.8 1139 709.5 1136.7zM637.1 736.9L633.6 736.7 633.5 740.3 637 740.5zM620.3 940.2L619.2 943.4 622.6 944.2 623.7 940.9zM632.6 1025.3L633.1 1030 637.7 1031.2 637.2 1026.5zM701.3 986.7L699.3 991.1 700.2 995.8 702.2 991.4zM677.7 1039.4L674.7 1038.9 673.6 1041.7 676.6 1042.2zM706.2 963.3L703.3 963.5 702 966.2 704.9 965.9zM644.8 873L639.8 874.4 638.5 879.5 643.6 878.1zM677.5 904.7L678.4 908.6 682.3 909.3 681.5 905.3zM650.9 793.9L654.1 796.3 657.9 794.9 654.7 792.4zM675.6 901.6L679.4 903.7 683.2 901.8 679.5 899.6zM633.3 1060L636.1 1063.7 640.4 1062.4 637.7 1058.8zM690.4 785.6L686.9 789.4 688.4 794.3 691.9 790.6zM679.2 1035L676.2 1039 678.5 1043.5 681.5 1039.5zM619.7 868.6L616 868.8 615 872.4 618.8 872.2zM704.5 910.1L702.6 914.1 704.7 918 706.5 914zM648.6 940.9L644.5 940.9 642.5 944.6 646.6 944.5zM709 890.1L706.4 893.4 706.5 897.6 709 894.3zM694.6 764.7L690.8 765.8 690.1 769.8 693.9 768.7zM639.4 1032.8L636.1 1034.5 636.5 1038.1 639.8 1036.4zM635.9 887.8L633.1 891.9 635.4 896.3 638.2 892.1zM707.1 1166.8L709.3 1169.2 712.5 1168.1 710.2 1165.7zM656.4 840.3L653.8 841.3 654 844.1 656.6 843.1zM684.4 845.9L681.5 846.2 680.8 849.1 683.7 848.8zM640.5 970.2L636.2 968.1 632 970.4 636.3 972.6zM662.3 735.5L659.3 739.3 661.7 743.6 664.7 739.7zM673.6 769.2L671.7 773.7 674.4 777.8 676.3 773.3zM636.9 1020.3L639.5 1024.8 644.6 1025.8 642 1021.3zM661.7 1120.2L657.9 1118.8 655.7 1122.1 659.5 1123.5zM636.1 895.7L635 899.2 638 901.2 639.2 897.7zM687.7 1096.1L685.2 1099.4 685.2 1103.6 687.7 1100.3zM663.4 721L659.6 719.9 656.6 722.4 660.4 723.4zM655.1 895.8L651.7 898.4 653.1 902.5 656.5 899.9zM618.5 861.2L620 863.9 623 863.7 621.6 861zM667.5 799.2L664 802.8 664.8 807.7 668.3 804.1zM668.3 733.6L666.1 735.9 667.7 738.7 669.9 736.4zM634 771L629.9 772 629.8 776.2 633.9 775.3zM691.8 878.7L694.7 880.2 697.6 879 694.8 877.5zM680.3 1161.4L679.6 1166.6 682.8 1170.6 683.4 1165.5zM636.8 910.6L639.6 914.7 644.2 916.6 641.4 912.5zM674 749.8L674.6 754.5 678.2 757.6 677.6 752.9zM676.8 838.3L674.8 842 675.8 846.1 677.8 842.4zM688.1 958.9L684.7 958.4 682.9 961.3 686.2 961.8zM647.5 1074.2L644.5 1077.1 644.9 1081.2 647.9 1078.3zM666.4 863.9L666.9 867.1 670.1 866.8 669.6 863.6zM661 976.4L656.4 975.5 653.1 978.9 657.7 979.7zM715.4 1133.7L710.5 1132.3 706.7 1135.6 711.6 1137.1zM632.1 1126.6L635.8 1129.6 640.5 1128.5 636.8 1125.5zM707.7 998.3L704.8 1002.5 706.9 1007.1 709.9 1002.9zM622.7 807L622 810.4 624.9 812.1 625.6 808.8zM617.2 1025.8L619 1029.1 622.5 1027.7 620.6 1024.4zM620.4 974.1L618.2 978.1 620.7 981.9 623 977.9zM633 685L628.3 687.1 626.8 692 631.5 690zM625.4 978.1L622.3 977.4 621.1 980.4 624.2 981zM700.1 1049.3L697.2 1050.6 697.3 1053.8 700.2 1052.5zM621 958.4L618.7 962.3 620.3 966.5 622.6 962.6zM710.8 1119.9L709.7 1124.7 711.5 1129.2 712.6 1124.5zM617.6 826L620.6 828.7 624.7 828.4 621.6 825.8zM724.2 781.1L719.5 781.5 716.4 785.1 721.2 784.7zM721.2 835.4L717 837.2 716.9 841.7 721 839.9zM632.3 1104.8L630.2 1107.1 631.9 1109.7 634 1107.4zM715.6 768.1L711.4 765.6 707.3 768.2 711.5 770.7zM630 750.9L628.2 755.2 631.4 758.6 633.1 754.3zM715.7 896.9L714.2 899.7 716.1 902.3 717.6 899.5zM624.8 1046L620.6 1044.7 617.1 1047.5 621.3 1048.8zM626 720.4L623.6 724.1 626.3 727.5 628.7 723.8zM621.6 1039.8L620.3 1044.5 622.1 1049 623.4 1044.3zM718.2 773L714.4 771.9 711.1 774.1 714.9 775.2zM624.1 1013.2L621.2 1016.4 622.6 1020.4 625.5 1017.3zM654.2 1143.8L655.4 1147.1 658.8 1147.6 657.7 1144.3zM704.9 722L707.2 726 711.4 727.7 709.2 723.7zM714.8 941.4L718.3 943.5 721.9 941.7 718.5 939.7zM627.1 671.4L626 674 628 676 629.1 673.4zM622.3 1018.5L619.2 1020.2 620 1023.6 623 1021.9zM712.7 909.8L716.4 911.3 720.2 910.1 716.5 908.5zM631 681L625.9 681.7 622.9 685.9 628 685.2zM703.5 999.3L702.5 1003.1 705 1006.2 706 1002.4zM712.2 1127L708.9 1127.1 709.3 1130.4 712.7 1130.3zM699.1 672L700.3 675.7 703.8 677.1 702.6 673.5zM641.6 667L641.3 670.4 644.8 670.5 645.1 667zM619.9 874.2L615.1 872 610.8 875 615.6 877.1zM643.3 1131L642.4 1135.7 645.7 1139.2 646.7 1134.5zM713.1 974.8L710.8 979.3 713 983.8 715.3 979.4zM673.1 639.6L668.9 641.3 667.4 645.5 671.5 643.8zM715.8 1126L711.8 1127 709.1 1130.3 713.2 1129.3zM617.4 901.9L616.4 904.4 618.2 906.4 619.2 903.9zM627.4 1064.5L623.4 1065.2 623.2 1069.3 627.1 1068.5zM719 822.8L718.1 826.2 720.4 828.9 721.3 825.5zM650.7 665L646.7 668.5 647.2 673.9 651.3 670.3zM627.6 782.2L623.5 782.4 620.4 785.1 624.5 785zM615.1 947.1L619.7 948.8 624.4 947.1 619.8 945.4zM626.1 793.3L622.7 794.7 622.8 798.4 626.2 796.9zM694.2 1169L695.3 1173 699.3 1174.3 698.2 1170.2zM628.5 683.5L627 687.6 628.7 691.6 630.2 687.5zM713.5 771.6L711.4 774.9 713.3 778.3 715.4 775zM617.9 867.5L613.2 869.1 610.8 873.3 615.4 871.8zM717.4 842.4L714 845.6 715.6 850 719 846.8zM714.8 1147.4L712.1 1148.5 712.3 1151.5 715 1150.3zM704.2 1079.7L699.8 1078.1 696.4 1081.4 700.8 1082.9zM635.4 1105.6L631.1 1104.4 627.1 1106.2 631.4 1107.5zM713.7 732.7L709.5 734.5 709.4 739.1 713.6 737.3zM701.7 676.2L698.7 679.5 700.5 683.7 703.5 680.4zM730.1 809.9L725.4 808.4 720.9 810.5 725.6 812zM713.7 739.5L709.6 740.4 709.4 744.5 713.5 743.7zM695.2 693.7L694.8 698.1 697.9 701.3 698.3 696.9zM715.9 886.3L712.6 885.7 710.2 888.2 713.6 888.8zM698.2 1056.1L700.6 1060.2 705.1 1061.7 702.7 1057.6zM637.6 1121.7L634.1 1121.8 632.2 1124.7 635.7 1124.6zM617.2 843.6L618 846.9 621.3 847.3 620.6 844.1zM621.2 788.1L622.8 793.2 628 794.5 626.4 789.4zM625.2 1067.5L622.9 1070.9 624.1 1074.8 626.5 1071.4zM702.5 705.5L702.6 709.6 706.6 710.2 706.5 706.1zM614 871.4L611.8 875.6 614.6 879.5 616.7 875.2zM620.6 986.5L619.5 989.7 622.8 990.6 623.9 987.4zM694.4 1038.1L696.4 1043 701.7 1044 699.7 1039.1zM627.1 1083.1L624 1086.6 624.9 1091.2 628 1087.7zM701.6 1066.9L699.4 1071 700.5 1075.5 702.7 1071.4zM716.5 971L712.2 971.5 710.6 975.5 714.9 975zM720.2 921.4L715.6 920.3 711.2 922.3 715.9 923.4zM617.1 922.9L615.8 926.4 618.5 929.2 619.7 925.6zM621.6 740.6L623.5 743.6 627.1 743.5 625.2 740.4zM694.8 1054L698.3 1057.1 702.9 1056.9 699.4 1053.9zM710.8 986.9L708 984.7 705.7 987.4 708.5 989.6zM621 844.5L617.1 843.4 613.9 845.9 617.8 847.1zM632.8 691.3L629.4 695.4 631.4 700.2 634.7 696.2zM651.3 1138.2L646.7 1136.7 642.4 1138.7 646.9 1140.1zM706.4 1119L707.8 1122.6 711.2 1124.4 709.9 1120.8zM703.4 1062.8L699 1063.6 697.8 1068 702.3 1067.2zM616.8 998L619.9 1001.3 624.2 1000 621.1 996.7zM629.5 670.9L631.6 674.2 635.5 673.6 633.4 670.3zM710.4 992.1L706.6 991.2 703.4 993.3 707.1 994.2zM714.7 893L714.7 897.3 718.6 899 718.6 894.8zM701.8 1053.9L698.7 1053.9 698.4 1056.9 701.5 1056.9zM706.7 1122L709 1124.8 712.1 1122.8 709.7 1119.9zM676 1159.2L672.7 1158 670.8 1160.9 674.1 1162.1zM631.8 744.5L626.8 743 622.7 746.3 627.7 747.8zM632 1104.8L629.6 1108 631.9 1111.3 634.3 1108.1zM718.5 909.3L714.5 909 712 912 715.9 912.3zM706.5 1027.8L703.1 1026.9 700.6 1029.4 704 1030.3zM617 889.2L613.5 892.5 614.1 897.2 617.6 893.9zM670.6 1156.7L666.4 1156.5 664.4 1160.3 668.6 1160.5zM714.8 764.2L711.8 767.7 712.4 772.3 715.5 768.8zM639.1 1125.1L637.6 1129.6 639.4 1133.9 640.9 1129.5zM610.1 888.2L610.5 892.7 613.9 895.7 613.5 891.2zM721.8 852.1L717 852.3 714.5 856.3 719.2 856.2zM612.7 857.3L616.6 859.6 621.2 859 617.2 856.7zM622.4 997.2L618.6 998.6 618.7 1002.6 622.4 1001.2zM635.2 1108.6L631.6 1108.9 630.3 1112.3 633.9 1112zM714.8 966.4L714.4 969.3 717.1 970.5 717.4 967.6zM716.2 1162.6L712 1163.8 710.1 1167.7 714.2 1166.5zM624.4 777.3L622.9 781.6 624.8 785.7 626.4 781.4zM622.1 942.1L618.9 942.6 619 945.9 622.2 945.4zM689.9 1166.9L686.5 1170.3 687.9 1175 691.3 1171.5zM626.3 717.7L624 719.7 625.4 722.4 627.8 720.4zM626.2 729.5L624.6 734.2 628 737.8 629.6 733.1zM708 1096.7L703.4 1095.2 699.4 1097.8 704 1099.3zM716 965.6L713.4 969.6 715.8 973.7 718.4 969.7zM663.2 647.7L660.4 648.3 660 651.1 662.8 650.5zM625.7 764.2L624.7 767.4 627.7 768.9 628.8 765.7zM629.3 755L627.7 757.5 628.9 760.2 630.6 757.7zM710.9 979.2L708.3 983.1 708.2 987.7 710.8 983.9zM619.2 924.1L619.3 927.3 621.9 929.1 621.8 925.9zM711.3 1141.7L711 1144.8 713.5 1146.8 713.8 1143.6zM704 1091.2L699.4 1092.2 698.6 1096.9 703.2 1095.9zM631.9 761L627.4 763.4 626.5 768.4 630.9 766zM714.6 932.2L714.2 937 717.3 940.8 717.7 936zM613.9 925.3L616.2 928.8 620.4 928.6 618.1 925.1zM714.4 871.2L711.9 873.2 712.7 876.3 715.2 874.3z"/>
</g>
<pattern id="cbb3" x="520.3" y="2364.7" width="11.0" height="11.0" patternUnits="userSpaceOnUse"><rect width="11.0" height="11.0" fill="#fff"/><rect width="5.5" height="5.5" fill="#efefef"/><rect x="5.5" y="5.5" width="5.5" height="5.5" fill="#efefef"/></pattern>
<rect x="520.3" y="2364.7" width="45.5" height="161.1" fill="url(#cbb3)"/>
<filter id="txb3" x="0" y="0" width="1" height="1" color-interpolation-filters="sRGB"><feTurbulence type="fractalNoise" baseFrequency="0.4 0.28" numOctaves="2" seed="33"/><feColorMatrix type="matrix" values="0.95 0 0 0 -0.11  1.0 0 0 0 0  0.85 0 0 0 -0.12  0 0 0 0 1"/><feComposite in2="SourceAlpha" operator="in"/></filter>
<path d="M544.5 2367.0 L542.3 2368.5 L538.6 2373.6 L536.5 2373.9 L532.5 2378.3 L530.8 2383.6 L529.8 2385.8 L530.1 2390.6 L528.0 2393.8 L528.9 2397.2 L529.6 2404.1 L529.1 2408.8 L529.8 2411.9 L527.7 2414.4 L524.3 2421.6 L524.9 2423.4 L527.0 2429.9 L524.0 2432.9 L524.3 2437.3 L523.2 2442.8 L523.9 2446.5 L523.1 2449.7 L522.2 2456.6 L524.5 2459.7 L521.8 2462.4 L522.5 2467.6 L523.0 2472.0 L524.2 2476.2 L526.6 2481.7 L526.6 2485.9 L527.1 2491.8 L526.5 2493.6 L527.3 2499.1 L528.6 2502.5 L531.0 2506.3 L531.8 2511.9 L533.0 2517.6 L537.9 2517.3 L540.7 2521.3 L542.5 2521.7 L547.4 2524.9 L552.2 2524.7 L552.3 2524.1 L558.1 2523.1 L556.4 2515.3 L555.9 2513.7 L555.4 2506.9 L554.7 2504.7 L555.6 2498.8 L554.9 2496.1 L555.5 2492.0 L553.0 2487.5 L555.8 2483.4 L556.3 2478.0 L556.5 2474.5 L558.1 2469.7 L556.8 2463.1 L557.1 2460.5 L558.3 2454.7 L557.1 2453.1 L556.8 2448.6 L559.5 2443.0 L560.5 2438.9 L557.1 2435.5 L558.8 2431.0 L560.4 2423.8 L558.2 2419.3 L561.5 2418.0 L560.1 2411.5 L559.2 2409.3 L559.0 2404.9 L558.4 2399.8 L557.0 2393.1 L553.2 2392.0 L554.5 2386.0 L552.2 2381.3 L552.3 2377.3 L552.1 2371.5 L547.3 2369.5 L544.0 2367.1 L543.9 2365.2 Z" fill="#577f4c" filter="url(#txb3)"/>
<g filter="url(#bl)">
<path fill="#466c3e" d="M555.4 2451L554.1 2452.1 554.1 2453.8 555.4 2452.7zM556.3 2394.2L554.4 2394.1 553.7 2395.9 555.6 2396zM549.8 2371.4L550.3 2374 552.5 2375.4 552 2372.8zM526.6 2494.5L526.8 2496.4 528.5 2497.1 528.3 2495.2zM549.1 2392.6L546.7 2393.9 545.8 2396.4 548.2 2395.1zM544.7 2485.9L542.9 2486.8 542.8 2488.7 544.5 2487.9zM546.2 2377.6L545.8 2379.4 547.2 2380.5 547.6 2378.7zM543.2 2375L540.7 2375.3 539.5 2377.6 542.1 2377.3zM539.6 2488.4L539.2 2490.7 540.7 2492.6 541.1 2490.2zM551.9 2510.6L549.6 2509.9 547.6 2511.2 549.9 2511.9zM553.2 2515L553 2517.4 555.1 2518.6 555.3 2516.2zM544.8 2498.4L545 2500.2 546.8 2500.8 546.5 2499zM526.1 2438L527.6 2440.2 530.3 2440.1 528.8 2437.9zM535.8 2389.1L536.8 2391.5 539.1 2392.7 538.1 2390.3zM534.1 2468.1L532.1 2469.3 532.1 2471.6 534.1 2470.4zM559.4 2456.6L556.9 2456.1 555.4 2458.1 557.8 2458.6zM540 2419.5L541.8 2420.8 544 2420.3 542.1 2419zM528.4 2398.5L528.4 2400.5 530.2 2401.4 530.2 2399.4zM552.2 2485L550.2 2486.2 549.4 2488.2 551.3 2487.1zM548.9 2469.4L549.2 2471.8 551.5 2472.1 551.2 2469.7zM554 2409.2L553.3 2411.3 555.2 2412.5 555.9 2410.3zM551.4 2405.3L550.5 2407.4 552.2 2408.9 553.2 2406.8zM543.7 2447.9L540.9 2448.3 539.9 2450.9 542.7 2450.5zM538.7 2482.7L538.4 2484.8 540.4 2485.3 540.8 2483.2zM539.3 2425.2L539.6 2427.3 541.5 2428.3 541.2 2426.2zM523.3 2462.7L522.8 2464.6 524.4 2465.6 524.9 2463.8zM534.3 2381.5L536 2382.7 538 2382.3 536.3 2381.1zM525.7 2484L523.8 2482.8 521.9 2484.1 523.8 2485.2zM526.9 2393L527.6 2394.8 529.4 2394 528.6 2392.3zM528.4 2508.5L529.1 2510.1 530.8 2509.3 530 2507.7zM554.8 2460.1L556.6 2461 558.6 2460.6 556.8 2459.6zM518.6 2466.6L520.6 2467.9 522.9 2467.3 520.9 2466zM559.6 2444.3L560.2 2445.7 561.7 2445.4 561.1 2444zM553.1 2494.6L555.3 2495.6 557.6 2494.7 555.4 2493.8zM555.2 2510.7L555.2 2513.3 557.5 2514.4 557.6 2511.8zM554.5 2507.6L555 2510.2 557.6 2511 557 2508.4zM524 2394L526.1 2395.9 528.9 2395.1 526.7 2393.2zM524.7 2480L525.2 2482.1 527.3 2482.4 526.8 2480.3zM551.4 2377.7L551.2 2379.4 552.6 2380.4 552.8 2378.7zM523.2 2471L522.2 2472.5 523.2 2473.9 524.1 2472.5zM525.4 2491.4L525.5 2494 527.8 2495.2 527.7 2492.6zM559.1 2446.6L557.3 2445.8 556.2 2447.6 558.1 2448.3zM526.2 2413.1L527.6 2415.2 530.1 2415.1 528.7 2413.1zM557.5 2455.5L558.4 2457.5 560.6 2457.4 559.7 2455.5zM532.7 2374.5L531.4 2376 531.9 2377.9 533.1 2376.4zM524.3 2420.1L522.8 2421.7 524 2423.5 525.4 2421.9zM540.8 2520L539.1 2520.6 539.1 2522.5 540.8 2521.9zM523.4 2455.5L521.9 2456.6 522 2458.5 523.5 2457.4zM539.8 2366.2L541.1 2367.8 543.3 2367.7 542 2366.1zM518.9 2466.5L520 2468.9 522.3 2470 521.2 2467.6zM560.9 2434.6L558.5 2434.7 556.9 2436.5 559.3 2436.4zM552 2522.4L551.8 2525 553.2 2527.2 553.4 2524.6zM560.8 2451.8L558.3 2452.1 557.4 2454.5 560 2454.2zM555.9 2370.8L553.8 2370.2 553 2372.2 555.1 2372.8zM538.2 2369L539.4 2370.9 541.6 2370.5 540.4 2368.5zM555.9 2506.7L556 2508.8 558 2509.1 557.9 2507zM526.2 2458.1L524.1 2459.6 523.6 2462.1 525.7 2460.6zM523.6 2435.9L522.1 2438.1 522.6 2440.6 524.1 2438.5zM560.5 2454L558.3 2455.3 557.8 2457.7 559.9 2456.4zM559.7 2516.1L557.4 2517.4 556.4 2519.9 558.7 2518.6zM557 2429L558.7 2430.9 561.1 2430.3 559.5 2428.4zM560.9 2430.8L559.6 2432.3 560.4 2434.2 561.6 2432.7zM558.6 2452.3L557.3 2454.1 558.3 2456.1 559.6 2454.3zM554.8 2516.4L555.7 2518.2 557.7 2519 556.8 2517.1zM564 2411.1L562.3 2409.9 560.8 2411.4 562.5 2412.7zM541.1 2365.8L542.5 2367.4 544.7 2367.2 543.2 2365.6zM553.8 2486.8L553.8 2489 555.2 2490.7 555.2 2488.5zM561 2416.1L560.5 2417.9 562.3 2418.5 562.8 2416.7zM561.2 2398.2L560 2400.2 561.6 2402 562.8 2400zM556.1 2472.1L557.4 2473.5 559.2 2473.3 558 2472zM554.5 2481.6L555.2 2484.2 557.8 2485.1 557.1 2482.4zM551.4 2523.2L552.1 2525.6 554.4 2526.4 553.7 2524.1zM527.3 2382.9L527.9 2384.6 529.6 2385.1 529 2383.4zM523.4 2438.3L523.3 2440 524.9 2440.5 525 2438.9zM527.8 2383L528.9 2385 531 2384.4 529.9 2382.5zM526.6 2385L528.1 2386 529.7 2385 528.1 2384zM519 2467.1L520.9 2469.2 523.7 2468.9 521.8 2466.8z"/>
<path fill="#365b31" d="M536.7 2403.9L535.1 2403.6 534.6 2405.1 536.1 2405.4zM549 2519.1L547.5 2519.1 547 2520.5 548.5 2520.5zM548.7 2393.4L546.6 2392.8 545.4 2394.7 547.5 2395.3zM536.1 2439.1L535.8 2441.4 537.1 2443.4 537.4 2441zM531.6 2404L529.6 2403.5 528.7 2405.4 530.7 2405.9zM541.2 2420.6L541.6 2422 543.1 2422.3 542.7 2420.9zM540.9 2417.6L538.6 2417 536.5 2418.1 538.8 2418.6zM551.1 2442.6L549.2 2444.3 549.1 2446.9 551 2445.2zM544.9 2498.7L543.4 2498.7 542.9 2500.2 544.5 2500.1zM525.7 2469.6L527.7 2471.4 530.2 2470.5 528.2 2468.7zM554.9 2435.1L553.5 2434.2 552.4 2435.4 553.8 2436.4zM555.9 2485.7L553.6 2485 551.4 2485.9 553.7 2486.6zM551.4 2389.7L550.2 2391.7 551.9 2393.3 553.1 2391.3zM537.3 2429.5L536 2430.7 536.4 2432.4 537.8 2431.2zM538.3 2511L539.5 2513.2 542.1 2513.5 540.8 2511.3zM530.1 2465.9L528 2465.8 527.1 2467.7 529.2 2467.8zM553.4 2476.8L553.7 2479 555.7 2480 555.5 2477.8zM553.5 2496.5L551.4 2497.9 550.5 2500.2 552.6 2498.8zM547.1 2459L544.5 2458.7 542.7 2460.4 545.2 2460.8zM557.7 2470.6L556 2470.3 555.1 2471.8 556.8 2472zM535.9 2418.3L534.3 2418.9 533.9 2420.6 535.5 2419.9zM534.3 2411L533.6 2413 534.6 2414.9 535.3 2412.9zM547.1 2420.8L544.9 2421.6 543.9 2423.7 546 2422.8zM540.9 2463.6L540.5 2466.4 542.5 2468.4 542.9 2465.6zM544.6 2431L545.3 2432.9 547.2 2432.7 546.6 2430.9zM540.1 2495L537.3 2495.1 535.6 2497.4 538.4 2497.2zM537.3 2428.1L536.7 2430.7 538.5 2432.8 539.1 2430.2zM530.7 2433.3L529.4 2435.6 530.8 2437.8 532.1 2435.5zM546.1 2514L544.4 2514.9 544.2 2516.8 545.9 2515.9zM530.6 2504.8L528.2 2504.8 527.4 2507 529.8 2507.1zM531.8 2386.2L529.8 2385.4 528.8 2387.3 530.8 2388.1zM530.7 2383.5L528.9 2382.5 528 2384.3 529.8 2385.3zM524.8 2457.8L521.9 2458.1 520.6 2460.5 523.4 2460.2zM537.3 2373.7L535.5 2372.7 533.7 2373.8 535.6 2374.7zM522.2 2446.4L524.3 2448.3 527 2447.6 524.9 2445.7zM557.3 2474.5L555.4 2474 554.4 2475.6 556.3 2476.1zM524.5 2491.9L523.4 2493.8 524.1 2495.9 525.1 2494zM550.5 2367.6L548.6 2368 548 2369.7 549.8 2369.4zM523.7 2412.5L525 2415.1 527.8 2415.5 526.6 2412.9zM536.6 2373L534.6 2373 533.6 2374.7 535.6 2374.7zM561.3 2436.1L560.7 2438.9 562.8 2440.8 563.4 2438zM557.3 2392.6L558.8 2393.9 560.6 2393 559.1 2391.6zM558.9 2460.1L556.8 2461.6 556.9 2464.2 559 2462.7zM528 2500.9L526.2 2499.8 524.5 2500.9 526.3 2502.1zM531.3 2382.6L528.9 2383 527.2 2384.8 529.6 2384.4zM559.4 2410.4L559.4 2412.2 561.1 2412.5 561.2 2410.7zM545.6 2365.1L543.7 2364.5 543.2 2366.4 545 2367zM557.5 2476.7L557.7 2478.4 559.5 2478.5 559.3 2476.7zM529.2 2515.5L529.7 2517.1 531.3 2517.1 530.9 2515.5zM530.5 2380.3L531.4 2382 532.9 2380.9 532 2379.2zM557.9 2446.8L560 2447.8 562.2 2446.9 560.1 2445.9zM555.8 2474.2L557.1 2476.6 559.9 2477.2 558.5 2474.7zM528.7 2384.1L526.9 2385.9 527.3 2388.4 529.1 2386.6zM527.9 2393.6L526.1 2392.7 524.3 2393.7 526.1 2394.6zM555.5 2491.6L554 2492.9 554.9 2494.6 556.4 2493.3zM558.8 2514.1L557.3 2514 556.7 2515.4 558.2 2515.5zM559.8 2417.9L558.3 2418.8 559.1 2420.4 560.6 2419.5zM563.8 2409.5L561.6 2410.3 561.7 2412.6 563.9 2411.8zM529.7 2397.1L528 2395.8 526.5 2397.4 528.2 2398.6zM559.2 2452L558.2 2454.3 560.1 2455.9 561.1 2453.7zM531.9 2376L533 2378 535.3 2378.7 534.1 2376.7zM553 2485.4L555 2487.1 557.6 2487.4 555.6 2485.7zM541.6 2519.6L539.6 2521.2 539.5 2523.7 541.5 2522.2zM528.8 2383.2L528 2384.7 529.4 2385.8 530.3 2384.2zM555.3 2508.6L555.5 2510.5 557.4 2510.2 557.2 2508.3zM562 2456.1L559.5 2457 559.3 2459.6 561.8 2458.7zM527.1 2404.6L525.7 2406.3 527.2 2407.9 528.6 2406.2z"/>
<path fill="#769868" d="M535.6 2408.5L536 2410 537.5 2410.2 537.1 2408.7zM553.7 2445.4L553.8 2447.9 555.4 2449.9 555.3 2447.4zM538.4 2459.2L536.5 2458.2 534.7 2459.3 536.6 2460.4zM542.1 2482.2L543.3 2484.6 545.6 2485.9 544.4 2483.6zM546.1 2504.5L546 2507 547.8 2508.8 547.9 2506.3zM549.7 2428.6L547.4 2429.7 546.8 2432.3 549.1 2431.2zM547.6 2517.7L547.1 2519.4 548.5 2520.4 549 2518.8zM552.3 2458.5L553.8 2460.2 555.9 2459.4 554.4 2457.7zM539.7 2427.9L541.3 2429.4 543.3 2428.7 541.8 2427.2zM538.7 2434.9L539.5 2437.3 541.7 2438.7 540.8 2436.3zM550.6 2515L548.8 2514.3 548.3 2516.2 550.1 2516.9zM554.2 2514.6L551.5 2513.9 549.3 2515.7 552 2516.3zM551.4 2411.4L551.5 2413.2 553.1 2414 553.1 2412.2zM550.9 2439L549.6 2438.1 548.3 2439.1 549.6 2440.1zM542.4 2383.4L542.7 2384.8 544.1 2385.2 543.7 2383.8zM529.5 2493.1L527.2 2493.3 526.2 2495.3 528.4 2495.1zM542.7 2516.9L544.6 2518.1 546.4 2517 544.6 2515.8zM531.2 2386.2L530.4 2388.4 531.7 2390.2 532.5 2388zM525.2 2419.6L525.2 2421.4 526.9 2422.1 526.9 2420.2zM525.5 2447.1L527.3 2449.1 529.9 2448.9 528.2 2446.9zM549 2460.4L549.7 2462.6 551.7 2463.6 551 2461.4zM530.4 2396.8L528.4 2396.4 527.8 2398.4 529.8 2398.8zM540.1 2492L538.6 2493.3 538.8 2495.2 540.3 2494zM551.5 2466.3L549.5 2467.4 549.8 2469.7 551.8 2468.6zM535.7 2485.1L533.7 2486.5 532.9 2488.9 535 2487.5zM526.8 2423.6L528.3 2425.5 530.7 2424.7 529.1 2422.8zM561.6 2469.2L559.5 2469.6 559.2 2471.7 561.2 2471.3zM550.8 2522.2L550.9 2524.7 552.6 2526.7 552.5 2524.1zM521.4 2425.1L521.9 2427.4 524.3 2427.9 523.8 2425.6zM558.7 2453.9L559.3 2455.9 561.2 2455.3 560.7 2453.4zM522.6 2429.1L522.6 2431.5 524.5 2433 524.5 2430.6zM564.3 2412.7L562.2 2412.7 560.7 2414.3 562.9 2414.4zM520.6 2470.1L522.3 2472 524.9 2472.1 523.1 2470.2zM560.8 2419.8L559.8 2421.4 561.1 2422.8 562.1 2421.2zM559.1 2462.7L557.7 2462 556.5 2462.9 557.8 2463.7zM521.3 2473.1L520.5 2474.7 521.9 2475.7 522.6 2474.2zM522.2 2422.4L523.3 2423.9 524.9 2423 523.8 2421.5zM530.2 2401.7L528.7 2403 529 2405 530.5 2403.7zM528.4 2391.7L527.1 2393 527.5 2394.8 528.8 2393.5zM560 2462.2L558.1 2461.5 556.4 2462.6 558.3 2463.4zM560.5 2452.3L558.5 2453.9 559.1 2456.4 561.2 2454.8zM561.7 2448.4L559.8 2447.1 558 2448.5 559.8 2449.8zM536.3 2516.4L534.7 2516.8 534.7 2518.4 536.2 2518zM524.1 2479.9L525.1 2481.7 527.1 2481.5 526.1 2479.7zM525.7 2498.6L527.5 2500.8 530.2 2500.4 528.5 2498.2zM531.6 2384.7L529.2 2384.8 528.1 2386.9 530.5 2386.7zM521.3 2444.2L521 2447 522.8 2449.1 523 2446.3zM544.9 2366.4L542.1 2366.7 540.7 2369.2 543.5 2368.9zM527.3 2408.8L528.8 2411.1 531.4 2411.5 530 2409.3zM556.6 2434.2L556.2 2436 557.6 2437.1 558 2435.3zM558.3 2392.8L556.3 2393.9 556.3 2396.2 558.2 2395.1zM557.3 2460.2L556.7 2462.2 558.4 2463.3 559 2461.4zM527.7 2482L526 2483.9 525.7 2486.3 527.4 2484.4zM555.9 2404.4L558.2 2405.5 560.7 2404.9 558.4 2403.8zM554.5 2523.7L552.7 2523.8 552.7 2525.7 554.5 2525.5zM560.4 2434.6L558.6 2435.6 558.6 2437.6 560.4 2436.6zM520.5 2432.5L521.6 2434.3 523.8 2434.1 522.6 2432.3zM559.1 2417.8L560.8 2419.9 563.4 2419.3 561.7 2417.2zM553.7 2375L553.5 2377.1 555.3 2378.2 555.5 2376.1zM547.6 2523.2L545.1 2522.5 543.2 2524.1 545.6 2524.9zM561.2 2419.9L560.2 2421.2 561 2422.6 562.1 2421.3zM531.8 2383.1L530.1 2382.4 529.4 2384.1 531.2 2384.8zM520.6 2460.9L519.3 2461.7 519.3 2463.2 520.6 2462.5zM542.6 2520.7L540.3 2521.7 539.3 2524.1 541.7 2523.1zM520.3 2445.8L522.1 2447.1 524.4 2446.8 522.5 2445.5zM560.4 2445.9L558 2445.6 557 2447.7 559.3 2448z"/>
<path fill="#95b087" d="M532.8 2481.4L531.1 2482.3 531.7 2484.2 533.4 2483.2zM527.7 2448.2L525.6 2448 523.8 2449.2 526 2449.5zM534.6 2503.7L533.1 2504.8 533 2506.8 534.5 2505.6zM551 2418.9L552.4 2420.6 554.6 2421.1 553.2 2419.3zM545.7 2483.6L543.6 2484.1 542.9 2486.2 545 2485.6zM527.9 2486.3L528.6 2487.8 530.1 2488 529.5 2486.5zM552.7 2496.2L550.1 2496.3 548.3 2498.1 550.9 2498.1zM540.5 2511.5L538.9 2511.4 538.2 2512.8 539.8 2512.9zM547 2383.3L545.5 2385.6 546.6 2388.1 548.2 2385.8zM533.7 2404L533.8 2406.6 535.6 2408.5 535.5 2405.9zM536.6 2468.6L537.5 2470.4 539.4 2470.2 538.6 2468.5zM543.6 2464.7L541.9 2464.6 541.2 2466.2 542.9 2466.2zM526.9 2431.6L527.8 2434 529.9 2435.3 529 2433zM548.2 2434.2L550.3 2435.2 552.6 2434.8 550.5 2433.8zM542.1 2435.9L541.4 2437.6 542.8 2438.7 543.6 2437zM546.6 2436.6L545 2437.4 544.4 2439.1 546.1 2438.3z"/>
<path fill="#2a4726" d="M540.3 2427.6L538.6 2427.9 538.2 2429.5 539.8 2429.2zM534.1 2381.1L534.4 2383.2 536.2 2384.3 535.9 2382.2zM537.1 2409L534.7 2409.9 533.3 2412 535.6 2411.1zM547.3 2409L546 2410.4 547 2412 548.3 2410.6zM535.4 2463.1L535.6 2465 537.3 2465.9 537.1 2464zM528.5 2474.4L528.9 2476.2 530.7 2476.2 530.4 2474.4zM548.6 2417.9L549.9 2419.3 551.8 2418.8 550.5 2417.5zM555.1 2424.1L552.8 2424.6 552.1 2426.9 554.5 2426.4zM555.3 2483.1L552.7 2482.6 550.4 2484 553 2484.5zM548.7 2374.4L551 2375.3 553.3 2374.4 551 2373.6zM560.2 2425L558.4 2424.6 557.5 2426.3 559.4 2426.7zM545 2498.8L542.9 2498.7 541.5 2500.3 543.6 2500.4zM532.7 2450.9L530.5 2450.6 529.7 2452.7 531.9 2453zM557.8 2436.9L555.7 2436.9 554 2438.2 556.2 2438.3zM531 2446.3L529.3 2445 527.9 2446.5 529.5 2447.7zM534.8 2501.5L533.9 2504.1 535.6 2506.2 536.5 2503.6zM537.2 2417.5L535.5 2416.9 534.5 2418.4 536.2 2419.1zM537.7 2487.1L535.9 2489 536.1 2491.6 537.9 2489.7zM551.9 2398.7L550.2 2400.3 550.8 2402.5 552.5 2400.9zM556.1 2491.3L554 2492.8 554.2 2495.3 556.2 2493.8zM528.7 2428.1L526.6 2427.8 525.5 2429.7 527.6 2430zM540.9 2502.1L540.8 2504.4 542.8 2505.7 542.9 2503.3zM538 2393L538.1 2395.3 539.6 2396.9 539.5 2394.7zM534.7 2396.3L533.9 2398.4 535.7 2399.7 536.6 2397.6zM555.4 2488.3L553.5 2489.7 553.6 2492.1 555.5 2490.7zM556.2 2505.6L556.6 2507.5 558.6 2507.8 558.1 2505.9zM554.5 2486.2L556 2487.7 557.9 2486.6 556.3 2485.2zM557.5 2448.9L558.3 2450.8 560.2 2450.3 559.4 2448.5zM523 2457.1L520.3 2456.8 518.6 2459 521.3 2459.3zM558.5 2491.3L557 2492 557.3 2493.6 558.8 2492.9zM557.2 2490.6L554.7 2491 553.7 2493.5 556.3 2493zM522.9 2439.9L523.3 2441.7 524.9 2442.2 524.5 2440.5zM562.1 2437.4L561.3 2439.3 562.1 2441.2 563 2439.3zM558.1 2523.3L556.3 2522.1 554.6 2523.3 556.4 2524.5zM523.1 2493.5L523.7 2495.4 525.4 2496.5 524.8 2494.5zM562.2 2417.2L560.5 2418 560.3 2420 562 2419.2zM522.2 2476.6L522.8 2478.3 524.6 2478.3 524 2476.6zM531.2 2507.8L529.8 2509.2 529.9 2511.1 531.3 2509.8zM558.9 2433.9L556.9 2435.7 557.5 2438.3 559.5 2436.5zM533.9 2375.8L531.7 2374.6 529.8 2376.1 532 2377.3zM528 2493.6L526.7 2494.5 526.7 2496.1 528 2495.2zM558.2 2409.3L559.5 2410.6 561.4 2410.5 560 2409.2zM548.5 2522.6L547.4 2525 549.2 2527.1 550.2 2524.7zM552 2378.1L551 2380.3 552.8 2381.8 553.8 2379.7zM522.6 2444.7L521.9 2446.6 523.1 2448.3 523.8 2446.4zM529.7 2411.7L527.2 2411.4 525.1 2412.8 527.6 2413.1zM525.8 2401.4L525.4 2403.2 527.2 2403.8 527.5 2402zM523.2 2431.1L520.9 2432.1 520.4 2434.5 522.7 2433.5zM554.1 2494.1L555 2496.6 557.5 2497.2 556.6 2494.8zM558.3 2492.7L556.4 2494.8 557.3 2497.3 559.2 2495.3zM535.7 2515.1L535.7 2517.7 537.3 2519.8 537.3 2517.2zM540.9 2364.4L540.6 2366 541.9 2366.8 542.3 2365.3zM557.9 2387L556 2388.1 555.8 2390.3 557.7 2389.2zM530.2 2391L527.7 2390.5 525.5 2392 528.1 2392.5zM555.7 2472.8L556.7 2474.6 558.6 2474.2 557.7 2472.5zM558.5 2407L558.6 2409.1 560.3 2410.4 560.3 2408.3zM519.2 2463.9L520.6 2464.9 522.1 2464.1 520.7 2463.1zM520.3 2460L521 2462.3 523.4 2462.5 522.7 2460.2zM546 2521.7L545.1 2524 545.8 2526.4 546.8 2524.1zM559.6 2474.7L557.6 2474.7 557.1 2476.6 559.1 2476.6zM524.8 2457.1L522.8 2456.8 522.3 2458.8 524.3 2459.1zM556.2 2384.3L554.1 2384.2 553.3 2386.2 555.4 2386.2zM552.2 2521.7L550.8 2524.1 551.4 2526.7 552.8 2524.4zM543.2 2365.9L542.7 2368.1 544.6 2369.4 545.1 2367.2zM560.2 2418L561.2 2419.5 563.1 2419.3 562.1 2417.8zM522.5 2444L520.9 2444.3 520.3 2445.9 521.9 2445.5z"/>
<path fill="#5b8050" d="M532.3 2450.2L532.3 2452.5 534.6 2453 534.5 2450.8zM557.2 2468.8L555.2 2468.6 554.4 2470.5 556.4 2470.6zM543.7 2413.8L545.3 2415.3 547.4 2414.6 545.8 2413.1zM548.7 2467.6L546.3 2468.5 546 2471.1 548.4 2470.2zM527.4 2419.8L527.8 2421.8 529.8 2421.5 529.4 2419.5zM546 2496.1L543.5 2496.9 542.5 2499.4 545 2498.6zM560 2407.7L558.6 2406.7 557.3 2407.8 558.7 2408.8zM542 2422.3L544.3 2423.5 546.8 2422.7 544.5 2421.5zM529.6 2492.1L526.7 2491.9 524.9 2494.2 527.8 2494.4zM546.4 2515.3L546.4 2517.8 548.3 2519.4 548.3 2516.9zM534.4 2422.5L533.6 2424.6 535.1 2426.2 535.9 2424.2zM554.9 2453.1L553.2 2454.2 553.5 2456.3 555.2 2455.2zM538.6 2380.3L537 2381 536.8 2382.7 538.4 2382zM530.9 2500.1L532.2 2501.8 534.3 2501.5 533 2499.8zM526.2 2441.2L523.9 2440 521.9 2441.6 524.1 2442.8zM540.3 2416L538.4 2416.6 539.1 2418.4 540.9 2417.8zM547 2443.3L546.7 2445 548.3 2445.7 548.5 2444zM546.2 2439.3L544.5 2438.8 542.9 2439.7 544.7 2440.2zM526.9 2475.6L527.5 2477.3 529.3 2477.9 528.7 2476.2zM535.3 2395.9L536.5 2398 539 2398 537.8 2395.9zM546.1 2468.9L548.3 2469.8 550.5 2469.1 548.3 2468.2zM527.4 2482.3L528.8 2484.5 531.4 2484.4 530 2482.2zM560.2 2427.2L558.7 2428.7 558.8 2430.8 560.3 2429.3zM523.2 2490.9L524 2493.6 526.6 2494.4 525.8 2491.8zM541.4 2365.5L541.8 2367.1 543.5 2367.1 543.1 2365.4zM557.4 2465.1L557 2467.2 558.8 2468.4 559.2 2466.3zM559.4 2421.8L560.4 2423.4 562.2 2423.2 561.3 2421.6zM557.2 2492.9L555.9 2494.8 556.7 2496.9 558 2495zM527.4 2411.3L526.1 2412.1 526.5 2413.6 527.9 2412.8zM537.9 2521L539.9 2522.5 542.3 2521.8 540.3 2520.3zM554 2508.8L555.7 2510.2 557.9 2509.6 556.1 2508.3zM557.9 2509.4L556.1 2509.9 555.1 2511.6 557 2511zM533.2 2379.9L530.5 2380.6 529 2382.9 531.7 2382.2zM527.7 2407.8L525.7 2407.6 524.7 2409.3 526.7 2409.5zM549.8 2523.2L551.1 2525.1 553.3 2525.8 552 2523.9zM544.4 2367.1L545.5 2369.3 547.8 2370.1 546.7 2368zM557.3 2444.6L555.6 2446.6 556.4 2449.2 558.1 2447.1zM552 2369L549.9 2368.7 548.9 2370.5 551 2370.8zM538.8 2520.2L538.9 2522.5 541.2 2523 541.1 2520.7zM521.2 2439L521 2441.6 523.2 2443.1 523.4 2440.5zM558.1 2452.4L556.3 2453.9 557.2 2456.1 559 2454.6zM538.4 2520.5L538.8 2522.2 540.5 2522.5 540.1 2520.8zM528.2 2503L528.2 2504.9 529.6 2506.3 529.6 2504.3zM537.4 2369.4L537.8 2371.9 540 2373.1 539.6 2370.6zM521.7 2471.4L520.3 2472.7 521.5 2474.2 522.9 2472.9zM556.9 2518L555.6 2519.5 557.2 2520.6 558.4 2519.1zM559.2 2407.8L558.4 2409.7 559.7 2411.3 560.5 2409.5zM541.4 2520.7L539.3 2520.4 537.8 2521.8 539.9 2522.2zM524.8 2414.1L523.5 2415.3 524.2 2416.8 525.5 2415.7zM529.7 2491.2L527 2490.9 525.3 2492.9 527.9 2493.1zM558.9 2402L557.9 2404.4 559.4 2406.5 560.3 2404.1zM525.2 2436.1L523.1 2436.1 522.8 2438.2 524.9 2438.2zM522.3 2478.6L523.7 2480.1 525.8 2479.9 524.3 2478.4zM521 2469L519.4 2471.2 519.9 2473.8 521.5 2471.6z"/>
<path fill="#b2c6a6" d="M529.2 2442.2L527.4 2441 525.7 2442.4 527.5 2443.6zM536.9 2475.3L537.1 2477.9 538.8 2479.8 538.6 2477.2zM553.7 2435.8L552 2437.6 551.7 2440.1 553.4 2438.3zM549.7 2460.9L550.8 2463.4 553.5 2464 552.4 2461.5zM546.1 2436.4L544.5 2437.3 545.1 2439 546.7 2438.1zM553.7 2494.6L553.4 2496.5 555.2 2497.3 555.5 2495.4z"/>
</g>
<g fill="none" stroke="#6b2b17" stroke-linecap="round">
<path d="M1585 1688 Q1610 1678 1630 1672 Q1650 1668 1665 1676" stroke-width="7"/>
<path d="M1640 1672 Q1660 1700 1690 1690 Q1705 1683 1720 1688" stroke-width="6"/>
<path d="M1612 1660 Q1605 1640 1598 1630" stroke-width="4"/>
<path d="M1665 1676 Q1685 1655 1695 1645" stroke-width="5"/>
<path d="M1640 1650 L1660 1700" stroke-width="6"/>
</g><ellipse cx="1652" cy="1680" rx="32" ry="17" fill="#6a2a17"/>
<path fill="#316f22" d="M1624 1596 1620 1597 1617 1599 1614 1596 1610 1598 1610 1594 1605 1592 1609 1589 1607 1585 1611 1584 1613 1580 1617 1583 1620 1583 1621 1586 1624 1589 1622 1592z"/>
<path fill="#23591a" d="M1656 1582 1662 1580 1665 1577 1669 1580 1674 1581 1672 1586 1676 1591 1670 1593 1667 1597 1663 1593 1657 1592 1658 1587z"/>
<path fill="#23591a" d="M1643 1746 1648 1748 1653 1747 1654 1753 1657 1758 1651 1760 1650 1767 1645 1762 1639 1764 1638 1758 1636 1754 1640 1751z"/>
<path fill="#23591a" d="M1702 1674 1707 1674 1710 1669 1714 1673 1719 1673 1719 1678 1721 1682 1718 1685 1717 1691 1712 1689 1707 1692 1706 1686 1701 1684 1703 1679z"/>
<path fill="#2b6a1d" d="M1619 1741 1624 1739 1626 1734 1630 1738 1635 1736 1636 1741 1641 1743 1638 1747 1637 1751 1632 1751 1629 1754 1626 1750 1621 1750 1622 1746z"/>
<path fill="#316f22" d="M1632 1627 1637 1629 1643 1628 1642 1635 1648 1639 1642 1642 1640 1648 1635 1645 1629 1645 1629 1640 1626 1636 1630 1632z"/>
<path fill="#23591a" d="M1601 1593 1597 1597 1596 1603 1590 1600 1584 1604 1583 1597 1579 1593 1583 1589 1585 1583 1590 1585 1596 1583 1598 1588z"/>
<path fill="#2b6a1d" d="M1614 1732 1610 1737 1611 1743 1605 1742 1600 1747 1596 1742 1590 1739 1594 1734 1594 1728 1600 1728 1605 1725 1608 1729z"/>
<path fill="#23591a" d="M1666 1712 1667 1718 1673 1720 1670 1725 1673 1730 1666 1730 1665 1736 1661 1733 1657 1735 1655 1730 1650 1729 1653 1725 1649 1720 1654 1718 1656 1714 1660 1715z"/>
<path fill="#2b6a1d" d="M1628 1617 1623 1614 1617 1616 1617 1609 1612 1606 1616 1602 1617 1598 1622 1597 1626 1593 1629 1598 1635 1599 1632 1605 1634 1609 1630 1612z"/>
<path fill="#316f22" d="M1617 1719 1620 1723 1627 1721 1624 1728 1629 1731 1623 1734 1623 1740 1618 1738 1613 1740 1611 1735 1605 1733 1610 1728 1608 1723 1614 1723z"/>
<path fill="#2b6a1d" d="M1707 1719 1710 1712 1710 1707 1715 1706 1720 1702 1723 1707 1729 1709 1726 1714 1728 1720 1721 1720 1717 1726 1714 1720z"/>
<path fill="#316f22" d="M1754 1667 1750 1669 1750 1672 1746 1673 1743 1675 1741 1672 1736 1672 1737 1667 1734 1664 1738 1662 1738 1657 1742 1658 1745 1656 1748 1659 1752 1659 1751 1663z"/>
<path fill="#316f22" d="M1703 1670 1706 1666 1705 1660 1710 1660 1714 1657 1717 1661 1722 1663 1720 1668 1721 1673 1715 1674 1711 1677 1708 1672z"/>
<path fill="#23591a" d="M1659 1766 1659 1761 1657 1756 1662 1755 1665 1750 1669 1754 1675 1753 1674 1759 1676 1764 1671 1765 1668 1769 1664 1766z"/>
<path fill="#2b6a1d" d="M1653 1728 1647 1725 1642 1729 1640 1724 1636 1721 1639 1717 1637 1712 1643 1712 1645 1707 1649 1711 1655 1710 1654 1715 1657 1719 1653 1722z"/>
<path fill="#316f22" d="M1698 1741 1700 1735 1697 1730 1703 1728 1705 1722 1710 1724 1715 1723 1717 1728 1721 1732 1717 1736 1717 1741 1712 1741 1708 1747 1705 1741z"/>
<path fill="#2b6a1d" d="M1592 1590 1594 1585 1593 1581 1596 1579 1596 1573 1601 1575 1605 1574 1607 1578 1613 1578 1610 1583 1613 1587 1608 1588 1608 1594 1603 1592 1600 1594 1597 1591z"/>
<path fill="#316f22" d="M1591 1643 1597 1644 1603 1640 1604 1647 1610 1649 1607 1654 1609 1660 1604 1662 1600 1667 1596 1662 1588 1664 1589 1657 1584 1652 1591 1650z"/>
<path fill="#23591a" d="M1676 1738 1681 1739 1686 1736 1687 1742 1692 1746 1686 1749 1686 1755 1681 1753 1676 1754 1675 1750 1671 1746 1674 1742z"/>
<path fill="#2b6a1d" d="M1579 1621 1583 1621 1587 1620 1590 1622 1593 1624 1593 1628 1596 1632 1591 1634 1591 1640 1586 1637 1582 1642 1580 1637 1576 1636 1576 1632 1572 1627 1578 1625z"/>
<path fill="#23591a" d="M1704 1706 1708 1705 1710 1701 1713 1705 1718 1705 1718 1709 1721 1712 1718 1715 1719 1720 1714 1719 1711 1723 1709 1718 1704 1720 1704 1716 1700 1713 1703 1709z"/>
<path fill="#23591a" d="M1611 1609 1606 1614 1610 1619 1605 1621 1603 1626 1598 1624 1593 1628 1592 1621 1586 1620 1590 1615 1586 1610 1592 1608 1592 1602 1598 1606 1603 1601 1604 1608z"/>
<path fill="#23591a" d="M1584 1676 1588 1680 1592 1677 1593 1681 1599 1682 1595 1687 1597 1690 1593 1692 1592 1697 1588 1693 1584 1696 1582 1692 1577 1691 1580 1686 1579 1682 1583 1681z"/>
<path fill="#2b6a1d" d="M1660 1619 1657 1624 1657 1631 1650 1628 1646 1631 1642 1628 1637 1626 1639 1620 1635 1615 1641 1613 1644 1608 1649 1612 1655 1610 1656 1616z"/>
<path fill="#316f22" d="M1686 1651 1686 1647 1683 1644 1687 1641 1688 1636 1692 1637 1696 1636 1697 1640 1703 1641 1700 1646 1701 1650 1697 1651 1694 1656 1691 1651z"/>
<path fill="#23591a" d="M1687 1600 1682 1599 1677 1601 1676 1595 1671 1592 1674 1587 1673 1581 1680 1582 1684 1578 1686 1584 1693 1583 1691 1589 1694 1593 1689 1595z"/>
<path fill="#23591a" d="M1657 1630 1655 1633 1656 1638 1651 1638 1649 1642 1646 1638 1642 1639 1642 1635 1636 1633 1640 1630 1639 1626 1643 1624 1646 1620 1649 1624 1653 1624 1653 1628z"/>
<path fill="#2b6a1d" d="M1591 1689 1593 1682 1589 1678 1593 1674 1595 1669 1600 1671 1606 1669 1608 1674 1613 1676 1610 1681 1612 1688 1605 1687 1602 1694 1598 1688z"/>
<path fill="#23591a" d="M1694 1660 1688 1660 1681 1664 1678 1658 1673 1654 1677 1648 1675 1640 1683 1641 1689 1638 1692 1644 1698 1647 1695 1653z"/>
<path fill="#316f22" d="M1590 1580 1594 1583 1598 1582 1599 1586 1602 1588 1600 1591 1603 1595 1598 1595 1597 1601 1593 1598 1589 1600 1588 1595 1584 1594 1586 1590 1585 1586 1589 1585z"/>
<path fill="#2b6a1d" d="M1611 1727 1608 1730 1608 1735 1603 1733 1600 1737 1597 1733 1594 1731 1595 1727 1592 1723 1598 1723 1599 1718 1603 1720 1608 1719 1607 1724z"/>
<path fill="#23591a" d="M1591 1638 1596 1642 1601 1641 1601 1647 1604 1651 1601 1654 1598 1658 1593 1656 1588 1656 1587 1651 1585 1647 1589 1644z"/>
<path fill="#2b6a1d" d="M1591 1739 1599 1740 1603 1733 1606 1741 1613 1740 1613 1746 1614 1751 1609 1754 1608 1761 1602 1758 1596 1761 1596 1754 1590 1751 1593 1746z"/>
<path fill="#2b6a1d" d="M1618 1595 1612 1592 1607 1594 1606 1587 1599 1584 1603 1579 1602 1572 1610 1574 1614 1570 1617 1575 1623 1576 1622 1581 1627 1587 1620 1589z"/>
<path fill="#23591a" d="M1721 1646 1714 1646 1711 1652 1707 1648 1701 1648 1701 1643 1697 1638 1702 1634 1703 1629 1709 1630 1714 1627 1716 1633 1722 1635 1719 1640z"/>
<path fill="#23591a" d="M1570 1691 1565 1693 1565 1698 1559 1695 1556 1699 1554 1694 1548 1693 1550 1689 1549 1685 1552 1683 1554 1679 1558 1680 1562 1677 1564 1681 1569 1682 1567 1687z"/>
<path fill="#316f22" d="M1638 1732 1638 1727 1635 1722 1641 1720 1643 1716 1647 1720 1653 1720 1651 1725 1653 1729 1650 1731 1646 1735 1643 1732z"/>
<path fill="#2b6a1d" d="M1646 1735 1649 1741 1654 1741 1653 1746 1657 1749 1653 1752 1653 1758 1648 1756 1644 1761 1641 1756 1635 1758 1637 1751 1634 1748 1638 1745 1637 1740 1642 1740z"/>
<path fill="#23591a" d="M1596 1663 1593 1661 1588 1662 1589 1656 1586 1653 1589 1650 1590 1646 1594 1647 1599 1644 1600 1649 1603 1651 1602 1655 1604 1660 1599 1660z"/>
<path fill="#23591a" d="M1731 1650 1727 1651 1725 1656 1721 1652 1715 1654 1716 1649 1713 1645 1716 1642 1716 1637 1721 1639 1725 1636 1728 1639 1733 1641 1730 1646z"/>
<path fill="#23591a" d="M1731 1691 1727 1697 1728 1703 1722 1703 1717 1709 1714 1703 1707 1701 1711 1695 1710 1689 1716 1688 1721 1683 1724 1689z"/>
<path fill="#316f22" d="M1663 1765 1662 1760 1659 1755 1663 1752 1664 1745 1670 1748 1677 1746 1676 1753 1682 1758 1675 1761 1675 1768 1669 1764z"/>
<path fill="#316f22" d="M1555 1700 1562 1701 1568 1698 1570 1705 1576 1708 1572 1714 1571 1719 1565 1720 1560 1722 1557 1716 1552 1712 1554 1707z"/>
<path fill="#23591a" d="M1680 1704 1683 1700 1682 1696 1687 1696 1688 1692 1692 1694 1696 1692 1696 1696 1700 1698 1697 1702 1701 1706 1695 1706 1694 1711 1690 1708 1686 1711 1685 1706z"/>
<path fill="#23591a" d="M1716 1652 1717 1647 1713 1644 1718 1642 1719 1638 1723 1639 1727 1639 1728 1643 1729 1646 1727 1649 1725 1654 1721 1651z"/>
<path fill="#98d862" d="M1716 1650 1715 1646 1713 1642 1717 1640 1718 1637 1722 1638 1726 1638 1726 1642 1729 1645 1725 1647 1724 1651 1720 1649z"/>
<path fill="#316f22" d="M1654 1765 1652 1761 1648 1760 1649 1756 1647 1751 1652 1751 1656 1747 1658 1752 1664 1752 1661 1757 1663 1762 1658 1762z"/>
<path fill="#aae276" d="M1653 1763 1651 1760 1647 1760 1649 1756 1645 1752 1650 1751 1651 1748 1654 1749 1658 1748 1659 1751 1662 1754 1659 1756 1660 1761 1656 1760z"/>
<path fill="#23591a" d="M1588 1711 1590 1715 1593 1717 1590 1720 1591 1724 1587 1723 1585 1726 1582 1724 1578 1724 1579 1720 1576 1717 1579 1715 1581 1712 1584 1713z"/>
<path fill="#86cc52" d="M1586 1711 1588 1714 1590 1717 1588 1719 1588 1723 1584 1722 1580 1723 1580 1720 1576 1718 1578 1715 1580 1712 1583 1713z"/>
<path fill="#2b6a1d" d="M1730 1715 1725 1716 1724 1720 1720 1717 1716 1720 1715 1716 1711 1715 1713 1711 1711 1707 1715 1705 1716 1701 1720 1704 1724 1701 1725 1707 1729 1707 1727 1711z"/>
<path fill="#98d862" d="M1726 1712 1723 1715 1720 1717 1716 1715 1711 1715 1713 1710 1711 1706 1715 1704 1718 1701 1721 1704 1727 1704 1725 1709z"/>
<path fill="#23591a" d="M1620 1618 1619 1622 1621 1625 1619 1627 1618 1630 1615 1630 1613 1631 1610 1630 1607 1629 1608 1626 1606 1623 1608 1621 1607 1617 1611 1618 1614 1616 1616 1619z"/>
<path fill="#b8e686" d="M1618 1618 1617 1621 1620 1623 1616 1624 1617 1628 1614 1628 1612 1629 1610 1627 1607 1626 1608 1624 1605 1622 1607 1620 1607 1616 1610 1617 1613 1615 1615 1617z"/>
<path fill="#316f22" d="M1609 1601 1615 1603 1618 1599 1621 1603 1625 1604 1624 1608 1631 1611 1624 1614 1626 1620 1621 1619 1617 1622 1614 1618 1609 1619 1610 1613 1607 1610 1611 1608z"/>
<path fill="#b8e686" d="M1609 1602 1615 1603 1619 1600 1621 1605 1627 1607 1624 1611 1624 1617 1618 1617 1614 1618 1611 1614 1606 1611 1609 1607z"/>
<path fill="#2b6a1d" d="M1682 1745 1678 1742 1674 1739 1677 1735 1676 1729 1682 1730 1686 1726 1689 1731 1695 1733 1691 1738 1691 1743 1686 1744z"/>
<path fill="#b8e686" d="M1680 1745 1678 1740 1675 1738 1676 1735 1674 1730 1678 1729 1681 1726 1684 1728 1689 1727 1688 1732 1693 1735 1688 1737 1689 1743 1684 1740z"/>
<path fill="#23591a" d="M1645 1730 1646 1728 1647 1724 1650 1725 1653 1721 1655 1724 1658 1724 1659 1727 1661 1730 1659 1732 1660 1736 1656 1736 1653 1739 1651 1736 1647 1736 1647 1733z"/>
<path fill="#86cc52" d="M1643 1729 1647 1727 1647 1723 1650 1724 1653 1720 1655 1724 1658 1725 1658 1728 1658 1731 1655 1733 1654 1736 1651 1734 1647 1735 1647 1731z"/>
<path fill="#316f22" d="M1627 1622 1626 1626 1630 1628 1628 1631 1629 1634 1625 1634 1624 1638 1621 1636 1617 1636 1617 1633 1614 1631 1615 1628 1614 1624 1619 1625 1620 1622 1623 1624z"/>
<path fill="#aae276" d="M1625 1621 1625 1625 1628 1626 1626 1629 1628 1633 1624 1633 1622 1635 1619 1634 1617 1634 1616 1631 1612 1630 1615 1627 1614 1623 1618 1623 1619 1621 1622 1622z"/>
<path fill="#316f22" d="M1622 1729 1627 1726 1626 1720 1631 1722 1635 1718 1638 1722 1642 1724 1641 1729 1643 1734 1637 1735 1635 1739 1631 1737 1625 1738 1625 1732z"/>
<path fill="#b8e686" d="M1621 1727 1626 1724 1627 1719 1632 1721 1637 1719 1637 1724 1641 1727 1638 1731 1637 1736 1632 1734 1627 1735 1626 1731z"/>
<path fill="#2b6a1d" d="M1687 1751 1692 1752 1695 1751 1697 1754 1700 1756 1699 1759 1701 1764 1696 1763 1694 1767 1691 1765 1687 1765 1687 1761 1684 1758 1688 1756z"/>
<path fill="#aae276" d="M1687 1751 1690 1751 1693 1749 1695 1752 1697 1753 1697 1756 1700 1759 1696 1760 1696 1764 1693 1763 1690 1764 1689 1762 1686 1761 1687 1758 1683 1755 1687 1754z"/>
<path fill="#23591a" d="M1689 1693 1688 1689 1684 1688 1687 1684 1685 1681 1688 1679 1689 1677 1692 1677 1695 1676 1697 1679 1701 1680 1699 1683 1700 1686 1697 1688 1697 1692 1693 1690z"/>
<path fill="#92d45e" d="M1689 1690 1687 1686 1684 1685 1686 1682 1685 1678 1688 1677 1691 1675 1693 1677 1697 1677 1697 1680 1699 1683 1696 1685 1696 1689 1692 1688z"/>
<path fill="#316f22" d="M1616 1700 1617 1698 1617 1694 1621 1694 1623 1691 1626 1694 1630 1692 1629 1697 1634 1699 1630 1702 1631 1705 1627 1706 1625 1709 1622 1705 1619 1706 1618 1703z"/>
<path fill="#b8e686" d="M1614 1699 1617 1695 1618 1692 1622 1692 1626 1690 1627 1695 1631 1697 1628 1700 1628 1705 1623 1704 1619 1707 1618 1701z"/>
<path fill="#23591a" d="M1739 1686 1738 1682 1732 1682 1734 1678 1733 1674 1737 1673 1737 1668 1741 1669 1745 1667 1747 1671 1751 1672 1750 1676 1753 1680 1747 1681 1746 1686 1743 1685z"/>
<path fill="#86cc52" d="M1738 1685 1736 1680 1731 1678 1734 1673 1734 1668 1739 1669 1743 1667 1746 1670 1749 1673 1747 1677 1747 1683 1742 1681z"/>
<path fill="#2b6a1d" d="M1673 1716 1672 1711 1668 1709 1671 1705 1668 1700 1674 1700 1676 1695 1679 1697 1684 1696 1685 1700 1690 1702 1688 1707 1688 1711 1683 1712 1682 1716 1678 1713z"/>
<path fill="#aae276" d="M1672 1713 1671 1708 1667 1706 1669 1702 1669 1696 1675 1698 1678 1694 1681 1698 1685 1699 1684 1703 1688 1707 1682 1709 1682 1715 1677 1711z"/>
<path fill="#2b6a1d" d="M1659 1652 1659 1647 1657 1642 1662 1640 1665 1637 1669 1640 1675 1640 1674 1646 1675 1650 1671 1653 1668 1657 1663 1654z"/>
<path fill="#86cc52" d="M1659 1650 1659 1646 1657 1641 1662 1640 1664 1635 1668 1638 1673 1639 1671 1644 1675 1649 1669 1649 1666 1655 1663 1650z"/>
<path fill="#2b6a1d" d="M1617 1721 1613 1720 1608 1722 1606 1717 1602 1714 1605 1709 1604 1703 1610 1704 1614 1700 1617 1704 1622 1705 1620 1710 1625 1715 1620 1717z"/>
<path fill="#98d862" d="M1617 1720 1612 1717 1608 1718 1606 1714 1601 1712 1605 1708 1604 1703 1610 1704 1613 1699 1616 1703 1621 1703 1619 1709 1621 1712 1618 1715z"/>
<path fill="#2b6a1d" d="M1606 1671 1609 1675 1614 1674 1613 1679 1615 1683 1612 1686 1611 1691 1606 1688 1602 1691 1601 1686 1595 1684 1599 1680 1599 1676 1603 1676z"/>
<path fill="#b8e686" d="M1604 1671 1608 1675 1612 1675 1612 1679 1613 1684 1608 1685 1605 1688 1602 1686 1597 1685 1599 1680 1598 1676 1601 1674z"/>
<path fill="#23591a" d="M1584 1721 1586 1725 1590 1727 1588 1731 1592 1736 1587 1737 1585 1742 1581 1738 1576 1740 1575 1735 1571 1732 1575 1728 1575 1724 1580 1725z"/>
<path fill="#98d862" d="M1582 1721 1584 1725 1589 1725 1586 1729 1589 1733 1585 1734 1583 1738 1580 1735 1576 1736 1575 1733 1571 1730 1574 1727 1575 1723 1579 1724z"/>
<path fill="#316f22" d="M1708 1677 1712 1673 1714 1667 1719 1668 1725 1667 1727 1672 1730 1677 1725 1680 1725 1686 1719 1685 1713 1688 1712 1681z"/>
<path fill="#86cc52" d="M1708 1675 1712 1673 1711 1667 1716 1668 1720 1666 1722 1670 1728 1670 1726 1675 1727 1680 1722 1681 1720 1685 1717 1681 1712 1682 1712 1678z"/>
<path fill="#316f22" d="M1690 1643 1690 1638 1689 1633 1694 1631 1697 1627 1701 1631 1706 1632 1705 1637 1707 1641 1702 1643 1699 1648 1696 1643z"/>
<path fill="#98d862" d="M1690 1641 1691 1637 1689 1634 1691 1632 1692 1628 1696 1629 1699 1626 1701 1630 1706 1630 1703 1634 1705 1637 1702 1639 1702 1643 1698 1641 1696 1644 1694 1641z"/>
<path fill="#2b6a1d" d="M1746 1651 1744 1656 1747 1660 1741 1662 1741 1667 1737 1665 1733 1668 1730 1665 1725 1664 1728 1659 1722 1655 1728 1653 1729 1648 1734 1649 1737 1647 1740 1650z"/>
<path fill="#aae276" d="M1744 1650 1742 1656 1744 1661 1737 1662 1734 1667 1730 1663 1725 1662 1726 1656 1726 1652 1730 1650 1733 1645 1738 1649z"/>
<path fill="#2b6a1d" d="M1694 1614 1696 1617 1701 1618 1700 1622 1702 1626 1698 1628 1697 1632 1693 1631 1689 1632 1687 1628 1684 1625 1687 1622 1684 1616 1690 1617z"/>
<path fill="#b8e686" d="M1692 1612 1695 1617 1699 1617 1698 1621 1702 1625 1697 1627 1696 1631 1692 1628 1688 1630 1686 1626 1683 1624 1685 1620 1686 1616 1690 1616z"/>
<path fill="#23591a" d="M1665 1601 1662 1597 1655 1596 1659 1590 1658 1584 1663 1583 1667 1580 1672 1583 1676 1586 1675 1592 1675 1597 1670 1599z"/>
<path fill="#98d862" d="M1664 1599 1662 1595 1658 1595 1659 1591 1655 1588 1658 1585 1658 1580 1663 1581 1666 1580 1668 1583 1674 1582 1671 1587 1676 1590 1671 1592 1672 1598 1667 1595z"/>
<path fill="#316f22" d="M1729 1633 1727 1635 1727 1640 1723 1638 1719 1641 1718 1637 1714 1636 1715 1632 1713 1628 1718 1628 1720 1625 1723 1627 1727 1626 1727 1630z"/>
<path fill="#aae276" d="M1727 1631 1725 1634 1724 1638 1720 1637 1716 1638 1716 1633 1713 1631 1715 1628 1716 1624 1720 1625 1724 1625 1725 1628z"/>
<path fill="#2b6a1d" d="M1606 1740 1612 1737 1611 1730 1617 1732 1621 1729 1624 1733 1629 1734 1626 1739 1629 1744 1624 1746 1622 1750 1617 1748 1612 1749 1612 1744z"/>
<path fill="#86cc52" d="M1607 1739 1611 1735 1610 1730 1616 1732 1620 1728 1622 1733 1627 1733 1624 1738 1628 1743 1623 1744 1620 1748 1616 1745 1612 1747 1611 1742z"/>
<path fill="#2b6a1d" d="M1595 1606 1592 1604 1588 1603 1590 1599 1587 1594 1592 1593 1595 1590 1598 1593 1601 1595 1601 1599 1603 1603 1597 1603z"/>
<path fill="#86cc52" d="M1594 1605 1591 1602 1588 1601 1589 1598 1586 1595 1590 1594 1590 1590 1594 1591 1597 1591 1598 1594 1601 1595 1598 1598 1600 1602 1596 1602z"/>
<path fill="#23591a" d="M1618 1648 1625 1645 1627 1640 1632 1642 1638 1641 1639 1646 1643 1652 1637 1655 1635 1661 1629 1658 1624 1657 1623 1652z"/>
<path fill="#aae276" d="M1618 1646 1624 1643 1626 1640 1630 1642 1635 1641 1636 1646 1639 1649 1635 1653 1633 1657 1628 1655 1623 1656 1622 1651z"/>
<path fill="#2b6a1d" d="M1674 1749 1678 1750 1681 1747 1684 1750 1688 1750 1687 1754 1691 1756 1687 1759 1687 1763 1684 1764 1681 1768 1678 1764 1674 1763 1674 1759 1669 1756 1674 1753z"/>
<path fill="#b8e686" d="M1673 1747 1678 1747 1682 1745 1684 1750 1689 1752 1686 1756 1686 1761 1681 1761 1677 1764 1675 1759 1671 1757 1673 1753z"/>
<path fill="#23591a" d="M1617 1752 1620 1748 1620 1743 1625 1744 1629 1742 1630 1747 1635 1749 1632 1753 1631 1757 1627 1757 1622 1759 1621 1754z"/>
<path fill="#98d862" d="M1617 1750 1620 1747 1619 1743 1622 1743 1625 1741 1628 1744 1631 1744 1631 1748 1632 1751 1629 1753 1628 1757 1624 1755 1620 1756 1619 1752z"/>
<path fill="#316f22" d="M1639 1712 1636 1709 1631 1710 1631 1706 1627 1703 1631 1700 1630 1696 1635 1696 1638 1693 1640 1698 1645 1698 1642 1702 1645 1706 1641 1707z"/>
<path fill="#92d45e" d="M1638 1709 1635 1706 1631 1707 1630 1704 1627 1702 1630 1699 1630 1696 1634 1696 1637 1693 1639 1696 1642 1697 1641 1701 1643 1704 1639 1705z"/>
<path fill="#23591a" d="M1605 1728 1609 1725 1609 1720 1614 1720 1619 1717 1621 1722 1628 1722 1624 1728 1627 1733 1622 1735 1619 1741 1614 1735 1609 1737 1608 1732z"/>
<path fill="#86cc52" d="M1606 1726 1609 1723 1610 1718 1615 1719 1620 1717 1621 1723 1626 1726 1621 1730 1620 1735 1615 1734 1610 1735 1609 1730z"/>
<path fill="#316f22" d="M1670 1625 1676 1627 1682 1625 1683 1631 1687 1635 1683 1640 1681 1647 1675 1643 1669 1645 1668 1639 1662 1634 1669 1630z"/>
<path fill="#b8e686" d="M1669 1623 1674 1626 1677 1624 1679 1627 1684 1628 1681 1633 1683 1636 1680 1638 1679 1643 1675 1641 1670 1644 1669 1639 1665 1638 1667 1634 1665 1630 1668 1628z"/>
<path fill="#316f22" d="M1650 1594 1654 1593 1658 1591 1660 1596 1664 1598 1662 1602 1662 1606 1657 1606 1654 1607 1651 1604 1646 1602 1650 1598z"/>
<path fill="#86cc52" d="M1650 1593 1653 1593 1657 1591 1659 1594 1663 1596 1660 1600 1659 1603 1656 1603 1652 1606 1651 1602 1647 1600 1649 1597z"/>
<path fill="#316f22" d="M1641 1643 1646 1644 1649 1641 1651 1646 1656 1645 1655 1650 1660 1654 1655 1656 1654 1661 1649 1659 1646 1663 1644 1658 1638 1659 1640 1654 1635 1650 1641 1648z"/>
<path fill="#b8e686" d="M1641 1643 1646 1644 1651 1640 1653 1646 1656 1649 1654 1653 1653 1659 1647 1657 1642 1660 1640 1655 1636 1651 1639 1647z"/>
<path fill="#23591a" d="M1601 1655 1597 1650 1591 1652 1592 1646 1589 1643 1592 1639 1593 1635 1597 1635 1602 1633 1604 1637 1608 1639 1607 1643 1608 1648 1603 1649z"/>
<path fill="#86cc52" d="M1599 1651 1595 1649 1590 1648 1591 1643 1589 1638 1593 1636 1596 1632 1600 1635 1604 1636 1605 1640 1606 1644 1602 1646z"/>
<path fill="#23591a" d="M1579 1673 1584 1670 1587 1664 1591 1669 1598 1668 1596 1675 1601 1680 1594 1682 1591 1687 1586 1684 1581 1683 1581 1678z"/>
<path fill="#aae276" d="M1577 1671 1582 1670 1583 1666 1587 1668 1591 1665 1592 1670 1598 1670 1594 1674 1597 1678 1593 1679 1592 1683 1588 1682 1584 1684 1583 1680 1578 1679 1581 1675z"/>
<path fill="#23591a" d="M1636 1571 1636 1576 1640 1579 1636 1582 1634 1586 1630 1584 1626 1584 1625 1580 1623 1577 1626 1575 1627 1569 1631 1572z"/>
<path fill="#92d45e" d="M1635 1570 1635 1574 1638 1576 1634 1578 1634 1582 1631 1581 1628 1584 1626 1581 1623 1580 1624 1577 1622 1573 1626 1572 1628 1569 1631 1571z"/>
<path fill="#316f22" d="M1629 1700 1625 1700 1623 1703 1621 1700 1617 1701 1617 1697 1615 1695 1616 1692 1616 1688 1620 1688 1622 1684 1625 1688 1628 1688 1628 1691 1631 1694 1629 1696z"/>
<path fill="#b8e686" d="M1628 1698 1623 1697 1621 1701 1619 1698 1614 1698 1615 1694 1614 1690 1617 1689 1618 1684 1622 1687 1625 1687 1626 1690 1630 1691 1626 1694z"/>
<path fill="#23591a" d="M1673 1616 1673 1610 1669 1607 1673 1604 1673 1599 1678 1600 1681 1598 1684 1601 1689 1602 1687 1606 1690 1611 1684 1612 1683 1617 1679 1613z"/>
<path fill="#b8e686" d="M1674 1612 1673 1608 1669 1606 1673 1603 1673 1599 1677 1598 1680 1597 1682 1600 1686 1601 1685 1605 1686 1608 1683 1610 1681 1614 1677 1611z"/>
<path fill="#316f22" d="M1683 1701 1686 1703 1689 1702 1690 1705 1695 1706 1692 1710 1692 1713 1689 1714 1688 1718 1685 1715 1681 1716 1680 1713 1678 1711 1679 1708 1679 1705 1681 1704z"/>
<path fill="#aae276" d="M1682 1701 1685 1702 1690 1701 1689 1706 1691 1709 1688 1711 1686 1714 1683 1713 1679 1712 1679 1709 1676 1705 1680 1704z"/>
<path fill="#316f22" d="M1707 1643 1704 1637 1698 1637 1701 1632 1698 1627 1703 1626 1705 1621 1709 1623 1714 1620 1715 1626 1720 1629 1715 1633 1717 1639 1711 1637z"/>
<path fill="#92d45e" d="M1706 1638 1704 1634 1698 1633 1700 1628 1698 1623 1705 1623 1708 1618 1711 1623 1717 1625 1714 1630 1715 1634 1710 1636z"/>
<path fill="#23591a" d="M1609 1645 1609 1640 1605 1636 1610 1633 1612 1627 1617 1632 1622 1632 1622 1636 1626 1641 1621 1644 1619 1650 1614 1646z"/>
<path fill="#86cc52" d="M1608 1644 1609 1639 1606 1635 1609 1632 1612 1629 1616 1631 1621 1630 1620 1635 1624 1639 1619 1641 1617 1646 1613 1644z"/>
<path fill="#316f22" d="M1712 1643 1716 1645 1719 1642 1721 1645 1725 1645 1724 1649 1725 1653 1722 1654 1722 1658 1718 1657 1715 1659 1713 1656 1710 1655 1711 1652 1708 1649 1711 1646z"/>
<path fill="#98d862" d="M1711 1641 1715 1643 1719 1641 1719 1645 1724 1646 1722 1650 1722 1653 1719 1654 1717 1658 1714 1654 1710 1655 1711 1651 1708 1648 1710 1646z"/>
<path fill="#23591a" d="M1689 1648 1692 1650 1695 1647 1697 1650 1700 1651 1699 1654 1701 1657 1699 1659 1698 1663 1694 1661 1691 1664 1690 1660 1687 1659 1688 1656 1686 1654 1689 1652z"/>
<path fill="#b8e686" d="M1689 1648 1692 1648 1694 1647 1696 1650 1699 1651 1697 1654 1698 1658 1695 1658 1693 1661 1690 1659 1687 1659 1687 1656 1684 1653 1688 1651z"/>
<path fill="#2b6a1d" d="M1621 1592 1626 1589 1630 1585 1634 1589 1640 1590 1640 1595 1644 1601 1636 1603 1633 1607 1628 1603 1621 1604 1624 1597z"/>
<path fill="#98d862" d="M1621 1591 1625 1589 1626 1585 1630 1587 1634 1584 1636 1589 1640 1590 1637 1595 1639 1598 1635 1600 1634 1605 1630 1602 1626 1604 1625 1600 1619 1599 1623 1595z"/>
<path fill="#316f22" d="M1633 1632 1628 1634 1627 1640 1622 1638 1616 1638 1617 1632 1614 1628 1618 1625 1620 1619 1625 1623 1631 1622 1630 1628z"/>
<path fill="#92d45e" d="M1632 1630 1627 1632 1625 1638 1621 1635 1616 1635 1616 1630 1614 1626 1617 1623 1619 1619 1624 1622 1628 1622 1629 1626z"/>
<path fill="#23591a" d="M1553 1686 1559 1686 1563 1682 1567 1686 1572 1688 1570 1693 1571 1699 1565 1699 1561 1702 1558 1699 1553 1696 1554 1692z"/>
<path fill="#92d45e" d="M1553 1685 1558 1685 1561 1682 1563 1685 1568 1684 1567 1689 1569 1692 1567 1695 1566 1700 1561 1697 1558 1699 1556 1695 1553 1693 1555 1690z"/>
<path fill="#2b6a1d" d="M1646 1614 1648 1612 1648 1607 1653 1608 1657 1605 1659 1609 1664 1610 1662 1614 1664 1617 1661 1620 1661 1625 1656 1624 1653 1626 1651 1622 1646 1622 1647 1617z"/>
<path fill="#b8e686" d="M1645 1613 1648 1610 1648 1606 1652 1608 1655 1605 1657 1608 1662 1608 1660 1613 1663 1616 1659 1618 1659 1622 1655 1621 1652 1622 1650 1619 1645 1620 1647 1616z"/>
<path fill="#316f22" d="M1643 1640 1642 1645 1643 1650 1638 1652 1633 1656 1629 1652 1625 1649 1627 1644 1624 1637 1631 1637 1635 1634 1638 1638z"/>
<path fill="#92d45e" d="M1643 1638 1640 1643 1642 1647 1638 1649 1635 1653 1631 1649 1627 1650 1626 1646 1623 1643 1626 1640 1627 1635 1631 1636 1635 1634 1637 1638z"/>
<path fill="#2b6a1d" d="M1635 1751 1638 1748 1639 1743 1643 1745 1648 1744 1650 1747 1653 1751 1649 1754 1647 1758 1643 1757 1639 1759 1638 1753z"/>
<path fill="#aae276" d="M1635 1749 1637 1746 1638 1741 1642 1743 1646 1742 1647 1746 1650 1749 1647 1752 1646 1756 1642 1754 1638 1756 1637 1752z"/>
<path fill="#316f22" d="M1759 1685 1753 1686 1752 1690 1747 1688 1743 1691 1741 1687 1737 1685 1738 1681 1736 1676 1741 1675 1742 1669 1747 1672 1751 1668 1753 1674 1758 1675 1756 1680z"/>
<path fill="#aae276" d="M1756 1682 1751 1683 1750 1689 1746 1687 1742 1689 1740 1685 1736 1683 1739 1679 1736 1675 1741 1674 1742 1670 1745 1671 1749 1670 1751 1673 1757 1674 1753 1678z"/>
<path fill="#316f22" d="M1693 1641 1691 1646 1692 1652 1686 1654 1681 1657 1677 1652 1671 1650 1673 1644 1672 1637 1679 1637 1684 1633 1688 1639z"/>
<path fill="#aae276" d="M1691 1640 1690 1644 1691 1648 1687 1649 1685 1653 1682 1652 1677 1654 1676 1649 1671 1648 1675 1644 1671 1640 1677 1639 1677 1634 1681 1636 1686 1633 1686 1639z"/>
<path fill="#316f22" d="M1678 1644 1676 1649 1678 1655 1671 1655 1667 1659 1664 1653 1658 1651 1661 1646 1659 1639 1666 1640 1671 1634 1674 1641z"/>
<path fill="#92d45e" d="M1678 1642 1674 1646 1676 1651 1671 1651 1669 1655 1665 1653 1661 1653 1661 1648 1657 1645 1660 1641 1662 1638 1667 1639 1671 1635 1673 1640z"/>
<path fill="#23591a" d="M1720 1660 1716 1660 1713 1665 1711 1659 1706 1661 1708 1655 1704 1653 1709 1651 1708 1647 1712 1647 1715 1645 1717 1648 1723 1647 1721 1651 1725 1655 1721 1657z"/>
<path fill="#86cc52" d="M1718 1658 1715 1658 1712 1661 1710 1657 1706 1658 1708 1654 1704 1651 1708 1649 1708 1646 1711 1645 1714 1644 1716 1646 1719 1647 1719 1650 1721 1653 1718 1655z"/>
<path fill="#316f22" d="M1584 1698 1588 1700 1593 1701 1590 1706 1594 1710 1589 1712 1586 1716 1583 1711 1579 1711 1579 1707 1578 1703 1582 1702z"/>
<path fill="#86cc52" d="M1583 1697 1586 1700 1590 1700 1589 1704 1590 1708 1587 1709 1584 1713 1581 1710 1577 1709 1578 1705 1576 1701 1581 1700z"/>
<path fill="#2b6a1d" d="M1693 1650 1695 1645 1693 1641 1697 1640 1699 1636 1703 1639 1707 1637 1708 1641 1712 1644 1708 1648 1709 1653 1704 1652 1700 1655 1699 1650z"/>
<path fill="#b8e686" d="M1693 1648 1696 1643 1693 1639 1698 1639 1701 1635 1704 1638 1708 1640 1707 1644 1707 1647 1704 1649 1701 1653 1698 1648z"/>
<path fill="#316f22" d="M1589 1702 1589 1696 1586 1691 1591 1688 1595 1684 1599 1687 1605 1687 1604 1693 1608 1698 1602 1700 1600 1706 1595 1702z"/>
<path fill="#aae276" d="M1589 1700 1589 1695 1585 1692 1590 1690 1589 1685 1593 1687 1596 1684 1598 1687 1603 1686 1603 1690 1605 1693 1602 1696 1602 1699 1599 1700 1596 1703 1593 1699z"/>
<path fill="#316f22" d="M1617 1750 1618 1745 1615 1741 1620 1740 1622 1736 1625 1737 1630 1737 1630 1741 1634 1743 1631 1746 1632 1752 1627 1751 1624 1753 1621 1750z"/>
<path fill="#86cc52" d="M1617 1747 1618 1744 1615 1741 1618 1739 1619 1735 1622 1736 1625 1735 1627 1738 1630 1739 1629 1742 1632 1745 1628 1746 1628 1750 1625 1749 1622 1751 1620 1748z"/>
<path fill="#23591a" d="M1702 1631 1705 1634 1708 1635 1707 1639 1710 1642 1707 1644 1705 1647 1702 1647 1698 1648 1697 1643 1693 1642 1696 1639 1696 1635 1699 1634z"/>
<path fill="#92d45e" d="M1701 1631 1703 1634 1707 1633 1706 1637 1707 1640 1705 1642 1704 1645 1701 1643 1697 1646 1697 1641 1694 1640 1695 1637 1695 1634 1699 1634z"/>
<path fill="#23591a" d="M1657 1727 1660 1729 1665 1728 1665 1733 1669 1735 1664 1738 1665 1743 1660 1742 1658 1748 1655 1743 1651 1743 1650 1740 1646 1737 1651 1734 1649 1729 1654 1729z"/>
<path fill="#92d45e" d="M1655 1725 1659 1728 1665 1729 1662 1734 1664 1739 1659 1739 1657 1744 1653 1740 1649 1739 1649 1735 1648 1731 1652 1729z"/>
<path fill="#23591a" d="M1623 1707 1623 1703 1619 1700 1623 1698 1623 1694 1628 1696 1631 1693 1632 1697 1637 1696 1636 1700 1639 1703 1635 1705 1635 1709 1631 1708 1628 1712 1626 1707z"/>
<path fill="#b8e686" d="M1623 1705 1623 1702 1620 1699 1623 1697 1623 1693 1627 1695 1629 1692 1631 1695 1634 1695 1634 1698 1637 1701 1633 1703 1633 1707 1630 1706 1627 1708 1625 1706z"/>
<path fill="#2b6a1d" d="M1665 1594 1670 1592 1672 1586 1677 1589 1682 1588 1682 1594 1688 1597 1684 1601 1684 1607 1678 1606 1674 1609 1671 1604 1666 1603 1668 1599z"/>
<path fill="#aae276" d="M1664 1592 1669 1591 1671 1588 1674 1590 1678 1586 1679 1592 1685 1592 1681 1596 1683 1600 1680 1602 1678 1606 1674 1604 1671 1605 1669 1602 1665 1600 1666 1597z"/>
<path fill="#2b6a1d" d="M1570 1738 1571 1733 1568 1728 1572 1725 1574 1721 1579 1722 1585 1719 1586 1725 1591 1728 1587 1732 1589 1739 1583 1738 1579 1744 1575 1739z"/>
<path fill="#b8e686" d="M1571 1735 1571 1731 1569 1728 1571 1725 1571 1720 1576 1721 1579 1719 1581 1723 1586 1723 1585 1727 1589 1730 1584 1732 1585 1737 1580 1737 1577 1740 1574 1736z"/>
<path fill="#2b6a1d" d="M1680 1629 1675 1630 1672 1634 1669 1630 1664 1630 1665 1626 1662 1622 1666 1620 1667 1615 1671 1616 1676 1613 1678 1619 1682 1621 1679 1625z"/>
<path fill="#86cc52" d="M1678 1628 1673 1628 1670 1630 1667 1627 1663 1626 1664 1621 1664 1617 1668 1616 1672 1613 1674 1617 1679 1618 1676 1623z"/>
<path fill="#2b6a1d" d="M1608 1741 1610 1737 1611 1733 1615 1732 1619 1728 1622 1734 1628 1734 1626 1739 1629 1744 1624 1746 1622 1750 1617 1747 1612 1750 1612 1744z"/>
<path fill="#98d862" d="M1606 1740 1610 1735 1611 1731 1616 1732 1621 1730 1622 1734 1628 1737 1624 1741 1623 1746 1618 1746 1613 1747 1612 1742z"/>
<path fill="#2b6a1d" d="M1672 1597 1668 1593 1663 1595 1663 1590 1660 1587 1663 1584 1662 1580 1666 1580 1668 1574 1671 1579 1675 1577 1675 1582 1681 1583 1677 1587 1678 1591 1674 1591z"/>
<path fill="#92d45e" d="M1670 1592 1667 1591 1663 1591 1663 1587 1660 1584 1662 1581 1662 1576 1667 1578 1671 1574 1673 1578 1678 1580 1675 1584 1676 1588 1673 1590z"/>
<path fill="#316f22" d="M1637 1646 1633 1650 1633 1656 1627 1655 1622 1657 1620 1653 1615 1649 1619 1645 1619 1640 1624 1640 1629 1637 1631 1643z"/>
<path fill="#92d45e" d="M1634 1644 1631 1648 1632 1651 1628 1652 1626 1655 1623 1653 1619 1653 1618 1650 1614 1648 1618 1645 1616 1640 1621 1641 1623 1637 1626 1640 1629 1639 1630 1642z"/>
<path fill="#23591a" d="M1734 1713 1735 1709 1731 1705 1737 1703 1737 1699 1741 1699 1745 1694 1747 1700 1752 1699 1751 1704 1755 1708 1749 1709 1750 1715 1745 1713 1742 1716 1739 1714z"/>
<path fill="#92d45e" d="M1734 1711 1736 1706 1733 1703 1737 1701 1738 1696 1742 1697 1746 1696 1747 1701 1751 1703 1748 1706 1750 1711 1745 1711 1742 1715 1739 1711z"/>
<path fill="#2b6a1d" d="M1576 1699 1577 1702 1580 1704 1578 1707 1579 1711 1575 1711 1572 1715 1570 1711 1566 1711 1566 1707 1564 1704 1567 1702 1569 1699 1572 1699z"/>
<path fill="#98d862" d="M1574 1698 1575 1701 1578 1703 1577 1705 1577 1709 1574 1709 1571 1711 1569 1709 1566 1708 1566 1705 1563 1702 1567 1701 1568 1698 1571 1698z"/>
<path fill="#23591a" d="M1733 1696 1738 1697 1741 1693 1743 1697 1747 1698 1746 1701 1748 1705 1745 1707 1743 1710 1740 1708 1735 1710 1736 1705 1731 1703 1734 1700z"/>
<path fill="#b8e686" d="M1734 1695 1737 1695 1740 1692 1742 1696 1746 1696 1744 1700 1746 1703 1742 1704 1742 1708 1738 1706 1735 1706 1734 1703 1731 1702 1735 1699z"/>
<path fill="#2b6a1d" d="M1629 1731 1627 1725 1622 1725 1624 1720 1623 1716 1626 1713 1629 1709 1633 1712 1639 1710 1638 1716 1643 1719 1638 1722 1639 1728 1633 1727z"/>
<path fill="#86cc52" d="M1628 1727 1627 1723 1622 1723 1623 1719 1622 1716 1624 1714 1625 1711 1629 1712 1632 1710 1634 1713 1638 1713 1637 1716 1641 1720 1635 1721 1635 1725 1632 1725z"/>
<path fill="#23591a" d="M1597 1634 1592 1634 1589 1639 1586 1634 1582 1634 1582 1630 1580 1626 1583 1624 1585 1619 1589 1621 1593 1620 1594 1624 1599 1626 1596 1630z"/>
<path fill="#b8e686" d="M1594 1632 1590 1631 1589 1635 1586 1633 1582 1633 1582 1630 1578 1628 1583 1625 1581 1621 1585 1622 1587 1618 1590 1621 1593 1620 1593 1624 1596 1626 1594 1629z"/>
<path fill="#316f22" d="M1574 1678 1573 1685 1578 1689 1574 1693 1573 1699 1567 1696 1561 1698 1560 1693 1555 1689 1560 1684 1562 1679 1567 1681z"/>
<path fill="#aae276" d="M1572 1677 1572 1683 1575 1686 1573 1689 1573 1694 1569 1694 1565 1697 1563 1693 1557 1693 1558 1688 1557 1684 1561 1683 1562 1677 1566 1680z"/>
<path fill="#316f22" d="M1642 1596 1646 1599 1651 1602 1648 1607 1649 1614 1643 1614 1638 1617 1634 1612 1629 1609 1632 1604 1633 1599 1638 1598z"/>
<path fill="#92d45e" d="M1641 1593 1643 1598 1648 1598 1646 1603 1648 1606 1645 1608 1645 1613 1640 1610 1637 1613 1635 1609 1630 1610 1633 1605 1630 1602 1633 1600 1634 1596 1638 1596z"/>
<path fill="#316f22" d="M1582 1662 1586 1656 1585 1650 1591 1651 1596 1646 1599 1652 1604 1654 1601 1659 1603 1666 1596 1666 1591 1669 1589 1663z"/>
<path fill="#b8e686" d="M1584 1659 1585 1654 1585 1649 1590 1649 1594 1647 1597 1651 1603 1652 1599 1657 1600 1662 1595 1663 1591 1665 1588 1661z"/>
<path fill="#316f22" d="M1685 1755 1686 1750 1682 1748 1686 1745 1686 1741 1690 1742 1694 1740 1695 1744 1698 1746 1697 1749 1697 1752 1694 1753 1692 1757 1689 1753z"/>
<path fill="#b8e686" d="M1685 1752 1685 1748 1682 1745 1686 1743 1688 1740 1691 1742 1695 1741 1695 1745 1697 1749 1694 1751 1692 1755 1688 1752z"/>
<path fill="#23591a" d="M1733 1724 1730 1721 1724 1722 1727 1716 1724 1713 1728 1711 1727 1706 1731 1706 1735 1703 1737 1708 1741 1708 1740 1712 1743 1715 1741 1718 1740 1722 1736 1722z"/>
<path fill="#aae276" d="M1732 1722 1729 1719 1725 1717 1727 1713 1723 1710 1728 1708 1729 1704 1733 1706 1737 1705 1738 1708 1742 1711 1739 1715 1740 1720 1735 1719z"/>
<path fill="#2b6a1d" d="M1711 1633 1712 1638 1717 1642 1712 1646 1710 1651 1705 1650 1699 1652 1698 1645 1695 1641 1698 1637 1700 1632 1705 1635z"/>
<path fill="#aae276" d="M1710 1631 1711 1636 1714 1639 1711 1643 1710 1647 1706 1646 1703 1651 1700 1646 1696 1645 1697 1641 1695 1637 1699 1636 1701 1631 1705 1633z"/>
<path fill="#316f22" d="M1692 1715 1689 1716 1688 1720 1684 1718 1680 1720 1680 1715 1675 1715 1677 1711 1675 1707 1680 1706 1680 1701 1685 1704 1688 1703 1689 1706 1695 1707 1691 1711z"/>
<path fill="#92d45e" d="M1692 1713 1688 1714 1686 1718 1683 1716 1680 1716 1679 1713 1674 1713 1676 1709 1676 1706 1679 1705 1680 1702 1683 1702 1686 1702 1688 1705 1692 1706 1689 1709z"/>
<path fill="#2b6a1d" d="M1577 1732 1581 1729 1580 1725 1585 1727 1587 1723 1590 1727 1594 1726 1593 1730 1596 1733 1592 1735 1593 1739 1588 1738 1586 1740 1584 1738 1580 1738 1581 1734z"/>
<path fill="#86cc52" d="M1577 1730 1581 1729 1580 1724 1584 1725 1586 1723 1588 1726 1592 1725 1590 1729 1593 1731 1590 1733 1591 1737 1587 1736 1585 1738 1583 1735 1579 1736 1580 1733z"/>
<path fill="#316f22" d="M1634 1634 1628 1633 1625 1634 1622 1630 1618 1630 1618 1626 1615 1623 1619 1620 1619 1616 1624 1617 1628 1613 1630 1617 1636 1617 1634 1622 1638 1626 1633 1629z"/>
<path fill="#86cc52" d="M1631 1631 1627 1630 1623 1632 1621 1629 1616 1629 1619 1624 1615 1621 1619 1619 1619 1615 1623 1617 1626 1612 1629 1616 1632 1618 1631 1621 1634 1624 1630 1626z"/>
<path fill="#316f22" d="M1720 1630 1716 1634 1714 1639 1708 1638 1703 1638 1701 1633 1698 1628 1703 1625 1705 1620 1710 1622 1715 1621 1717 1626z"/>
<path fill="#92d45e" d="M1717 1629 1713 1631 1714 1635 1710 1634 1707 1637 1705 1633 1700 1635 1702 1630 1697 1627 1701 1624 1701 1620 1706 1621 1709 1617 1711 1621 1715 1622 1715 1625z"/>
<path fill="#2b6a1d" d="M1746 1719 1741 1719 1739 1723 1736 1719 1731 1720 1733 1715 1729 1713 1733 1710 1731 1705 1736 1707 1738 1703 1741 1705 1745 1705 1745 1709 1749 1712 1745 1715z"/>
<path fill="#92d45e" d="M1743 1716 1740 1717 1737 1720 1734 1716 1731 1715 1731 1712 1728 1708 1733 1707 1734 1703 1738 1704 1742 1702 1742 1707 1747 1709 1743 1713z"/>
<path fill="#2b6a1d" d="M1640 1708 1638 1711 1637 1714 1634 1715 1631 1717 1628 1714 1624 1713 1625 1709 1624 1706 1628 1705 1630 1701 1633 1702 1636 1702 1637 1706z"/>
<path fill="#b8e686" d="M1639 1707 1635 1709 1635 1712 1632 1712 1629 1716 1628 1711 1624 1711 1625 1707 1624 1704 1627 1704 1629 1701 1632 1701 1635 1701 1636 1704z"/>
<path fill="#23591a" d="M1627 1706 1629 1710 1632 1711 1631 1714 1633 1718 1629 1719 1627 1722 1624 1721 1620 1720 1620 1717 1617 1714 1620 1712 1620 1708 1624 1708z"/>
<path fill="#92d45e" d="M1626 1704 1627 1709 1631 1709 1630 1713 1630 1716 1627 1716 1626 1720 1623 1717 1619 1719 1619 1715 1617 1713 1620 1710 1619 1707 1623 1708z"/>
<path fill="#23591a" d="M1604 1657 1601 1659 1598 1662 1595 1659 1591 1660 1591 1657 1588 1654 1590 1651 1590 1646 1595 1647 1598 1646 1600 1648 1604 1650 1602 1654z"/>
<path fill="#98d862" d="M1603 1656 1598 1656 1597 1659 1595 1657 1592 1660 1591 1656 1588 1655 1590 1652 1588 1649 1592 1649 1593 1646 1595 1647 1598 1646 1599 1649 1603 1649 1600 1652z"/>
<path fill="#316f22" d="M1680 1671 1683 1668 1683 1664 1687 1664 1691 1662 1692 1666 1697 1668 1694 1672 1694 1676 1689 1676 1685 1677 1683 1674z"/>
<path fill="#98d862" d="M1680 1669 1682 1667 1680 1664 1684 1664 1685 1662 1688 1664 1691 1662 1691 1666 1693 1667 1692 1669 1693 1672 1690 1673 1688 1675 1686 1673 1683 1673 1682 1671z"/>
<path fill="#23591a" d="M1608 1658 1604 1662 1605 1666 1602 1668 1600 1671 1596 1670 1592 1671 1592 1666 1586 1665 1590 1661 1588 1657 1592 1657 1593 1652 1597 1655 1601 1653 1602 1657z"/>
<path fill="#86cc52" d="M1604 1657 1601 1661 1602 1666 1598 1666 1594 1669 1592 1664 1588 1663 1590 1659 1588 1653 1594 1655 1597 1652 1600 1655z"/>
<path fill="#2b6a1d" d="M1673 1758 1670 1755 1666 1754 1666 1750 1664 1746 1669 1744 1671 1740 1675 1744 1680 1744 1678 1749 1679 1752 1676 1755z"/>
<path fill="#86cc52" d="M1672 1756 1669 1752 1665 1752 1666 1748 1665 1745 1668 1744 1670 1741 1673 1743 1677 1743 1677 1747 1678 1751 1674 1752z"/>
<path fill="#316f22" d="M1617 1675 1620 1671 1617 1666 1622 1666 1625 1662 1628 1665 1633 1663 1633 1668 1636 1672 1633 1675 1633 1680 1628 1678 1624 1682 1621 1677z"/>
<path fill="#86cc52" d="M1617 1673 1618 1669 1617 1665 1621 1664 1624 1661 1627 1663 1632 1662 1631 1667 1634 1670 1632 1673 1630 1677 1626 1676 1622 1680 1621 1675z"/>
<path fill="#23591a" d="M1591 1708 1596 1710 1602 1708 1602 1714 1606 1717 1603 1720 1602 1725 1597 1724 1592 1725 1591 1720 1587 1717 1591 1714z"/>
<path fill="#aae276" d="M1591 1708 1595 1710 1598 1706 1599 1710 1603 1711 1602 1714 1603 1717 1600 1719 1600 1723 1596 1721 1593 1724 1592 1720 1589 1719 1589 1716 1587 1713 1591 1712z"/>
<path fill="#23591a" d="M1740 1702 1735 1703 1734 1706 1731 1704 1727 1707 1726 1703 1723 1701 1725 1698 1724 1695 1727 1694 1727 1690 1731 1693 1734 1691 1735 1694 1739 1695 1738 1699z"/>
<path fill="#86cc52" d="M1736 1700 1733 1702 1731 1705 1728 1701 1724 1701 1724 1697 1723 1694 1726 1693 1729 1689 1732 1692 1735 1693 1734 1696z"/>
<path fill="#316f22" d="M1684 1700 1686 1704 1689 1705 1689 1709 1690 1713 1685 1713 1683 1717 1680 1715 1676 1715 1675 1711 1673 1708 1675 1705 1676 1701 1681 1703z"/>
<path fill="#b8e686" d="M1682 1700 1685 1703 1689 1705 1686 1709 1686 1712 1682 1712 1678 1715 1676 1711 1673 1709 1675 1706 1675 1701 1679 1702z"/>
<path fill="#316f22" d="M1675 1616 1678 1611 1675 1607 1680 1607 1682 1603 1685 1605 1690 1603 1690 1608 1694 1611 1689 1614 1689 1618 1685 1618 1682 1620 1680 1616z"/>
<path fill="#98d862" d="M1675 1614 1676 1610 1675 1606 1678 1605 1680 1601 1684 1604 1687 1603 1688 1607 1690 1609 1688 1612 1687 1615 1684 1614 1681 1618 1679 1614z"/>
<path fill="#316f22" d="M1637 1602 1641 1599 1642 1595 1645 1597 1649 1593 1650 1597 1654 1599 1652 1602 1655 1606 1650 1607 1648 1610 1645 1608 1640 1609 1641 1604z"/>
<path fill="#aae276" d="M1638 1600 1640 1598 1639 1594 1643 1595 1645 1593 1647 1596 1651 1595 1650 1599 1652 1601 1651 1603 1651 1606 1647 1605 1645 1608 1643 1605 1640 1605 1641 1602z"/>
<path fill="#23591a" d="M1717 1729 1714 1731 1711 1733 1708 1731 1704 1734 1704 1728 1700 1727 1703 1724 1701 1720 1705 1719 1706 1714 1710 1718 1714 1717 1715 1720 1719 1722 1716 1726z"/>
<path fill="#86cc52" d="M1715 1727 1711 1728 1708 1731 1704 1729 1699 1728 1701 1723 1701 1719 1705 1718 1708 1715 1711 1717 1716 1718 1714 1723z"/>
<path fill="#23591a" d="M1601 1722 1598 1728 1600 1734 1593 1734 1590 1739 1586 1735 1580 1734 1581 1728 1580 1722 1586 1722 1590 1716 1594 1721z"/>
<path fill="#98d862" d="M1597 1722 1596 1725 1599 1729 1594 1731 1593 1734 1590 1734 1586 1736 1584 1733 1579 1732 1582 1727 1578 1724 1583 1722 1584 1719 1588 1720 1591 1717 1593 1721z"/>
<path fill="#23591a" d="M1636 1578 1635 1582 1638 1585 1634 1587 1633 1591 1629 1589 1626 1593 1625 1588 1621 1588 1622 1584 1619 1581 1623 1580 1623 1576 1627 1577 1630 1575 1632 1578z"/>
<path fill="#86cc52" d="M1634 1577 1632 1581 1634 1584 1631 1586 1630 1590 1626 1588 1622 1589 1622 1585 1618 1583 1621 1580 1621 1576 1625 1576 1628 1573 1630 1577z"/>
<path fill="#23591a" d="M1645 1710 1649 1713 1656 1712 1655 1719 1656 1724 1651 1726 1648 1732 1643 1727 1638 1726 1638 1721 1635 1715 1642 1714z"/>
<path fill="#92d45e" d="M1644 1709 1648 1711 1653 1710 1652 1716 1656 1719 1652 1722 1651 1726 1646 1726 1642 1728 1641 1723 1635 1722 1638 1718 1636 1713 1641 1712z"/>
<path fill="#23591a" d="M1639 1758 1635 1756 1631 1758 1631 1752 1625 1751 1630 1747 1627 1743 1632 1742 1634 1737 1638 1741 1641 1740 1643 1743 1648 1745 1645 1749 1646 1753 1641 1754z"/>
<path fill="#b8e686" d="M1638 1755 1633 1754 1628 1754 1629 1748 1626 1744 1630 1741 1633 1736 1637 1740 1642 1740 1642 1745 1645 1749 1640 1751z"/>
<path fill="#23591a" d="M1752 1668 1751 1675 1753 1680 1749 1683 1747 1689 1742 1686 1735 1687 1736 1680 1732 1675 1738 1672 1741 1668 1745 1670z"/>
<path fill="#86cc52" d="M1749 1669 1749 1673 1753 1677 1748 1679 1748 1684 1744 1683 1740 1684 1738 1681 1733 1680 1735 1675 1735 1672 1738 1670 1741 1666 1744 1670z"/>
<path fill="#316f22" d="M1665 1611 1668 1605 1665 1599 1671 1598 1676 1593 1680 1599 1685 1601 1683 1606 1684 1611 1679 1612 1675 1617 1671 1612z"/>
<path fill="#98d862" d="M1666 1609 1666 1604 1666 1599 1671 1598 1674 1595 1678 1598 1683 1600 1680 1604 1683 1610 1677 1610 1673 1614 1670 1610z"/>
<path fill="#23591a" d="M1718 1726 1721 1722 1721 1717 1726 1717 1729 1714 1732 1718 1737 1718 1735 1723 1738 1727 1734 1729 1732 1733 1728 1732 1723 1734 1722 1729z"/>
<path fill="#92d45e" d="M1718 1724 1722 1721 1719 1717 1724 1717 1726 1713 1729 1716 1733 1715 1733 1719 1737 1721 1733 1724 1735 1728 1731 1728 1729 1731 1726 1729 1722 1730 1722 1726z"/>
<path fill="#2b6a1d" d="M1635 1640 1631 1637 1627 1638 1627 1633 1621 1632 1625 1628 1624 1623 1628 1623 1631 1619 1634 1623 1639 1621 1638 1626 1643 1627 1640 1631 1641 1635 1637 1636z"/>
<path fill="#86cc52" d="M1633 1636 1630 1634 1625 1635 1625 1631 1623 1628 1625 1625 1627 1621 1630 1621 1634 1619 1635 1624 1641 1624 1638 1628 1640 1632 1636 1634z"/>
<path fill="#2b6a1d" d="M1627 1567 1631 1571 1635 1571 1634 1575 1637 1580 1632 1581 1629 1584 1626 1581 1621 1581 1621 1576 1619 1572 1625 1571z"/>
<path fill="#98d862" d="M1626 1566 1629 1569 1633 1570 1632 1574 1635 1578 1630 1579 1628 1582 1624 1580 1621 1578 1622 1575 1620 1571 1624 1570z"/>
<path fill="#2b6a1d" d="M1705 1702 1700 1701 1695 1703 1695 1697 1690 1695 1695 1692 1696 1687 1700 1689 1704 1687 1706 1691 1710 1694 1705 1697z"/>
<path fill="#98d862" d="M1702 1699 1699 1698 1695 1699 1694 1696 1692 1693 1694 1690 1695 1686 1699 1688 1702 1686 1704 1690 1706 1693 1703 1695z"/>
<path fill="#2b6a1d" d="M1729 1695 1731 1689 1730 1685 1734 1683 1736 1679 1740 1682 1744 1683 1745 1687 1747 1692 1742 1693 1739 1696 1735 1695z"/>
<path fill="#92d45e" d="M1729 1692 1730 1688 1727 1685 1731 1684 1731 1679 1735 1680 1737 1677 1739 1681 1743 1682 1742 1685 1744 1688 1742 1690 1742 1694 1738 1693 1735 1696 1733 1692z"/>
<path fill="#316f22" d="M1695 1638 1691 1635 1686 1634 1688 1629 1684 1624 1690 1623 1691 1616 1696 1619 1701 1619 1702 1623 1707 1626 1704 1630 1704 1636 1698 1635z"/>
<path fill="#86cc52" d="M1694 1636 1691 1631 1686 1630 1687 1626 1686 1620 1691 1620 1695 1615 1699 1620 1702 1622 1701 1627 1702 1632 1697 1632z"/>
<path fill="#316f22" d="M1711 1718 1708 1715 1704 1713 1706 1708 1703 1703 1709 1703 1710 1697 1714 1701 1720 1698 1720 1704 1724 1707 1719 1710 1720 1716 1715 1715z"/>
<path fill="#98d862" d="M1710 1716 1708 1711 1704 1711 1706 1707 1702 1702 1707 1701 1710 1698 1713 1700 1717 1699 1718 1703 1722 1706 1718 1709 1719 1714 1714 1712z"/>
<path fill="#23591a" d="M1662 1628 1662 1632 1661 1636 1658 1638 1654 1641 1651 1637 1646 1636 1648 1631 1647 1627 1652 1626 1655 1623 1658 1627z"/>
<path fill="#92d45e" d="M1661 1626 1659 1630 1660 1633 1657 1634 1655 1638 1652 1636 1648 1637 1649 1632 1645 1630 1649 1628 1649 1624 1652 1625 1655 1623 1657 1626z"/>
<path fill="#316f22" d="M1645 1614 1648 1612 1650 1608 1654 1609 1659 1608 1658 1614 1663 1616 1660 1619 1660 1624 1655 1623 1652 1626 1650 1622 1646 1622 1647 1618z"/>
<path fill="#aae276" d="M1644 1612 1648 1611 1649 1606 1653 1609 1656 1608 1658 1612 1661 1614 1658 1617 1659 1622 1654 1621 1651 1623 1649 1620 1645 1620 1645 1616z"/>
<path fill="#2b6a1d" d="M1673 1610 1669 1610 1667 1613 1664 1610 1659 1611 1660 1607 1657 1604 1659 1601 1660 1597 1663 1598 1666 1592 1669 1597 1673 1596 1672 1601 1677 1603 1673 1606z"/>
<path fill="#98d862" d="M1672 1608 1667 1609 1663 1612 1661 1606 1657 1605 1659 1601 1658 1596 1663 1596 1667 1592 1669 1597 1673 1599 1672 1604z"/>
<path fill="#316f22" d="M1706 1643 1706 1649 1707 1654 1702 1656 1699 1660 1695 1658 1689 1658 1690 1652 1687 1646 1693 1644 1696 1640 1701 1642z"/>
<path fill="#aae276" d="M1704 1642 1703 1647 1705 1651 1701 1653 1701 1659 1696 1655 1692 1658 1691 1653 1688 1651 1689 1647 1688 1643 1693 1642 1696 1638 1699 1643z"/>
<path fill="#23591a" d="M1614 1719 1620 1719 1622 1712 1627 1717 1631 1718 1632 1722 1634 1726 1630 1729 1631 1736 1625 1733 1620 1735 1618 1731 1612 1729 1616 1724z"/>
<path fill="#86cc52" d="M1613 1718 1619 1718 1621 1713 1625 1717 1630 1716 1629 1721 1632 1725 1629 1728 1627 1731 1623 1731 1619 1734 1617 1729 1613 1727 1615 1723z"/>
<path fill="#23591a" d="M1708 1709 1710 1713 1716 1713 1714 1717 1716 1721 1712 1723 1711 1728 1707 1726 1703 1729 1701 1725 1696 1724 1698 1720 1694 1715 1699 1713 1700 1710 1705 1711z"/>
<path fill="#b8e686" d="M1707 1708 1709 1711 1713 1712 1712 1716 1714 1719 1709 1721 1710 1725 1706 1724 1702 1726 1701 1722 1697 1721 1698 1718 1695 1714 1699 1712 1699 1708 1703 1710z"/>
<path fill="#316f22" d="M1755 1684 1751 1685 1750 1689 1746 1687 1742 1687 1741 1683 1736 1681 1740 1677 1740 1672 1745 1673 1748 1671 1751 1674 1755 1676 1753 1680z"/>
<path fill="#aae276" d="M1753 1682 1750 1683 1748 1687 1745 1685 1741 1685 1740 1681 1738 1679 1741 1676 1740 1672 1744 1673 1747 1670 1750 1673 1754 1674 1751 1678z"/>
<path fill="#316f22" d="M1663 1736 1669 1735 1671 1729 1675 1733 1680 1732 1681 1737 1685 1740 1681 1743 1682 1749 1677 1748 1673 1752 1670 1747 1665 1746 1666 1741z"/>
<path fill="#b8e686" d="M1664 1736 1669 1734 1672 1730 1676 1733 1680 1733 1680 1738 1683 1743 1678 1745 1675 1749 1671 1745 1665 1746 1666 1740z"/>
<path fill="#23591a" d="M1625 1613 1629 1615 1634 1613 1634 1618 1638 1621 1634 1624 1633 1628 1629 1628 1626 1632 1623 1628 1618 1627 1621 1622 1618 1618 1623 1617z"/>
<path fill="#aae276" d="M1624 1613 1627 1614 1631 1613 1631 1617 1635 1618 1633 1621 1635 1625 1630 1625 1629 1628 1626 1627 1622 1627 1622 1624 1618 1623 1620 1619 1620 1616 1623 1616z"/>
<path fill="#2b6a1d" d="M1617 1660 1614 1656 1608 1655 1612 1649 1610 1645 1614 1643 1617 1639 1622 1642 1627 1641 1626 1646 1632 1650 1627 1653 1628 1660 1621 1658z"/>
<path fill="#86cc52" d="M1616 1658 1614 1653 1609 1652 1612 1648 1610 1644 1614 1642 1616 1638 1620 1642 1625 1640 1626 1645 1629 1648 1625 1651 1625 1657 1620 1655z"/>
<path fill="#2b6a1d" d="M1684 1615 1685 1620 1688 1624 1683 1626 1682 1631 1678 1629 1673 1630 1674 1625 1670 1621 1674 1619 1675 1614 1680 1615z"/>
<path fill="#aae276" d="M1683 1614 1682 1619 1686 1622 1682 1624 1681 1629 1677 1626 1673 1627 1673 1623 1671 1620 1673 1617 1674 1613 1678 1616z"/>
<path fill="#23591a" d="M1725 1666 1721 1668 1719 1674 1714 1671 1708 1672 1708 1666 1702 1664 1707 1660 1707 1654 1712 1654 1716 1650 1720 1654 1724 1656 1723 1661z"/>
<path fill="#98d862" d="M1722 1664 1718 1665 1718 1669 1714 1668 1710 1670 1708 1666 1704 1665 1706 1661 1703 1657 1707 1655 1709 1652 1713 1653 1717 1650 1718 1655 1724 1656 1720 1660z"/>
<path fill="#2b6a1d" d="M1617 1703 1615 1697 1611 1696 1612 1693 1609 1689 1613 1687 1614 1683 1618 1683 1621 1681 1623 1685 1629 1685 1626 1690 1629 1693 1624 1695 1625 1700 1620 1699z"/>
<path fill="#92d45e" d="M1616 1698 1614 1694 1609 1694 1611 1690 1609 1685 1614 1685 1616 1680 1619 1684 1623 1683 1624 1686 1627 1689 1624 1692 1624 1697 1619 1696z"/>
<path fill="#23591a" d="M1585 1587 1589 1589 1594 1586 1595 1591 1600 1593 1596 1597 1599 1601 1594 1602 1593 1607 1589 1603 1585 1606 1584 1601 1580 1600 1581 1596 1579 1592 1583 1590z"/>
<path fill="#98d862" d="M1585 1586 1588 1588 1592 1586 1593 1590 1596 1592 1594 1595 1598 1599 1593 1600 1591 1604 1588 1601 1584 1604 1584 1599 1578 1599 1580 1595 1579 1591 1584 1590z"/>
<path fill="#23591a" d="M1733 1665 1732 1670 1734 1674 1730 1676 1727 1678 1724 1677 1720 1676 1721 1672 1719 1668 1723 1667 1725 1664 1728 1665z"/>
<path fill="#86cc52" d="M1730 1665 1729 1669 1731 1672 1728 1674 1726 1677 1723 1675 1718 1675 1720 1670 1717 1667 1722 1666 1723 1662 1727 1664z"/>
<path fill="#316f22" d="M1713 1604 1712 1608 1712 1611 1709 1613 1707 1616 1704 1615 1700 1615 1700 1611 1696 1609 1700 1606 1699 1601 1703 1602 1707 1601 1709 1603z"/>
<path fill="#92d45e" d="M1710 1604 1709 1607 1711 1611 1706 1611 1704 1614 1701 1611 1698 1610 1698 1606 1697 1602 1701 1602 1704 1599 1707 1603z"/>
<path fill="#316f22" d="M1613 1722 1615 1717 1611 1711 1618 1710 1621 1704 1625 1709 1630 1711 1629 1716 1632 1722 1626 1722 1622 1727 1619 1722z"/>
<path fill="#aae276" d="M1612 1720 1613 1716 1612 1712 1615 1710 1617 1705 1621 1708 1626 1706 1625 1711 1630 1713 1627 1717 1628 1722 1623 1721 1620 1723 1617 1721z"/>
<path fill="#23591a" d="M1638 1647 1643 1653 1648 1652 1649 1658 1651 1663 1646 1666 1643 1671 1638 1667 1633 1667 1632 1662 1629 1656 1636 1654z"/>
<path fill="#b8e686" d="M1637 1649 1641 1651 1645 1649 1645 1654 1651 1655 1647 1659 1648 1663 1644 1664 1642 1668 1638 1664 1634 1666 1633 1662 1628 1661 1632 1657 1631 1652 1635 1652z"/>
<path fill="#316f22" d="M1587 1625 1588 1630 1592 1632 1589 1636 1588 1640 1585 1640 1580 1643 1579 1637 1576 1635 1579 1632 1578 1628 1583 1629z"/>
<path fill="#92d45e" d="M1585 1626 1586 1629 1590 1631 1587 1634 1587 1638 1583 1638 1580 1639 1579 1635 1576 1633 1578 1630 1578 1627 1581 1627z"/>
<path fill="#23591a" d="M1702 1654 1701 1650 1699 1645 1704 1643 1705 1637 1710 1639 1716 1636 1717 1643 1721 1645 1718 1649 1721 1656 1714 1655 1710 1660 1707 1655z"/>
<path fill="#92d45e" d="M1700 1653 1701 1648 1699 1645 1703 1643 1702 1638 1707 1638 1710 1636 1712 1640 1717 1640 1716 1644 1719 1647 1715 1649 1716 1655 1712 1654 1708 1656 1706 1653z"/>
<path fill="#2b6a1d" d="M1601 1640 1605 1638 1605 1633 1610 1635 1614 1632 1616 1636 1621 1638 1617 1642 1619 1647 1615 1648 1612 1654 1608 1648 1602 1650 1602 1644z"/>
<path fill="#98d862" d="M1600 1639 1603 1636 1603 1632 1608 1634 1610 1630 1612 1634 1618 1633 1616 1638 1619 1641 1615 1643 1616 1648 1611 1646 1608 1650 1606 1646 1602 1646 1602 1642z"/>
<path fill="#2b6a1d" d="M1599 1586 1601 1582 1601 1578 1605 1578 1608 1575 1610 1579 1615 1580 1613 1584 1612 1588 1609 1589 1605 1591 1603 1587z"/>
<path fill="#92d45e" d="M1598 1584 1601 1581 1599 1578 1602 1577 1603 1575 1606 1576 1608 1576 1609 1578 1613 1579 1610 1582 1612 1585 1609 1585 1608 1588 1605 1586 1603 1587 1602 1585z"/>
<path fill="#23591a" d="M1592 1663 1593 1667 1598 1668 1594 1672 1596 1676 1591 1675 1588 1680 1586 1676 1581 1676 1582 1672 1581 1669 1584 1667 1584 1662 1588 1664z"/>
<path fill="#aae276" d="M1590 1662 1591 1665 1594 1666 1592 1669 1594 1672 1591 1673 1590 1676 1587 1674 1584 1675 1583 1673 1580 1671 1582 1669 1581 1666 1584 1665 1585 1662 1587 1663z"/>
<path fill="#316f22" d="M1625 1661 1622 1655 1617 1652 1619 1647 1618 1640 1625 1641 1629 1635 1633 1641 1639 1643 1636 1649 1636 1654 1631 1656z"/>
<path fill="#98d862" d="M1625 1656 1622 1652 1618 1651 1619 1647 1616 1642 1622 1641 1623 1636 1627 1640 1632 1638 1633 1642 1637 1645 1632 1649 1633 1653 1629 1654z"/>
<path fill="#316f22" d="M1628 1642 1631 1644 1635 1642 1636 1646 1640 1647 1637 1651 1640 1655 1635 1655 1634 1660 1631 1656 1627 1658 1626 1655 1623 1653 1624 1650 1623 1647 1627 1646z"/>
<path fill="#aae276" d="M1627 1641 1630 1643 1634 1642 1635 1645 1639 1648 1636 1651 1636 1655 1632 1654 1629 1657 1627 1654 1623 1653 1624 1650 1623 1646 1626 1645z"/>
<path fill="#23591a" d="M1697 1617 1696 1612 1689 1610 1693 1605 1694 1600 1699 1600 1702 1596 1706 1600 1712 1600 1709 1606 1714 1611 1708 1613 1706 1617 1701 1616z"/>
<path fill="#92d45e" d="M1696 1615 1695 1611 1692 1608 1694 1605 1692 1601 1697 1601 1698 1596 1701 1600 1706 1596 1707 1601 1711 1603 1708 1607 1710 1611 1706 1612 1704 1616 1700 1612z"/>
<path fill="#2b6a1d" d="M1628 1759 1626 1755 1622 1750 1627 1747 1629 1743 1633 1744 1638 1744 1639 1748 1643 1752 1638 1755 1637 1760 1632 1758z"/>
<path fill="#86cc52" d="M1627 1756 1626 1753 1622 1750 1626 1747 1626 1743 1630 1744 1633 1741 1635 1745 1639 1745 1638 1749 1641 1753 1636 1754 1634 1757 1631 1755z"/>
<path fill="#2b6a1d" d="M1710 1716 1706 1712 1701 1713 1700 1708 1696 1705 1701 1702 1700 1695 1705 1697 1709 1695 1712 1699 1716 1700 1714 1704 1718 1709 1713 1711z"/>
<path fill="#b8e686" d="M1709 1712 1704 1710 1699 1710 1699 1705 1697 1701 1702 1698 1704 1694 1708 1697 1713 1696 1713 1701 1715 1705 1711 1708z"/>
<path fill="#2b6a1d" d="M1648 1736 1645 1740 1648 1745 1642 1745 1640 1749 1636 1747 1632 1748 1632 1743 1628 1741 1631 1737 1628 1732 1634 1732 1636 1728 1639 1731 1643 1731 1645 1734z"/>
<path fill="#92d45e" d="M1645 1735 1644 1739 1645 1743 1639 1743 1637 1748 1634 1744 1628 1744 1631 1738 1627 1735 1632 1733 1633 1729 1637 1730 1641 1728 1642 1733z"/>
<path fill="#316f22" d="M1672 1754 1671 1757 1674 1761 1670 1763 1670 1768 1665 1766 1662 1768 1660 1764 1655 1764 1656 1759 1653 1756 1659 1754 1659 1750 1663 1750 1666 1749 1669 1752z"/>
<path fill="#86cc52" d="M1670 1752 1669 1756 1672 1759 1668 1761 1668 1765 1664 1763 1660 1767 1659 1762 1655 1762 1657 1758 1653 1754 1657 1753 1659 1750 1662 1750 1665 1747 1667 1751z"/>
<path fill="#23591a" d="M1589 1653 1587 1657 1589 1663 1584 1664 1580 1666 1576 1664 1571 1663 1572 1657 1567 1653 1574 1651 1575 1646 1579 1648 1584 1646 1585 1651z"/>
<path fill="#86cc52" d="M1589 1651 1586 1655 1587 1659 1583 1660 1581 1664 1577 1662 1574 1662 1572 1659 1569 1656 1572 1653 1569 1648 1575 1649 1576 1643 1579 1647 1584 1644 1584 1650z"/>
<path fill="#23591a" d="M1695 1635 1699 1637 1703 1636 1704 1640 1708 1642 1705 1645 1707 1649 1702 1648 1700 1653 1697 1649 1693 1649 1694 1645 1691 1642 1694 1640z"/>
<path fill="#92d45e" d="M1695 1636 1698 1637 1701 1635 1702 1638 1705 1639 1703 1642 1706 1645 1702 1645 1702 1649 1699 1647 1696 1649 1695 1646 1691 1646 1693 1642 1691 1640 1695 1639z"/>
<path fill="#23591a" d="M1618 1601 1622 1603 1627 1601 1626 1607 1631 1609 1628 1613 1629 1617 1625 1618 1623 1622 1619 1619 1614 1622 1613 1616 1610 1614 1612 1610 1612 1606 1616 1606z"/>
<path fill="#86cc52" d="M1617 1600 1620 1603 1624 1601 1624 1606 1628 1608 1626 1611 1628 1615 1623 1616 1621 1619 1618 1616 1613 1619 1613 1614 1608 1612 1612 1609 1610 1604 1615 1604z"/>
<path fill="#23591a" d="M1639 1601 1633 1599 1630 1604 1627 1599 1623 1598 1624 1594 1622 1589 1627 1588 1628 1584 1632 1586 1636 1586 1638 1589 1642 1592 1637 1595z"/>
<path fill="#b8e686" d="M1636 1597 1632 1598 1629 1599 1627 1597 1623 1596 1624 1592 1623 1589 1626 1587 1627 1583 1631 1586 1635 1583 1635 1588 1638 1591 1636 1593z"/>
<path fill="#23591a" d="M1664 1742 1669 1743 1673 1738 1676 1743 1682 1744 1681 1750 1682 1755 1677 1756 1675 1761 1670 1758 1664 1761 1664 1754 1659 1751 1664 1747z"/>
<path fill="#aae276" d="M1663 1741 1668 1741 1672 1738 1675 1742 1679 1743 1677 1748 1679 1752 1675 1754 1673 1758 1669 1756 1663 1758 1664 1752 1659 1749 1663 1746z"/>
<path fill="#23591a" d="M1700 1631 1702 1636 1708 1638 1703 1643 1704 1647 1699 1648 1696 1651 1692 1649 1686 1649 1688 1643 1684 1639 1690 1636 1691 1631 1696 1633z"/>
<path fill="#92d45e" d="M1699 1629 1700 1634 1703 1636 1702 1640 1705 1644 1700 1645 1698 1648 1694 1646 1690 1649 1689 1644 1685 1643 1687 1639 1685 1635 1690 1634 1691 1629 1695 1632z"/>
<path fill="#23591a" d="M1580 1697 1585 1693 1582 1688 1588 1690 1590 1684 1593 1689 1598 1687 1598 1692 1602 1694 1598 1697 1599 1701 1595 1702 1593 1706 1590 1703 1585 1703 1586 1698z"/>
<path fill="#98d862" d="M1581 1695 1585 1692 1584 1688 1588 1687 1591 1684 1594 1688 1598 1689 1597 1693 1599 1696 1595 1698 1594 1702 1590 1700 1585 1702 1585 1697z"/>
<path fill="#316f22" d="M1609 1640 1609 1635 1605 1632 1609 1630 1610 1625 1614 1628 1618 1627 1619 1631 1622 1634 1618 1636 1618 1641 1613 1640z"/>
<path fill="#aae276" d="M1608 1638 1607 1634 1605 1633 1607 1630 1606 1627 1609 1627 1611 1625 1614 1627 1617 1625 1617 1628 1619 1630 1617 1633 1619 1636 1615 1636 1614 1638 1611 1637z"/>
<path fill="#23591a" d="M1617 1696 1619 1693 1620 1688 1624 1690 1628 1687 1630 1691 1633 1693 1632 1696 1634 1701 1629 1701 1627 1705 1624 1703 1619 1704 1620 1699z"/>
<path fill="#aae276" d="M1615 1694 1619 1692 1619 1689 1622 1689 1625 1687 1627 1689 1630 1689 1630 1692 1633 1695 1630 1697 1630 1701 1626 1699 1624 1703 1622 1699 1618 1700 1619 1696z"/>
<path fill="#316f22" d="M1644 1661 1649 1662 1652 1658 1655 1662 1660 1662 1659 1667 1663 1670 1660 1673 1659 1678 1655 1678 1651 1680 1648 1677 1643 1678 1644 1672 1640 1669 1643 1665z"/>
<path fill="#92d45e" d="M1644 1661 1648 1660 1651 1658 1653 1662 1657 1661 1657 1665 1661 1668 1657 1671 1657 1675 1653 1674 1650 1679 1647 1674 1642 1675 1643 1671 1640 1667 1644 1665z"/>
<path fill="#2b6a1d" d="M1625 1744 1620 1742 1613 1743 1614 1737 1609 1732 1615 1730 1616 1723 1622 1726 1628 1724 1627 1731 1631 1735 1627 1739z"/>
<path fill="#92d45e" d="M1624 1743 1619 1740 1615 1741 1613 1737 1610 1734 1612 1730 1612 1726 1617 1726 1620 1722 1623 1727 1628 1726 1626 1731 1628 1735 1625 1737z"/>
<path fill="#2b6a1d" d="M1686 1625 1687 1620 1681 1617 1687 1614 1686 1608 1691 1610 1695 1607 1697 1613 1702 1613 1700 1618 1702 1622 1696 1622 1695 1627 1691 1625z"/>
<path fill="#98d862" d="M1685 1623 1686 1619 1683 1616 1686 1614 1685 1610 1688 1610 1691 1607 1693 1609 1697 1609 1697 1613 1701 1615 1697 1617 1697 1621 1694 1621 1692 1624 1690 1621z"/>
<path fill="#23591a" d="M1737 1697 1740 1703 1746 1701 1744 1706 1748 1709 1743 1712 1744 1717 1739 1716 1736 1719 1733 1717 1728 1717 1730 1711 1727 1708 1729 1705 1730 1701 1734 1702z"/>
<path fill="#b8e686" d="M1736 1697 1739 1700 1743 1700 1742 1705 1746 1708 1742 1710 1743 1715 1738 1714 1735 1716 1733 1713 1729 1714 1729 1710 1726 1707 1730 1704 1729 1700 1733 1701z"/>
<path fill="#23591a" d="M1695 1639 1700 1639 1703 1633 1707 1638 1711 1640 1710 1645 1711 1649 1706 1650 1702 1655 1699 1651 1695 1648 1696 1644z"/>
<path fill="#92d45e" d="M1694 1638 1699 1638 1701 1633 1704 1636 1708 1636 1707 1641 1710 1644 1707 1646 1706 1650 1702 1649 1699 1650 1698 1646 1693 1646 1696 1642z"/>
<path fill="#316f22" d="M1729 1696 1729 1701 1731 1706 1726 1707 1724 1713 1719 1709 1715 1708 1715 1703 1713 1699 1717 1697 1720 1693 1724 1696z"/>
<path fill="#98d862" d="M1728 1695 1726 1699 1730 1701 1727 1704 1726 1707 1722 1707 1720 1708 1718 1706 1713 1706 1714 1702 1712 1700 1716 1698 1715 1694 1719 1694 1721 1692 1723 1695z"/>
<path fill="#316f22" d="M1680 1762 1677 1759 1674 1759 1674 1755 1670 1752 1673 1749 1674 1746 1678 1746 1681 1743 1683 1746 1687 1746 1687 1750 1691 1753 1687 1755 1687 1760 1683 1759z"/>
<path fill="#aae276" d="M1679 1760 1676 1757 1672 1755 1672 1751 1671 1746 1676 1745 1679 1742 1682 1746 1686 1747 1686 1751 1687 1755 1682 1757z"/>
<path fill="#2b6a1d" d="M1574 1628 1579 1627 1580 1623 1584 1624 1587 1622 1590 1625 1594 1626 1592 1631 1594 1634 1590 1636 1590 1640 1586 1639 1582 1643 1580 1638 1575 1637 1576 1633z"/>
<path fill="#86cc52" d="M1575 1628 1579 1626 1579 1622 1583 1623 1586 1620 1588 1625 1592 1625 1590 1629 1594 1633 1589 1634 1588 1638 1584 1636 1581 1640 1580 1635 1574 1635 1577 1631z"/>
<path fill="#2b6a1d" d="M1685 1646 1682 1643 1676 1642 1679 1637 1676 1632 1682 1631 1683 1626 1687 1629 1692 1623 1693 1630 1699 1630 1696 1635 1698 1639 1694 1641 1694 1647 1689 1644z"/>
<path fill="#98d862" d="M1683 1645 1682 1640 1678 1639 1679 1635 1676 1631 1681 1630 1682 1626 1686 1627 1690 1624 1691 1629 1697 1629 1694 1634 1697 1637 1692 1638 1691 1643 1687 1641z"/>
<path fill="#2b6a1d" d="M1695 1742 1691 1744 1689 1748 1685 1745 1681 1744 1682 1739 1679 1735 1684 1734 1686 1730 1689 1734 1693 1734 1693 1738z"/>
<path fill="#92d45e" d="M1692 1740 1689 1741 1688 1743 1685 1742 1682 1743 1682 1739 1678 1738 1681 1735 1681 1732 1685 1732 1687 1729 1689 1733 1693 1733 1691 1737z"/>
<path fill="#2b6a1d" d="M1675 1739 1679 1739 1683 1735 1685 1739 1691 1739 1690 1744 1693 1748 1689 1750 1687 1754 1682 1752 1677 1755 1676 1750 1673 1747 1676 1744z"/>
<path fill="#98d862" d="M1674 1738 1678 1737 1681 1735 1684 1738 1689 1738 1688 1742 1691 1746 1686 1748 1685 1752 1681 1750 1677 1753 1676 1748 1672 1746 1675 1742z"/>
<path fill="#2b6a1d" d="M1602 1759 1600 1756 1597 1753 1597 1749 1595 1745 1600 1744 1601 1739 1605 1741 1610 1738 1610 1744 1617 1744 1613 1749 1615 1752 1612 1755 1611 1760 1606 1758z"/>
<path fill="#86cc52" d="M1601 1756 1600 1751 1595 1749 1597 1745 1598 1740 1603 1740 1608 1737 1609 1743 1614 1746 1612 1750 1611 1756 1606 1754z"/>
<path fill="#316f22" d="M1652 1608 1656 1612 1661 1614 1659 1619 1661 1624 1656 1626 1653 1631 1648 1627 1643 1629 1642 1623 1638 1619 1642 1615 1643 1611 1648 1610z"/>
<path fill="#92d45e" d="M1651 1606 1653 1612 1657 1612 1657 1616 1660 1620 1655 1621 1656 1627 1650 1625 1647 1627 1645 1623 1641 1623 1641 1619 1639 1615 1643 1614 1643 1609 1648 1611z"/>
<path fill="#23591a" d="M1659 1648 1664 1648 1667 1645 1670 1648 1674 1649 1673 1653 1676 1656 1672 1658 1672 1663 1668 1662 1663 1664 1662 1659 1659 1657 1661 1654z"/>
<path fill="#86cc52" d="M1660 1648 1664 1649 1666 1645 1668 1648 1673 1648 1672 1652 1675 1655 1671 1656 1670 1661 1666 1659 1663 1661 1662 1657 1658 1655 1661 1652z"/>
<path fill="#316f22" d="M1689 1591 1687 1597 1691 1601 1687 1604 1686 1610 1681 1607 1676 1611 1673 1606 1669 1603 1671 1598 1669 1592 1675 1592 1679 1588 1683 1591z"/>
<path fill="#aae276" d="M1686 1591 1687 1596 1689 1601 1684 1603 1681 1607 1677 1605 1671 1605 1671 1600 1668 1595 1674 1593 1676 1588 1681 1590z"/>
<path fill="#23591a" d="M1677 1633 1676 1637 1676 1640 1673 1642 1673 1647 1668 1644 1664 1646 1663 1642 1659 1641 1660 1637 1658 1633 1663 1632 1663 1626 1668 1630 1672 1627 1673 1632z"/>
<path fill="#98d862" d="M1676 1631 1674 1636 1675 1641 1669 1641 1666 1644 1663 1640 1658 1639 1660 1634 1658 1629 1664 1629 1668 1625 1670 1630z"/>
<path fill="#2b6a1d" d="M1705 1608 1712 1608 1715 1603 1719 1607 1724 1608 1724 1613 1725 1618 1719 1619 1716 1624 1712 1620 1707 1619 1709 1614z"/>
<path fill="#86cc52" d="M1706 1607 1710 1607 1711 1603 1715 1605 1719 1603 1720 1607 1724 1609 1722 1612 1722 1615 1719 1617 1717 1620 1714 1618 1710 1620 1710 1616 1706 1614 1708 1611z"/>
<path fill="#2b6a1d" d="M1750 1706 1747 1702 1742 1703 1742 1699 1738 1695 1743 1693 1744 1689 1748 1691 1751 1688 1753 1692 1757 1693 1755 1697 1755 1701 1752 1702z"/>
<path fill="#92d45e" d="M1748 1702 1745 1700 1740 1700 1741 1696 1741 1692 1744 1690 1746 1687 1750 1689 1753 1690 1752 1694 1755 1698 1751 1699z"/>
<path fill="#23591a" d="M1573 1698 1567 1697 1562 1698 1560 1692 1554 1689 1559 1684 1561 1678 1567 1680 1572 1677 1574 1683 1578 1688 1574 1692z"/>
<path fill="#aae276" d="M1571 1694 1566 1693 1561 1695 1560 1690 1554 1687 1559 1683 1560 1678 1565 1679 1571 1677 1572 1682 1575 1686 1573 1690z"/>
<path fill="#316f22" d="M1712 1642 1709 1641 1706 1641 1704 1638 1700 1636 1703 1632 1702 1628 1706 1628 1708 1625 1711 1626 1714 1626 1716 1629 1720 1631 1716 1634 1719 1639 1715 1639z"/>
<path fill="#92d45e" d="M1711 1640 1708 1638 1704 1640 1704 1636 1700 1634 1703 1631 1702 1628 1706 1628 1707 1623 1710 1626 1713 1624 1713 1628 1717 1630 1715 1633 1716 1636 1712 1636z"/>
<path fill="#23591a" d="M1628 1633 1626 1637 1626 1641 1621 1640 1617 1643 1616 1638 1611 1636 1615 1632 1615 1628 1619 1628 1623 1626 1625 1631z"/>
<path fill="#98d862" d="M1627 1632 1623 1634 1624 1638 1621 1637 1618 1641 1616 1637 1612 1637 1613 1633 1612 1630 1615 1629 1616 1625 1619 1627 1623 1626 1623 1630z"/>
<path fill="#2b6a1d" d="M1704 1616 1704 1611 1699 1609 1703 1606 1702 1601 1707 1602 1710 1598 1713 1603 1717 1603 1716 1607 1718 1611 1714 1613 1712 1617 1708 1615z"/>
<path fill="#92d45e" d="M1704 1613 1703 1610 1700 1608 1703 1605 1702 1602 1705 1602 1706 1598 1709 1600 1712 1600 1713 1603 1715 1605 1713 1607 1714 1611 1712 1612 1710 1615 1707 1612z"/>
<path fill="#23591a" d="M1632 1603 1635 1604 1639 1601 1641 1604 1645 1605 1644 1609 1646 1612 1643 1614 1643 1618 1640 1618 1636 1621 1634 1617 1630 1617 1631 1613 1628 1610 1631 1607z"/>
<path fill="#b8e686" d="M1632 1603 1635 1604 1637 1601 1639 1604 1642 1604 1641 1608 1645 1610 1641 1612 1641 1615 1638 1615 1636 1617 1634 1614 1630 1614 1631 1611 1628 1608 1631 1606z"/>
<path fill="#316f22" d="M1629 1622 1628 1626 1632 1627 1631 1630 1631 1633 1627 1633 1626 1638 1623 1635 1620 1635 1620 1632 1616 1631 1619 1628 1618 1625 1621 1624 1622 1621 1625 1623z"/>
<path fill="#b8e686" d="M1627 1621 1628 1624 1630 1627 1628 1629 1629 1633 1625 1632 1622 1635 1621 1631 1617 1631 1619 1628 1616 1625 1619 1623 1620 1620 1624 1622z"/>
<path fill="#23591a" d="M1613 1608 1609 1608 1605 1611 1602 1607 1598 1605 1599 1600 1600 1596 1604 1595 1608 1593 1611 1596 1616 1599 1614 1603z"/>
<path fill="#92d45e" d="M1613 1607 1608 1605 1606 1608 1603 1606 1600 1607 1600 1603 1597 1601 1599 1598 1598 1594 1603 1595 1605 1591 1607 1595 1611 1593 1611 1598 1615 1600 1611 1602z"/>
<path fill="#316f22" d="M1716 1680 1711 1684 1710 1690 1705 1688 1699 1691 1698 1685 1694 1681 1699 1677 1699 1672 1705 1673 1709 1672 1711 1677z"/>
<path fill="#98d862" d="M1713 1679 1709 1681 1710 1685 1706 1685 1704 1689 1701 1686 1696 1686 1697 1682 1695 1679 1697 1677 1697 1673 1701 1672 1703 1670 1706 1673 1709 1673 1709 1676z"/>
<path fill="#2b6a1d" d="M1653 1626 1656 1623 1657 1619 1661 1620 1665 1618 1667 1622 1670 1625 1667 1628 1666 1632 1662 1631 1659 1633 1657 1629z"/>
<path fill="#aae276" d="M1653 1625 1655 1622 1654 1619 1658 1620 1660 1616 1662 1618 1665 1619 1665 1622 1667 1623 1666 1626 1667 1629 1663 1629 1661 1631 1659 1629 1655 1630 1656 1626z"/>
<path fill="#316f22" d="M1706 1714 1701 1717 1700 1721 1696 1720 1692 1721 1691 1717 1688 1714 1691 1711 1692 1707 1696 1708 1700 1707 1702 1711z"/>
<path fill="#b8e686" d="M1703 1712 1699 1715 1699 1719 1695 1718 1691 1719 1690 1715 1688 1712 1691 1710 1691 1705 1695 1707 1699 1705 1699 1710z"/>
<path fill="#2b6a1d" d="M1635 1751 1629 1750 1626 1755 1623 1749 1618 1750 1619 1745 1616 1742 1619 1739 1617 1733 1623 1734 1626 1730 1629 1734 1635 1733 1635 1738 1638 1742 1633 1745z"/>
<path fill="#98d862" d="M1633 1748 1627 1748 1622 1751 1619 1746 1616 1743 1619 1739 1618 1733 1623 1733 1628 1731 1630 1735 1636 1737 1631 1742z"/>
<path fill="#2b6a1d" d="M1615 1669 1612 1665 1609 1664 1609 1660 1605 1656 1611 1655 1611 1650 1615 1653 1619 1651 1620 1655 1624 1657 1621 1660 1621 1664 1618 1665z"/>
<path fill="#92d45e" d="M1614 1666 1611 1662 1608 1661 1609 1657 1606 1653 1611 1653 1614 1649 1617 1653 1620 1654 1619 1657 1621 1662 1617 1663z"/>
<path fill="#316f22" d="M1575 1717 1570 1717 1564 1721 1562 1714 1557 1712 1561 1707 1560 1701 1565 1701 1570 1699 1573 1703 1579 1706 1574 1711z"/>
<path fill="#aae276" d="M1573 1714 1569 1714 1565 1718 1562 1713 1557 1713 1559 1708 1558 1704 1562 1703 1563 1699 1567 1700 1572 1698 1573 1703 1575 1706 1572 1709z"/>
<path fill="#2b6a1d" d="M1606 1736 1608 1740 1610 1741 1609 1744 1612 1747 1608 1749 1607 1752 1604 1750 1601 1753 1600 1749 1596 1750 1598 1746 1595 1743 1599 1742 1599 1738 1603 1739z"/>
<path fill="#86cc52" d="M1605 1735 1605 1740 1609 1740 1607 1743 1610 1746 1606 1747 1606 1750 1603 1749 1600 1751 1599 1747 1595 1748 1597 1744 1596 1742 1599 1741 1598 1736 1602 1739z"/>
<path fill="#2b6a1d" d="M1671 1672 1666 1672 1663 1679 1659 1674 1653 1675 1655 1669 1651 1665 1656 1662 1656 1657 1661 1658 1666 1656 1668 1661 1674 1663 1670 1667z"/>
<path fill="#86cc52" d="M1669 1670 1665 1671 1663 1674 1660 1671 1655 1673 1655 1668 1652 1667 1654 1663 1651 1658 1657 1659 1659 1654 1662 1657 1666 1656 1667 1660 1671 1663 1668 1666z"/>
<path fill="#2b6a1d" d="M1694 1656 1693 1653 1690 1650 1693 1647 1692 1643 1697 1645 1700 1643 1702 1645 1705 1646 1704 1650 1705 1653 1702 1654 1700 1657 1697 1655z"/>
<path fill="#86cc52" d="M1693 1654 1693 1650 1690 1649 1692 1647 1692 1644 1695 1644 1696 1641 1698 1643 1701 1643 1702 1645 1704 1647 1703 1649 1704 1653 1700 1653 1698 1656 1696 1654z"/>
<path fill="#23591a" d="M1629 1700 1632 1698 1635 1694 1639 1698 1643 1699 1643 1704 1644 1708 1639 1709 1636 1713 1632 1710 1627 1709 1629 1704z"/>
<path fill="#98d862" d="M1627 1698 1632 1698 1634 1694 1637 1697 1642 1698 1640 1702 1641 1706 1637 1707 1635 1709 1631 1708 1628 1706 1628 1702z"/>
<path fill="#23591a" d="M1651 1620 1654 1622 1659 1620 1659 1625 1663 1627 1661 1630 1663 1635 1657 1635 1656 1639 1652 1638 1648 1638 1647 1634 1643 1632 1646 1629 1644 1624 1648 1623z"/>
<path fill="#aae276" d="M1649 1617 1654 1621 1659 1621 1659 1626 1660 1630 1657 1633 1654 1636 1650 1634 1645 1635 1646 1629 1644 1626 1647 1623z"/>
<path fill="#316f22" d="M1736 1656 1733 1660 1733 1664 1729 1665 1726 1667 1724 1664 1719 1662 1722 1658 1721 1654 1726 1654 1729 1651 1732 1654z"/>
<path fill="#aae276" d="M1734 1655 1732 1658 1733 1662 1729 1662 1727 1665 1724 1662 1721 1663 1722 1659 1718 1657 1721 1655 1722 1651 1726 1652 1729 1650 1730 1654z"/>
<path fill="#23591a" d="M1613 1707 1618 1703 1619 1699 1624 1699 1629 1697 1630 1703 1634 1706 1630 1710 1629 1714 1624 1713 1619 1716 1618 1710z"/>
<path fill="#92d45e" d="M1614 1705 1617 1702 1617 1696 1623 1699 1627 1696 1629 1701 1631 1705 1629 1708 1628 1713 1623 1711 1618 1713 1617 1708z"/>
<path fill="#2b6a1d" d="M1655 1756 1654 1751 1651 1748 1653 1745 1649 1739 1655 1739 1657 1734 1661 1736 1666 1736 1667 1740 1670 1742 1669 1746 1672 1751 1665 1751 1664 1757 1660 1754z"/>
<path fill="#98d862" d="M1654 1753 1653 1748 1648 1746 1652 1742 1651 1737 1656 1737 1660 1734 1663 1738 1667 1738 1667 1742 1670 1747 1665 1748 1664 1754 1659 1750z"/>
<path fill="#316f22" d="M1613 1640 1617 1637 1619 1632 1624 1634 1629 1632 1631 1637 1634 1640 1632 1644 1632 1649 1628 1650 1624 1653 1621 1650 1614 1651 1615 1645z"/>
<path fill="#86cc52" d="M1613 1639 1616 1637 1617 1633 1622 1635 1625 1631 1627 1635 1631 1636 1630 1640 1634 1643 1628 1645 1628 1650 1624 1648 1621 1652 1618 1648 1615 1646 1616 1642z"/>
<path fill="#23591a" d="M1629 1733 1628 1737 1628 1742 1624 1743 1620 1745 1618 1742 1614 1740 1615 1736 1614 1731 1619 1731 1623 1728 1625 1732z"/>
<path fill="#86cc52" d="M1627 1732 1625 1735 1627 1739 1623 1739 1622 1743 1619 1740 1615 1741 1616 1737 1613 1735 1616 1733 1616 1729 1619 1729 1623 1727 1624 1731z"/>
<path fill="#316f22" d="M1714 1698 1719 1699 1721 1695 1724 1697 1728 1697 1728 1701 1731 1703 1729 1706 1730 1711 1725 1710 1723 1714 1720 1711 1716 1711 1716 1707 1713 1705 1715 1702z"/>
<path fill="#b8e686" d="M1713 1697 1718 1696 1722 1693 1725 1697 1730 1699 1726 1703 1727 1708 1723 1709 1719 1712 1717 1707 1712 1706 1715 1702z"/>
<path fill="#2b6a1d" d="M1637 1602 1634 1597 1629 1596 1632 1591 1629 1587 1634 1586 1635 1580 1639 1584 1644 1582 1645 1587 1648 1590 1644 1593 1645 1598 1640 1598z"/>
<path fill="#98d862" d="M1636 1597 1634 1594 1629 1594 1631 1590 1628 1586 1633 1585 1635 1581 1638 1583 1642 1582 1642 1586 1646 1589 1644 1592 1643 1596 1639 1595z"/>
<path fill="#2b6a1d" d="M1736 1694 1734 1689 1730 1689 1731 1685 1729 1682 1733 1680 1732 1675 1737 1678 1740 1674 1741 1679 1745 1679 1744 1683 1747 1686 1743 1688 1744 1693 1739 1690z"/>
<path fill="#b8e686" d="M1735 1689 1732 1687 1729 1685 1730 1681 1731 1677 1735 1676 1738 1674 1740 1678 1744 1680 1742 1683 1743 1688 1738 1687z"/>
<path fill="#23591a" d="M1707 1688 1703 1693 1706 1698 1700 1699 1697 1703 1693 1699 1688 1699 1688 1694 1684 1690 1689 1687 1690 1683 1695 1683 1700 1681 1702 1686z"/>
<path fill="#b8e686" d="M1705 1687 1701 1691 1703 1695 1698 1697 1696 1700 1692 1696 1687 1698 1689 1692 1685 1689 1689 1686 1690 1683 1694 1684 1698 1681 1699 1686z"/>
<path fill="#2b6a1d" d="M1630 1712 1633 1716 1637 1717 1635 1721 1638 1725 1633 1727 1634 1733 1629 1731 1625 1734 1622 1730 1618 1728 1619 1724 1616 1720 1621 1718 1621 1712 1626 1714z"/>
<path fill="#b8e686" d="M1629 1711 1631 1716 1635 1718 1633 1723 1634 1728 1628 1728 1624 1731 1620 1727 1617 1724 1619 1719 1618 1713 1624 1714z"/>
<path fill="#316f22" d="M1743 1644 1742 1650 1746 1653 1743 1656 1742 1660 1738 1659 1734 1664 1733 1658 1728 1657 1729 1653 1728 1649 1733 1648 1734 1643 1738 1645z"/>
<path fill="#aae276" d="M1741 1644 1741 1649 1745 1653 1740 1655 1739 1660 1734 1657 1730 1658 1730 1653 1726 1650 1730 1647 1732 1643 1736 1645z"/>
<path fill="#316f22" d="M1722 1677 1718 1679 1715 1682 1711 1679 1706 1678 1708 1673 1706 1667 1711 1666 1715 1663 1719 1667 1723 1668 1722 1673z"/>
<path fill="#b8e686" d="M1721 1676 1717 1676 1716 1680 1713 1677 1710 1678 1708 1675 1704 1673 1708 1670 1705 1666 1711 1667 1711 1662 1714 1666 1718 1665 1719 1667 1721 1669 1720 1672z"/>
<path fill="#316f22" d="M1618 1586 1617 1581 1613 1577 1618 1574 1619 1568 1624 1570 1630 1569 1630 1575 1633 1578 1629 1581 1628 1586 1623 1584z"/>
<path fill="#b8e686" d="M1618 1583 1617 1579 1614 1575 1617 1572 1619 1569 1623 1569 1628 1569 1628 1573 1631 1577 1628 1580 1626 1584 1622 1583z"/>
<path fill="#2b6a1d" d="M1673 1580 1676 1584 1682 1585 1679 1590 1681 1594 1676 1595 1673 1600 1670 1595 1665 1594 1667 1590 1665 1585 1670 1584z"/>
<path fill="#98d862" d="M1672 1580 1675 1583 1679 1584 1678 1588 1679 1592 1674 1593 1672 1596 1669 1592 1664 1592 1666 1588 1665 1584 1669 1583z"/>
<path fill="#316f22" d="M1661 1699 1661 1702 1663 1706 1658 1707 1657 1712 1653 1710 1648 1712 1649 1706 1644 1704 1648 1701 1647 1696 1651 1697 1655 1694 1657 1697z"/>
<path fill="#aae276" d="M1659 1697 1658 1701 1661 1704 1657 1705 1657 1708 1653 1707 1650 1710 1649 1706 1646 1706 1647 1703 1645 1700 1648 1699 1648 1694 1652 1696 1654 1693 1656 1696z"/>
<path fill="#23591a" d="M1619 1657 1615 1658 1613 1662 1609 1660 1605 1661 1605 1656 1601 1654 1604 1651 1604 1646 1608 1646 1612 1643 1614 1648 1618 1649 1616 1653z"/>
<path fill="#aae276" d="M1616 1654 1614 1656 1611 1659 1608 1658 1604 1659 1605 1654 1600 1652 1604 1649 1604 1645 1608 1646 1611 1642 1613 1646 1617 1647 1615 1651z"/>
<path fill="#316f22" d="M1619 1578 1623 1581 1628 1582 1626 1587 1627 1591 1624 1592 1621 1595 1617 1593 1613 1592 1613 1587 1611 1582 1616 1582z"/>
<path fill="#b8e686" d="M1618 1576 1621 1580 1624 1579 1625 1582 1627 1585 1625 1587 1625 1591 1621 1590 1619 1593 1617 1591 1613 1592 1613 1588 1611 1586 1613 1583 1612 1580 1616 1580z"/>
<path fill="#2b6a1d" d="M1671 1718 1676 1720 1682 1718 1683 1724 1687 1728 1683 1732 1681 1738 1676 1736 1670 1737 1669 1731 1666 1727 1670 1724z"/>
<path fill="#86cc52" d="M1671 1718 1675 1719 1681 1717 1682 1723 1686 1727 1681 1730 1679 1735 1675 1732 1670 1734 1669 1729 1666 1726 1669 1723z"/>
<path fill="#23591a" d="M1654 1711 1651 1712 1646 1715 1644 1710 1640 1708 1643 1704 1643 1699 1647 1700 1651 1697 1653 1702 1657 1703 1655 1707z"/>
<path fill="#86cc52" d="M1653 1709 1650 1710 1647 1712 1645 1708 1642 1708 1642 1705 1641 1702 1644 1700 1645 1696 1648 1699 1652 1697 1652 1701 1656 1703 1653 1706z"/>
<path fill="#316f22" d="M1703 1687 1702 1691 1705 1695 1700 1697 1698 1700 1694 1698 1690 1698 1691 1694 1688 1690 1692 1688 1694 1684 1698 1687z"/>
<path fill="#b8e686" d="M1701 1686 1700 1689 1702 1692 1700 1693 1700 1697 1697 1696 1694 1698 1692 1696 1689 1696 1691 1693 1688 1691 1691 1689 1690 1686 1693 1686 1695 1684 1698 1686z"/>
<path fill="#2b6a1d" d="M1715 1634 1714 1638 1716 1642 1711 1643 1711 1650 1706 1647 1702 1649 1700 1645 1696 1644 1698 1640 1694 1635 1700 1634 1701 1630 1705 1631 1709 1629 1711 1633z"/>
<path fill="#98d862" d="M1712 1633 1711 1638 1713 1643 1708 1644 1704 1647 1700 1643 1695 1642 1698 1637 1697 1632 1702 1632 1705 1628 1708 1631z"/>
<path fill="#2b6a1d" d="M1600 1706 1598 1711 1604 1715 1598 1716 1598 1721 1593 1720 1590 1725 1587 1720 1582 1720 1584 1715 1580 1711 1584 1709 1585 1705 1590 1705 1594 1700 1595 1707z"/>
<path fill="#98d862" d="M1598 1706 1598 1710 1600 1715 1594 1716 1592 1722 1588 1717 1581 1718 1584 1712 1582 1708 1587 1706 1589 1701 1593 1706z"/>
<path fill="#23591a" d="M1693 1624 1687 1627 1688 1633 1683 1631 1678 1636 1675 1631 1671 1629 1673 1624 1670 1619 1676 1618 1679 1614 1683 1617 1689 1615 1689 1621z"/>
<path fill="#aae276" d="M1691 1623 1686 1626 1685 1632 1680 1629 1675 1630 1673 1626 1669 1622 1674 1619 1674 1613 1680 1615 1685 1614 1686 1619z"/>
<path fill="#23591a" d="M1678 1757 1681 1753 1683 1749 1688 1750 1693 1750 1695 1754 1699 1759 1693 1762 1692 1768 1687 1765 1681 1766 1681 1760z"/>
<path fill="#98d862" d="M1678 1755 1680 1753 1680 1749 1684 1749 1687 1746 1689 1750 1693 1751 1693 1754 1695 1757 1692 1759 1693 1764 1688 1762 1685 1765 1683 1762 1679 1762 1680 1758z"/>
<path fill="#316f22" d="M1669 1600 1666 1596 1660 1597 1663 1590 1659 1587 1662 1584 1663 1579 1668 1581 1672 1575 1674 1581 1680 1580 1678 1586 1683 1589 1677 1591 1678 1598 1673 1597z"/>
<path fill="#b8e686" d="M1668 1597 1665 1593 1659 1591 1662 1586 1660 1580 1666 1580 1670 1575 1673 1581 1678 1582 1677 1587 1677 1592 1672 1593z"/>
<path fill="#2b6a1d" d="M1715 1731 1709 1732 1707 1737 1704 1733 1700 1732 1700 1728 1698 1724 1702 1723 1705 1720 1708 1723 1713 1722 1712 1727z"/>
<path fill="#86cc52" d="M1711 1728 1708 1729 1708 1733 1705 1732 1702 1733 1701 1729 1698 1729 1700 1726 1697 1723 1701 1722 1702 1719 1705 1721 1707 1719 1708 1722 1711 1723 1710 1726z"/>
<path fill="#23591a" d="M1655 1709 1659 1714 1666 1714 1663 1720 1666 1725 1660 1727 1657 1732 1652 1729 1648 1727 1647 1722 1647 1717 1651 1714z"/>
<path fill="#b8e686" d="M1654 1708 1658 1713 1664 1713 1661 1719 1665 1724 1659 1725 1656 1730 1652 1725 1647 1724 1648 1720 1645 1715 1651 1713z"/>
<path fill="#23591a" d="M1585 1694 1581 1690 1575 1690 1577 1684 1574 1681 1577 1678 1576 1672 1582 1672 1585 1669 1588 1673 1594 1673 1593 1678 1598 1681 1594 1685 1594 1691 1588 1689z"/>
<path fill="#86cc52" d="M1584 1691 1581 1686 1575 1688 1577 1682 1572 1679 1577 1677 1576 1671 1581 1673 1584 1668 1587 1673 1591 1672 1591 1677 1594 1680 1591 1683 1591 1687 1587 1687z"/>
<path fill="#23591a" d="M1708 1636 1709 1632 1705 1628 1709 1626 1711 1623 1715 1623 1719 1619 1721 1625 1726 1625 1723 1630 1728 1634 1722 1636 1722 1641 1717 1638 1713 1642 1711 1638z"/>
<path fill="#b8e686" d="M1706 1635 1709 1631 1705 1627 1709 1626 1709 1621 1714 1623 1717 1620 1719 1624 1724 1624 1722 1628 1724 1632 1720 1633 1720 1638 1716 1636 1712 1640 1710 1636z"/>
<path fill="#316f22" d="M1646 1743 1640 1742 1638 1746 1635 1742 1629 1744 1630 1739 1627 1736 1629 1733 1630 1729 1634 1729 1636 1725 1640 1727 1644 1728 1643 1732 1649 1735 1644 1738z"/>
<path fill="#aae276" d="M1644 1741 1638 1739 1634 1744 1632 1739 1627 1737 1629 1732 1628 1727 1634 1728 1638 1724 1641 1728 1645 1731 1642 1735z"/>
<path fill="#2b6a1d" d="M1633 1644 1638 1642 1640 1637 1645 1641 1649 1642 1649 1647 1654 1650 1650 1654 1650 1660 1644 1657 1639 1660 1636 1656 1631 1654 1635 1649z"/>
<path fill="#86cc52" d="M1631 1642 1637 1641 1640 1639 1644 1640 1647 1641 1648 1645 1651 1648 1647 1651 1646 1655 1642 1654 1639 1657 1636 1654 1632 1652 1633 1647z"/>
<path fill="#2b6a1d" d="M1603 1622 1607 1625 1611 1624 1611 1629 1615 1630 1612 1634 1615 1638 1610 1638 1608 1643 1605 1639 1601 1641 1600 1637 1596 1635 1599 1632 1596 1627 1601 1627z"/>
<path fill="#b8e686" d="M1602 1623 1606 1624 1610 1624 1610 1628 1613 1631 1610 1634 1611 1638 1606 1637 1603 1639 1601 1636 1597 1635 1599 1631 1596 1627 1601 1627z"/>
<path fill="#23591a" d="M1710 1695 1707 1700 1708 1706 1702 1706 1697 1709 1695 1704 1690 1701 1692 1697 1691 1690 1698 1691 1702 1688 1706 1692z"/>
<path fill="#86cc52" d="M1707 1694 1704 1698 1706 1704 1701 1703 1697 1706 1694 1702 1690 1699 1693 1695 1691 1689 1697 1690 1701 1688 1704 1692z"/>
<path fill="#2b6a1d" d="M1695 1755 1693 1761 1696 1767 1690 1768 1685 1773 1681 1768 1676 1766 1678 1761 1675 1755 1682 1755 1685 1750 1689 1754z"/>
<path fill="#aae276" d="M1693 1754 1691 1758 1693 1762 1690 1764 1690 1768 1685 1766 1682 1769 1680 1765 1675 1765 1678 1760 1675 1757 1679 1755 1679 1751 1683 1753 1687 1749 1688 1754z"/>
<path fill="#316f22" d="M1699 1653 1700 1649 1696 1645 1701 1644 1703 1641 1707 1642 1712 1642 1710 1647 1712 1650 1708 1652 1706 1657 1703 1653z"/>
<path fill="#aae276" d="M1699 1651 1699 1648 1696 1646 1699 1644 1698 1640 1702 1641 1704 1639 1706 1642 1709 1641 1708 1645 1711 1647 1708 1649 1708 1652 1705 1651 1703 1654 1701 1651z"/>
<path fill="#23591a" d="M1644 1614 1643 1610 1638 1610 1640 1606 1636 1602 1641 1601 1642 1598 1646 1599 1649 1597 1651 1600 1654 1601 1653 1604 1657 1608 1651 1609 1651 1613 1647 1611z"/>
<path fill="#aae276" d="M1643 1611 1642 1608 1638 1607 1639 1603 1637 1599 1642 1598 1644 1596 1647 1598 1650 1598 1651 1601 1655 1604 1651 1607 1650 1610 1646 1609z"/>
<path fill="#316f22" d="M1751 1713 1747 1715 1745 1721 1740 1716 1736 1717 1735 1713 1729 1709 1735 1706 1735 1701 1740 1702 1744 1697 1747 1702 1752 1704 1749 1709z"/>
<path fill="#92d45e" d="M1750 1711 1745 1712 1744 1717 1740 1715 1737 1716 1735 1712 1732 1711 1734 1707 1731 1703 1735 1702 1737 1697 1741 1700 1745 1697 1746 1702 1751 1703 1748 1707z"/>
<path fill="#23591a" d="M1670 1635 1665 1638 1666 1642 1662 1642 1659 1644 1657 1640 1653 1639 1655 1636 1652 1632 1657 1631 1658 1628 1662 1630 1666 1629 1666 1633z"/>
<path fill="#92d45e" d="M1666 1634 1664 1636 1665 1639 1661 1638 1660 1642 1658 1639 1654 1640 1655 1636 1651 1634 1654 1632 1654 1629 1657 1630 1659 1627 1661 1629 1664 1629 1663 1632z"/>
<path fill="#316f22" d="M1672 1752 1671 1757 1673 1761 1668 1763 1666 1766 1663 1763 1657 1764 1658 1759 1656 1755 1661 1754 1663 1750 1667 1753z"/>
<path fill="#aae276" d="M1670 1752 1668 1755 1671 1758 1667 1760 1667 1764 1663 1762 1660 1763 1660 1760 1656 1758 1658 1756 1657 1752 1661 1752 1663 1749 1665 1752z"/>
<path fill="#23591a" d="M1674 1727 1671 1725 1666 1724 1667 1720 1666 1716 1669 1713 1672 1711 1676 1713 1681 1713 1679 1718 1681 1722 1677 1723z"/>
<path fill="#aae276" d="M1673 1725 1670 1723 1667 1721 1666 1718 1665 1714 1669 1713 1671 1709 1674 1713 1678 1712 1678 1716 1679 1720 1675 1721z"/>
<path fill="#23591a" d="M1586 1604 1592 1606 1595 1603 1597 1606 1603 1606 1601 1611 1605 1614 1600 1617 1601 1622 1596 1621 1593 1624 1590 1621 1584 1621 1586 1615 1584 1612 1586 1609z"/>
<path fill="#b8e686" d="M1586 1604 1590 1604 1594 1601 1596 1605 1599 1606 1600 1609 1603 1613 1599 1615 1600 1620 1595 1619 1591 1622 1589 1617 1584 1618 1586 1614 1582 1611 1586 1608z"/>
<path fill="#23591a" d="M1620 1619 1616 1619 1614 1621 1611 1618 1607 1618 1608 1615 1606 1612 1609 1610 1610 1607 1614 1608 1617 1606 1618 1610 1621 1612 1619 1614z"/>
<path fill="#aae276" d="M1618 1616 1614 1616 1611 1618 1609 1616 1605 1615 1607 1611 1606 1607 1610 1607 1613 1605 1616 1607 1620 1609 1617 1613z"/>
<path fill="#23591a" d="M1627 1667 1622 1671 1622 1676 1617 1675 1613 1681 1609 1675 1605 1673 1605 1668 1603 1663 1609 1661 1612 1657 1616 1660 1622 1658 1621 1664z"/>
<path fill="#b8e686" d="M1624 1665 1620 1669 1621 1674 1616 1674 1612 1676 1609 1672 1603 1672 1605 1667 1603 1662 1608 1660 1611 1657 1615 1658 1620 1657 1620 1662z"/>
<path fill="#316f22" d="M1671 1663 1675 1660 1677 1655 1681 1656 1686 1654 1689 1659 1693 1661 1690 1666 1691 1671 1685 1671 1682 1676 1678 1673 1672 1673 1675 1666z"/>
<path fill="#aae276" d="M1670 1661 1675 1658 1678 1655 1682 1656 1688 1654 1688 1660 1691 1665 1686 1667 1685 1673 1680 1669 1674 1671 1675 1665z"/>
<path fill="#316f22" d="M1579 1704 1573 1704 1572 1708 1569 1708 1565 1709 1564 1705 1559 1705 1562 1701 1560 1697 1563 1695 1564 1691 1568 1694 1572 1690 1573 1695 1577 1696 1576 1700z"/>
<path fill="#86cc52" d="M1576 1702 1572 1704 1569 1707 1565 1704 1560 1704 1560 1700 1558 1696 1563 1694 1565 1689 1569 1693 1574 1692 1574 1697z"/>
<line x1="505" y1="0.8" x2="2015" y2="0.8" stroke="#555" stroke-width="1.8"/>
<line x1="505" y1="0" x2="505" y2="9" stroke="#555" stroke-width="1.6"/>
<line x1="2014" y1="0" x2="2014" y2="2560" stroke="#666" stroke-width="1.8"/>
<line x1="505" y1="2558.8" x2="2015" y2="2558.8" stroke="#666" stroke-width="2"/>
<line x1="505" y1="1830" x2="505" y2="1962" stroke="#555" stroke-width="1.6"/>
<line x1="505" y1="2079" x2="505" y2="2560" stroke="#555" stroke-width="1.6"/>
<line x1="4" y1="579.6" x2="385" y2="583.3" stroke="#444" stroke-width="1.8"/>
<line x1="508" y1="580" x2="628" y2="580" stroke="#444" stroke-width="1.6"/>
<line x1="686.4" y1="67" x2="686.4" y2="116" stroke="#333" stroke-width="1.6"/>
<line x1="686.2" y1="439" x2="686.2" y2="465" stroke="#333" stroke-width="1.6"/>
<line x1="682.2" y1="586" x2="682.2" y2="638" stroke="#333" stroke-width="1.6"/>
<line x1="682.5" y1="1178" x2="682.5" y2="1216" stroke="#333" stroke-width="1.6"/>
<line x1="684" y1="1453.4" x2="686" y2="1830" stroke="#444" stroke-width="1.6"/>
<line x1="0" y1="1673.5" x2="683" y2="1673.5" stroke="#333" stroke-width="1.6"/>
<line x1="0" y1="1830.4" x2="686.3" y2="1830.4" stroke="#444" stroke-width="1.8"/>
<rect x="677.5" y="1476.4" width="7.50" height="63.20" fill="#000"/>
<rect x="677.5" y="1600.3" width="7.50" height="62.70" fill="#000"/>
<path d="M632 475.5 L745.8 475.5 A113.79999999999995 102.0 0 0 1 632 577.5 Z" fill="#fafafa" stroke="none"/>
<path d="M745.8 475.5 A113.79999999999995 102.0 0 0 1 632 577.5 L632 475.5" fill="none" stroke="#111" stroke-width="2.8"/>
<rect x="631.5" y="465" width="114.80" height="11.00" fill="#000"/>
<path d="M689.5 1692.3 L802.3 1692.3 A112.79999999999995 103.0 0 0 1 689.5 1795.3 Z" fill="#fafafa" stroke="none"/>
<path d="M802.3 1692.3 A112.79999999999995 103.0 0 0 1 689.5 1795.3 L689.5 1692.3" fill="none" stroke="#111" stroke-width="2.8"/>
<rect x="689.0" y="1684" width="113.80" height="8.80" fill="#000"/>
<path d="M508.5 2232.5 L622.7 2232.5 A114.20000000000005 102.5 0 0 1 508.5 2335 Z" fill="#fafafa" stroke="none"/>
<path d="M622.7 2232.5 A114.20000000000005 102.5 0 0 1 508.5 2335 L508.5 2232.5" fill="none" stroke="#111" stroke-width="2.8"/>
<rect x="508.0" y="2224.6" width="115.20" height="8.40" fill="#000"/>
<path d="M400.4 581 L501.6 581 A101.2 113 0 0 1 400.4 694 Z" fill="#fafafa"/>
<path d="M400.4 581 L501.6 580.5 A101.2 113.5 0 0 1 400.4 694" fill="none" stroke="#111" stroke-width="2.8"/>
<rect x="391" y="581" width="9.50" height="113.50" fill="#000"/>
<path d="M636 1228 L750 1228 A114 103.5 0 0 1 636 1331.5 Z" fill="#fafafa"/>
<path d="M636 1437.5 L750 1437.5 A114 103.5 0 0 0 636 1334 Z" fill="#fafafa"/>
<path d="M750 1228 A114 103.5 0 0 1 636 1331.5" fill="none" stroke="#111" stroke-width="2.8"/>
<path d="M750 1437.5 A114 103.5 0 0 0 636 1334" fill="none" stroke="#111" stroke-width="2.8"/>
<line x1="636" y1="1228" x2="636" y2="1437.5" stroke="#111" stroke-width="2"/>
<rect x="635" y="1216.3" width="117.00" height="12.00" fill="#000"/>
<rect x="635" y="1437.5" width="117.00" height="12.10" fill="#000"/>
<rect x="720" y="125" width="143.00" height="22.00" fill="none" stroke="#555" stroke-width="1.8"/>
<rect x="895.5" y="125.3" width="143.20" height="22.20" fill="none" stroke="#555" stroke-width="1.8"/>
<rect x="1082.3" y="126.3" width="142.90" height="21.10" fill="none" stroke="#555" stroke-width="1.8"/>
<rect x="1263.5" y="126.6" width="142.90" height="21.70" fill="none" stroke="#555" stroke-width="1.8"/>
<rect x="733.5" y="177.5" width="218.70" height="176.10" fill="none" stroke="#555" stroke-width="1.8"/>
<rect x="961.2" y="181.5" width="218.60" height="177.40" fill="none" stroke="#555" stroke-width="1.8"/>
<rect x="1188.6" y="184.6" width="216.90" height="174.20" fill="none" stroke="#555" stroke-width="1.8"/>
<path d="M1716.6 110 L1496.2 110 A50 50 0 0 0 1446.2 160 L1446.2 455.5 A44 44 0 0 0 1490.2 499.5 L1716.6 499.5 Z" fill="none" stroke="#444" stroke-width="1.6"/>
<rect x="1470.1" y="594.4" width="251.40" height="412.60" fill="none" stroke="#666" stroke-width="1.8"/>
<rect x="839.5" y="1583.4" width="164.00" height="216.60" fill="none" stroke="#555" stroke-width="1.8"/>
<rect x="291.3" y="1522.5" width="377.50" height="75.10" fill="none" stroke="#222" stroke-width="1.6"/>
<line x1="479.8" y1="1522.5" x2="479.8" y2="1597.6" stroke="#222" stroke-width="1.6"/>
<rect x="1299" y="1787" width="585.40" height="380.50" fill="#000"/>
<rect x="1307.2" y="1795.4" width="569.20" height="363.60" fill="#fff"/>
<ellipse cx="810.4" cy="785.7" rx="48" ry="50" fill="#cbcbcb" stroke="#222" stroke-width="1.8"/>
<ellipse cx="814.4" cy="1003.6" rx="48" ry="50" fill="#cbcbcb" stroke="#222" stroke-width="1.8"/>
<ellipse cx="1583.5" cy="1149.6" rx="48" ry="50" fill="#cbcbcb" stroke="#222" stroke-width="1.8"/>
<ellipse cx="1506.5" cy="1295.3" rx="48" ry="50" fill="#cbcbcb" stroke="#222" stroke-width="1.8"/>
<ellipse cx="1487" cy="1712.3" rx="48" ry="50" fill="#cbcbcb" stroke="#222" stroke-width="1.8"/>
<ellipse cx="1334.2" cy="2267.3" rx="48" ry="50" fill="#cbcbcb" stroke="#222" stroke-width="1.8"/>
<ellipse cx="982" cy="2095.2" rx="48" ry="50" fill="#cbcbcb" stroke="#222" stroke-width="1.8"/>
<ellipse cx="1219.5" cy="2048.9" rx="48" ry="50" fill="#cbcbcb" stroke="#222" stroke-width="1.8"/>
<rect x="804" y="1440.3" width="873.00" height="23.30" fill="#333"/>
<rect x="842" y="1413.9" width="77.30" height="76.60" fill="#cbcbcb" stroke="#222" stroke-width="1.8"/>
<rect x="957.2" y="1417.1" width="76.90" height="76.90" fill="#cbcbcb" stroke="#222" stroke-width="1.8"/>
<rect x="1060.1" y="1414" width="76.90" height="76.50" fill="#cbcbcb" stroke="#222" stroke-width="1.8"/>
<rect x="1160.2" y="1413.2" width="76.90" height="76.60" fill="#cbcbcb" stroke="#222" stroke-width="1.8"/>
<rect x="1263.5" y="1410" width="76.50" height="76.30" fill="#cbcbcb" stroke="#222" stroke-width="1.8"/>
<rect x="1370.7" y="1409.5" width="76.90" height="76.70" fill="#cbcbcb" stroke="#222" stroke-width="1.8"/>
<rect x="1473.7" y="1405.8" width="76.90" height="76.70" fill="#cbcbcb" stroke="#222" stroke-width="1.8"/>
<rect x="1573.8" y="1405.3" width="76.70" height="76.70" fill="#cbcbcb" stroke="#222" stroke-width="1.8"/>
<rect x="1677" y="1401.9" width="76.70" height="76.70" fill="#cbcbcb" stroke="#222" stroke-width="1.8"/>
<rect x="787.3" y="2242.5" width="220.10" height="272.60" fill="#999" stroke="#444" stroke-width="1.6"/>
<rect x="1007.4" y="2241.7" width="218.00" height="272.60" fill="#999" stroke="#444" stroke-width="1.6"/>
<path d="M1724.4 2535.9 L1724.4 2220.5 L1504.6 2220.5 Q1455 2222 1451.6 2282.3 L1454.5 2295.7" fill="none" stroke="#444" stroke-width="1.6"/>
<line x1="1451.6" y1="2290" x2="1447.9" y2="2531.5" stroke="#444" stroke-width="1.6"/>
<rect x="1528.6" y="2319.5" width="179.50" height="202.00" fill="#d1d3d4" stroke="#333" stroke-width="1.8"/>
<ellipse cx="1571.8" cy="2248.3" rx="16.2" ry="13.9" fill="#333"/>
<ellipse cx="1629.2" cy="2250" rx="16.2" ry="13.9" fill="#333"/>
<ellipse cx="1686.3" cy="2250" rx="16.2" ry="13.9" fill="#333"/>
<ellipse cx="1423.4" cy="2264.1" rx="16.2" ry="13.9" fill="#333"/>
<ellipse cx="1422.3" cy="2308.6" rx="16.2" ry="13.9" fill="#333"/>
<ellipse cx="1425.2" cy="2361.3" rx="16.2" ry="13.9" fill="#333"/>
<ellipse cx="1423.8" cy="2409.6" rx="16.2" ry="13.9" fill="#333"/>
<ellipse cx="1426.7" cy="2463.6" rx="16.2" ry="13.9" fill="#333"/>
<path d="M725.2 1334 L771.6 1311.2 L771.6 1356.8 Z" fill="#000"/>
<rect x="770.6" y="1330.35" width="13.00" height="7.30" fill="#000"/>
<rect x="791.8437324339517" y="1330.35" width="14.60" height="7.30" fill="#000"/>
<rect x="814.328274311411" y="1330.35" width="14.60" height="7.30" fill="#000"/>
<rect x="837.0938729623384" y="1330.35" width="14.60" height="7.30" fill="#000"/>
<rect x="860.1405283867341" y="1330.35" width="14.60" height="7.30" fill="#000"/>
<rect x="883.1871838111299" y="1330.35" width="14.60" height="7.30" fill="#000"/>
<rect x="905.1096121416526" y="1330.35" width="14.60" height="7.30" fill="#000"/>
<rect x="928.4373243395166" y="1330.35" width="14.60" height="7.30" fill="#000"/>
<rect x="951.4839797639123" y="1330.35" width="14.60" height="7.30" fill="#000"/>
<rect x="974.530635188308" y="1330.35" width="14.60" height="7.30" fill="#000"/>
<rect x="997.2962338392356" y="1330.35" width="14.60" height="7.30" fill="#000"/>
<rect x="1019.7807757166947" y="1330.35" width="14.60" height="7.30" fill="#000"/>
<path d="M1043 1330.1 L1050.5 1330.1 L1054.4 1327 L1058.6 1332.6 L1053 1337.2 L1043 1337.2 Z" fill="#000"/>
<path d="M446.5 2037.6 L492.7 2014.8999999999999 L492.7 2060.2999999999997 Z" fill="#000"/>
<rect x="491.7" y="2033.9499999999998" width="13.00" height="7.30" fill="#000"/>
<rect x="513.1040176114475" y="2033.9499999999998" width="14.90" height="7.30" fill="#000"/>
<rect x="535.3935057787562" y="2033.9499999999998" width="14.90" height="7.30" fill="#000"/>
<rect x="558.5085305448541" y="2033.9499999999998" width="14.90" height="7.30" fill="#000"/>
<rect x="580.798018712163" y="2033.9499999999998" width="14.90" height="7.30" fill="#000"/>
<rect x="603.9130434782609" y="2033.9499999999998" width="14.90" height="7.30" fill="#000"/>
<rect x="626.7528893780958" y="2033.9499999999998" width="14.90" height="7.30" fill="#000"/>
<rect x="649.3175564116676" y="2033.9499999999998" width="14.90" height="7.30" fill="#000"/>
<rect x="672.1574023115024" y="2033.9499999999998" width="14.90" height="7.30" fill="#000"/>
<rect x="694.9972482113374" y="2033.9499999999998" width="14.90" height="7.30" fill="#000"/>
<rect x="717.5619152449092" y="2033.9499999999998" width="14.90" height="7.30" fill="#000"/>
<rect x="740.9521188772702" y="2033.9499999999998" width="14.90" height="7.30" fill="#000"/>
<rect x="763.7919647771051" y="2033.9499999999998" width="14.90" height="7.30" fill="#000"/>
<rect x="786.906989543203" y="2033.9499999999998" width="14.90" height="7.30" fill="#000"/>
<rect x="809.746835443038" y="2033.9499999999998" width="14.90" height="7.30" fill="#000"/>
<rect x="832.3115024766098" y="2033.9499999999998" width="14.90" height="7.30" fill="#000"/>
<rect x="855.1513483764447" y="2033.9499999999998" width="14.90" height="7.30" fill="#000"/>
<text transform="translate(247.21 251.10) scale(0.6100 0.6171)" font-size="100" style="white-space:pre" font-weight="normal" fill="#363435">INSIDE</text>
<text transform="translate(242.19 319.60) scale(0.6134 0.6171)" font-size="100" style="white-space:pre" font-weight="normal" fill="#363435">DINING</text>
<text transform="translate(266.40 388.10) scale(0.6088 0.6333)" font-size="100" style="white-space:pre" font-weight="normal" fill="#363435">AREA</text>
<text transform="translate(222.18 1104.60) scale(0.6112 0.6229)" font-size="100" style="white-space:pre" font-weight="normal" fill="#363435">J-SEI</text>
<text transform="translate(151.59 1173.40) scale(0.6138 0.6200)" font-size="100" style="white-space:pre" font-weight="normal" fill="#363435">BUILDING</text>
<text transform="translate(850.85 663.00) scale(1.0135 1.0529)" font-size="100" style="white-space:pre" font-weight="bold" fill="#363435">OUTSIDE</text>
<text transform="translate(809.44 238.20) scale(0.4524 0.5029)" font-size="100" style="white-space:pre" font-weight="bold" fill="#363435">21</text>
<text transform="translate(786.83 288.50) scale(0.4094 0.4071)" font-size="100" style="white-space:pre" font-weight="bold" fill="#000">KIM’S</text>
<text transform="translate(782.38 334.20) scale(0.4081 0.4171)" font-size="100" style="white-space:pre" font-weight="bold" fill="#000">SUSHI</text>
<text transform="translate(1037.22 242.60) scale(0.4933 0.4986)" font-size="100" style="white-space:pre" font-weight="bold" fill="#363435">22</text>
<text transform="translate(1001.18 292.30) scale(0.4085 0.4257)" font-size="100" style="white-space:pre" font-weight="bold" fill="#363435">JANE’S</text>
<text transform="translate(974.85 339.20) scale(0.3353 0.4271)" font-size="100" style="white-space:pre" font-weight="bold" fill="#363435">HOMEMADE</text>
<text transform="translate(1267.06 242.60) scale(0.4796 0.5029)" font-size="100" style="white-space:pre" font-weight="bold" fill="#363435">24</text>
<text transform="translate(1234.95 292.30) scale(0.4068 0.4101)" font-size="100" style="white-space:pre" font-weight="bold" fill="#363435">MUME</text>
<text transform="translate(1239.02 339.00) scale(0.4119 0.4304)" font-size="100" style="white-space:pre" font-weight="bold" fill="#363435">FARM</text>
<text transform="translate(1536.30 293.40) scale(0.3486 0.3384)" font-size="100" style="white-space:pre" font-weight="normal" fill="#363435">Trash</text>
<text transform="translate(1491.49 332.90) scale(0.3518 0.3164)" font-size="100" style="white-space:pre" font-weight="normal" fill="#363435">Receptacle</text>
<text transform="translate(1518.02 371.50) scale(0.3537 0.3219)" font-size="100" style="white-space:pre" font-weight="normal" fill="#363435">housing</text>
<text transform="translate(1918.90 514.54) rotate(-90) scale(0.6074 0.6600)" font-size="100" style="white-space:pre" font-weight="normal" fill="#363435">66TH  STREET</text>
<text transform="translate(1567.06 730.50) scale(0.5135 0.5071)" font-size="100" style="white-space:pre" font-weight="bold" fill="#363435">23</text>
<text transform="translate(1504.58 804.80) scale(0.4082 0.4214)" font-size="100" style="white-space:pre" font-weight="bold" fill="#000">SECRETS</text>
<text transform="translate(1504.66 850.30) scale(0.4088 0.4214)" font-size="100" style="white-space:pre" font-weight="bold" fill="#000">OF TIGER</text>
<text transform="translate(1458.78 1085.10) scale(0.3556 0.3726)" font-size="100" style="white-space:pre" font-weight="bold" fill="#000">Cocktail tables</text>
<text transform="translate(827.37 1259.00) scale(0.4433 0.4594)" font-size="100" style="white-space:pre" font-weight="bold" fill="#363435">ATRIUM</text>
<text transform="translate(795.57 1308.80) scale(0.4441 0.4629)" font-size="100" style="white-space:pre" font-weight="bold" fill="#363435">SHOPPING</text>
<text transform="translate(1252.18 1399.20) scale(0.3561 0.3616)" font-size="100" style="white-space:pre" font-weight="bold" fill="#000">Chairs</text>
<text transform="translate(457.02 1534.80) scale(0.3924 0.4200)" font-size="100" style="white-space:pre" font-weight="bold" fill="#000">33</text>
<text transform="translate(264.38 1581.10) scale(0.4053 0.4329)" font-size="100" style="white-space:pre" font-weight="bold" fill="#000">COOKIE COLLECTIVE</text>
<text transform="translate(912.80 1720.15) rotate(-90) scale(0.4752 0.5186)" font-size="100" style="white-space:pre" font-weight="bold" fill="#363435">32</text>
<text transform="translate(963.90 1770.02) rotate(-90) scale(0.4055 0.4457)" font-size="100" style="white-space:pre" font-weight="bold" fill="#363435">OKKON</text>
<text transform="translate(535.90 1961.10) scale(0.4403 0.4600)" font-size="100" style="white-space:pre" font-weight="bold" fill="#363435">WAREHOUSE</text>
<text transform="translate(563.47 2011.40) scale(0.4443 0.4629)" font-size="100" style="white-space:pre" font-weight="bold" fill="#363435">SHOPPING</text>
<text transform="translate(724.51 2228.60) scale(0.5224 0.5329)" font-size="100" style="white-space:pre" font-weight="bold" fill="#000">Outside Entertainment</text>
<text transform="translate(1582.30 2435.20) scale(0.3425 0.3571)" font-size="100" style="white-space:pre" font-weight="bold" fill="#363435">PGE</text>
<text transform="translate(1348.37 1865.10) scale(0.4853 0.4575)" font-size="100" style="white-space:pre" font-weight="normal" fill="#000">21 - Kim’s Sushi</text>
<text transform="translate(1348.38 1917.70) scale(0.4833 0.4575)" font-size="100" style="white-space:pre" font-weight="normal" fill="#000">22 - Jane’s Homemade</text>
<text transform="translate(1348.38 1971.50) scale(0.4831 0.4630)" font-size="100" style="white-space:pre" font-weight="normal" fill="#000">23 - Secrets of Tiger</text>
<text transform="translate(1348.38 2024.80) scale(0.4843 0.4771)" font-size="100" style="white-space:pre" font-weight="normal" fill="#000">24 - Mume Farm</text>
<text transform="translate(1348.87 2079.30) scale(0.4835 0.4726)" font-size="100" style="white-space:pre" font-weight="normal" fill="#000">32 - Okkon</text>
<text transform="translate(1348.87 2133.00) scale(0.4827 0.4726)" font-size="100" style="white-space:pre" font-weight="normal" fill="#000">33 - Cookie Collective</text>
</svg>
</body></html>
